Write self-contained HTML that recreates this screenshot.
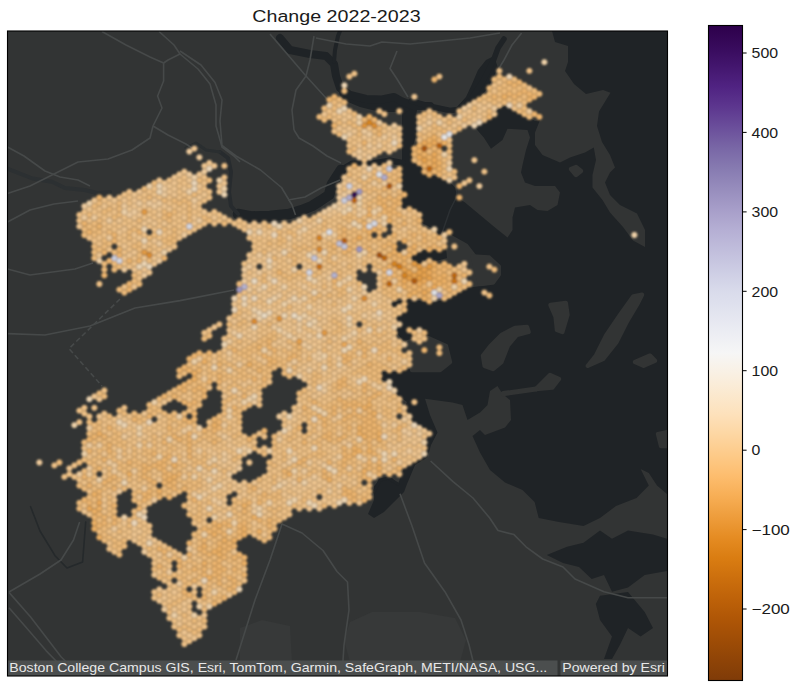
<!DOCTYPE html><html><head><meta charset="utf-8"><title>Change 2022-2023</title>
<style>html,body{margin:0;padding:0;background:#fff}body{width:800px;height:686px;overflow:hidden}svg{display:block}text{font-family:"Liberation Sans",sans-serif}</style></head><body>
<svg width="800" height="686" viewBox="0 0 800 686">
<defs><linearGradient id="cb" x1="0" y1="0" x2="0" y2="1"><stop offset="0.0000" stop-color="rgb(45,0,75)"/><stop offset="0.0312" stop-color="rgb(55,10,91)"/><stop offset="0.0625" stop-color="rgb(67,22,110)"/><stop offset="0.0938" stop-color="rgb(80,35,130)"/><stop offset="0.1250" stop-color="rgb(93,55,143)"/><stop offset="0.1562" stop-color="rgb(107,79,155)"/><stop offset="0.1875" stop-color="rgb(121,103,166)"/><stop offset="0.2188" stop-color="rgb(135,123,177)"/><stop offset="0.2500" stop-color="rgb(151,141,189)"/><stop offset="0.2812" stop-color="rgb(167,158,201)"/><stop offset="0.3125" stop-color="rgb(181,175,212)"/><stop offset="0.3438" stop-color="rgb(193,190,220)"/><stop offset="0.3750" stop-color="rgb(205,205,228)"/><stop offset="0.4062" stop-color="rgb(217,219,235)"/><stop offset="0.4375" stop-color="rgb(226,228,239)"/><stop offset="0.4688" stop-color="rgb(236,237,243)"/><stop offset="0.5000" stop-color="rgb(246,246,246)"/><stop offset="0.5312" stop-color="rgb(249,240,227)"/><stop offset="0.5625" stop-color="rgb(251,233,207)"/><stop offset="0.5938" stop-color="rgb(253,225,187)"/><stop offset="0.6250" stop-color="rgb(253,214,162)"/><stop offset="0.6562" stop-color="rgb(253,202,136)"/><stop offset="0.6875" stop-color="rgb(253,189,110)"/><stop offset="0.7188" stop-color="rgb(247,174,85)"/><stop offset="0.7500" stop-color="rgb(238,157,60)"/><stop offset="0.7812" stop-color="rgb(229,140,35)"/><stop offset="0.8125" stop-color="rgb(218,125,18)"/><stop offset="0.8438" stop-color="rgb(204,111,13)"/><stop offset="0.8750" stop-color="rgb(190,98,9)"/><stop offset="0.9062" stop-color="rgb(175,86,6)"/><stop offset="0.9375" stop-color="rgb(159,77,6)"/><stop offset="0.9688" stop-color="rgb(143,68,7)"/><stop offset="1.0000" stop-color="rgb(127,59,8)"/></linearGradient>
<filter id="soft" x="0" y="0" width="800" height="686" filterUnits="userSpaceOnUse"><feGaussianBlur stdDeviation="0.8"/></filter>
<clipPath id="fr"><rect x="7.5" y="31.0" width="660.0" height="645.0"/></clipPath></defs>
<rect width="800" height="686" fill="#fff"/>
<g clip-path="url(#fr)">
<rect x="0" y="0" width="800" height="686" fill="#323434"/>
<g fill="#1f2326">
<path d="M552.0 31.0 L667.0 31.0 L667.0 494.0 L657.0 485.6 L648.8 473.0 L640.6 469.0 L648.8 485.6 L636.5 498.0 L616.0 506.0 L600.0 518.0 L583.5 526.0 L559.0 522.0 L538.7 518.0 L534.6 502.0 L522.5 490.0 L505.0 482.5 L490.0 470.0 L480.0 452.5 L472.5 436.0 L480.0 430.0 L485.0 435.0 L505.0 427.5 L511.0 420.0 L510.0 400.0 L502.5 394.0 L497.5 386.0 L490.0 391.0 L487.5 405.0 L480.0 412.5 L467.5 420.0 L462.5 405.0 L452.5 402.5 L425.0 398.8 L430.0 415.0 L437.5 432.5 L431.0 445.0 L427.5 457.5 L415.0 465.0 L407.0 484.0 L398.0 484.0 L404.0 468.0 L414.0 452.0 L420.0 440.0 L426.0 432.0 L416.0 427.5 L410.0 420.0 L401.0 415.5 L407.0 402.0 L395.0 393.0 L392.0 382.5 L381.7 379.5 L383.0 372.0 L398.0 372.0 L410.0 369.0 L413.0 352.5 L407.0 345.0 L398.0 334.5 L396.0 318.0 L392.0 303.0 L408.0 299.0 L430.0 303.0 L445.0 300.0 L467.0 288.0 L491.0 284.6 L498.0 272.7 L494.7 264.0 L478.0 257.5 L467.6 244.0 L451.5 235.0 L450.0 231.0 L444.0 233.0 L440.0 238.0 L436.0 230.0 L422.0 223.0 L418.0 212.0 L402.5 207.5 L402.5 175.0 L400.0 167.5 L402.0 160.0 L402.0 108.0 L418.0 103.5 L416.0 116.0 L416.0 135.0 L411.0 154.0 L414.0 162.5 L420.0 166.0 L425.0 172.5 L432.5 176.0 L440.0 177.5 L449.0 181.0 L455.0 187.5 L457.5 197.5 L465.0 202.5 L480.0 215.0 L495.0 227.5 L507.5 237.5 L512.5 230.0 L512.5 217.5 L515.0 207.5 L530.0 205.0 L537.5 210.0 L547.5 211.0 L557.5 205.0 L560.0 192.5 L555.0 186.0 L535.0 186.0 L525.0 182.5 L521.0 172.5 L522.5 165.0 L526.0 150.0 L530.0 137.5 L527.5 130.0 L507.5 128.8 L502.5 140.0 L491.0 148.8 L483.8 137.5 L475.0 127.5 L480.0 122.0 L497.5 110.0 L505.0 106.0 L520.0 113.0 L535.0 121.0 L540.0 120.0 L535.0 132.5 L535.0 145.0 L542.5 155.0 L560.0 162.5 L570.0 157.5 L585.0 152.5 L593.8 147.5 L596.0 160.0 L592.5 175.0 L592.5 187.5 L602.5 200.0 L610.0 212.5 L623.0 227.0 L633.0 240.6 L645.0 247.0 L645.0 230.0 L637.0 213.5 L620.0 205.0 L610.0 195.0 L605.0 182.5 L610.0 172.5 L615.0 167.5 L610.0 155.0 L602.0 142.0 L597.0 126.0 L599.0 111.6 L606.0 100.0 L610.5 92.7 L603.0 90.0 L586.0 94.0 L574.0 84.0 L565.0 71.0 L568.0 62.0 L568.0 46.0 L555.0 42.0Z"/>
<path d="M455.0 109.0 L466.0 97.0 L472.0 84.0 L478.0 70.0 L486.0 60.0 L494.0 56.0 L498.0 68.0 L488.0 88.0 L478.0 99.0 L468.0 111.0Z"/>
<path d="M567.0 546.8 L583.5 542.7 L600.0 530.5 L612.0 538.7 L628.0 530.5 L653.0 534.6 L667.0 538.7 L667.0 571.0 L644.7 575.0 L628.0 587.6 L612.0 591.7 L604.0 575.0 L591.7 579.0 L579.0 567.0 L563.0 563.0 L546.8 555.0Z"/>
<path d="M600.0 595.8 L628.0 592.0 L644.7 612.0 L653.0 628.0 L640.6 636.5 L628.0 628.0 L620.0 644.7 L612.0 659.0 L604.0 659.0 L612.0 636.5 L600.0 620.0 L595.8 604.0Z"/>
<path d="M338.0 88.0 L350.0 96.0 L366.0 100.0 L382.0 100.0 L394.0 96.0 L402.0 102.0 L412.0 108.0 L404.0 114.0 L396.0 112.0 L384.0 112.0 L372.0 110.0 L360.0 107.0 L348.0 102.0 L340.0 96.0Z"/>
<path d="M398.0 484.0 L407.0 484.0 L404.0 492.0 L394.0 502.0 L384.0 512.0 L374.0 518.0 L368.0 514.0 L374.0 500.0 L374.0 486.0 L382.0 478.0 L392.0 478.0Z"/>
<path d="M412.0 256.0 L424.0 250.0 L446.0 248.0 L447.0 258.0 L436.0 261.0 L426.0 259.0 L422.0 265.0 L413.0 260.0Z"/>
</g>
<g fill="none" stroke="#1f2326" stroke-linecap="round" stroke-linejoin="round">
<path stroke-width="8.0" d="M280.0 38.0 L290.0 50.0 L310.0 54.0 L326.0 56.0 L334.0 64.0 L336.0 76.0 L340.0 88.0 L350.0 95.0 L366.0 99.0 L382.0 99.5 L394.0 97.0 L401.0 101.0 L414.0 106.0 L430.0 106.0"/>
<path stroke-width="4.0" d="M334.0 62.0 L335.0 50.0 L338.0 36.0 L340.0 31.0"/>
<path stroke-width="5.5" d="M411.0 101.0 L429.0 106.0 L450.0 110.5 L462.0 109.0 L471.0 99.0 L477.0 90.0 L483.0 81.0 L487.6 72.0 L493.6 60.0 L498.0 48.0 L504.0 39.0"/>
<path stroke-width="6.0" d="M403.0 163.0 L390.0 160.5 L372.0 163.5 L352.0 163.5 L341.0 170.0"/>
<path stroke-width="10.5" d="M341.0 170.0 L332.0 184.0 L329.0 195.0 L320.0 201.0 L312.0 206.0 L302.0 210.0 L289.0 214.0 L270.0 216.0 L251.0 216.5 L238.0 214.0"/>
<path stroke-width="4.0" stroke="#272b2e" d="M238.0 214.0 L231.0 206.0 L229.0 192.0 L231.0 172.0 L228.0 158.0 L220.0 152.0"/>
<path stroke-width="3.0" stroke="#2a2e30" d="M220.0 152.0 L206.0 150.0 L196.0 143.0 L186.0 148.0"/>
<path stroke-width="4.0" stroke="#2c3032" d="M8.0 168.8 L32.5 178.5 L52.0 181.8 L65.0 188.0 L84.5 190.0 L97.5 193.0 L110.0 192.0"/>
<path stroke-width="1.6" stroke="#25292b" d="M30.6 506.7 L40.0 531.0 L55.0 555.7 L67.0 568.0 L82.6 562.0 L85.7 522.0"/>
<path stroke-width="1.5" stroke="#2c3033" d="M441.0 236.0 L450.0 210.0 L456.0 198.0 L459.0 180.0"/>
<path stroke-width="3.0" d="M398.0 484.0 L388.0 478.0 L380.0 480.0 L374.0 492.0"/>
</g>
<g fill="#323434">
<path d="M548.5 305.9 L553.4 317.3 L554.8 330.2 L554.8 330.4 L554.9 330.7 L555.0 330.9 L555.1 331.1 L555.2 331.3 L555.3 331.4 L555.5 331.6 L555.7 331.7 L555.8 331.9 L556.0 332.0 L556.2 332.1 L561.6 334.1 L561.8 334.1 L562.0 334.2 L562.3 334.2 L562.5 334.2 L562.7 334.2 L562.9 334.1 L563.1 334.1 L563.3 334.0 L563.5 333.9 L563.7 333.8 L563.8 333.7 L564.0 333.5 L564.1 333.4 L564.2 333.2 L564.3 333.0 L564.4 332.8 L564.5 332.6 L569.6 315.6 L569.7 315.4 L569.7 315.2 L569.7 314.9 L569.7 314.7 L568.0 302.7 L567.9 302.5 L567.9 302.3 L567.8 302.1 L567.7 301.9 L567.6 301.7 L567.4 301.5 L567.3 301.4 L567.1 301.2 L567.0 301.1 L566.8 301.0 L566.6 300.9 L566.4 300.9 L566.2 300.8 L565.9 300.8 L565.7 300.8 L565.5 300.8 L550.2 302.8 L550.0 302.9 L549.8 302.9 L549.6 303.0 L549.4 303.1 L549.2 303.2 L549.1 303.3 L548.9 303.5 L548.8 303.6 L548.6 303.8 L548.5 304.0 L548.4 304.2 L548.4 304.4 L548.3 304.6 L548.3 304.8 L548.3 305.0 L548.3 305.3 L548.4 305.5 L548.4 305.7Z"/>
<path d="M644.0 295.7 L644.0 295.5 L644.1 295.3 L644.2 295.1 L644.2 294.9 L644.2 294.7 L644.2 294.5 L644.2 294.2 L644.1 294.0 L644.0 293.8 L643.9 293.6 L643.8 293.5 L643.7 293.3 L643.5 293.1 L643.4 293.0 L643.2 292.9 L643.0 292.8 L642.8 292.7 L642.6 292.6 L642.4 292.5 L642.2 292.5 L642.0 292.5 L641.8 292.5 L641.6 292.5 L633.0 294.2 L632.8 294.3 L632.6 294.4 L632.4 294.4 L632.2 294.5 L632.0 294.7 L631.9 294.8 L631.7 295.0 L631.6 295.1 L618.2 313.7 L618.2 313.8 L604.6 333.8 L604.4 334.0 L594.1 354.4 L586.1 364.4 L586.0 364.6 L585.8 364.8 L585.8 365.0 L585.7 365.2 L585.6 365.4 L585.6 365.6 L585.6 365.8 L585.6 366.0 L585.6 366.3 L585.7 366.5 L585.8 366.7 L585.9 366.9 L586.0 367.1 L586.1 367.2 L586.3 367.4 L586.4 367.5 L586.6 367.7 L586.8 367.8 L587.0 367.9 L587.2 367.9 L587.4 368.0 L587.6 368.0 L587.9 368.0 L588.1 368.0 L588.3 367.9 L588.5 367.9 L588.7 367.8 L603.9 361.0 L604.1 360.9 L604.3 360.8 L604.4 360.7 L604.6 360.5 L604.7 360.4 L618.2 343.4 L618.4 343.2 L618.5 343.0 L628.6 322.9 L638.7 306.0 L638.8 305.9Z"/>
<path d="M480.8 355.9 L482.4 366.1 L482.5 366.3 L482.5 366.5 L482.6 366.7 L482.7 366.9 L482.8 367.1 L483.0 367.3 L483.1 367.4 L483.3 367.6 L483.4 367.7 L483.6 367.8 L483.8 367.9 L492.2 371.1 L492.4 371.1 L492.6 371.2 L492.8 371.2 L493.0 371.2 L493.3 371.2 L493.5 371.2 L493.7 371.1 L493.9 371.0 L494.0 370.9 L494.2 370.8 L494.4 370.7 L502.9 363.7 L503.1 363.5 L503.2 363.4 L503.3 363.2 L503.5 363.0 L503.5 362.8 L509.9 346.6 L517.9 337.0 L529.1 334.1 L529.3 334.1 L529.5 334.0 L529.7 333.9 L529.9 333.8 L530.1 333.6 L530.2 333.5 L530.3 333.3 L530.5 333.2 L530.6 333.0 L530.7 332.8 L530.7 332.6 L530.8 332.4 L530.8 332.2 L530.8 332.0 L530.8 331.7 L530.7 331.5 L530.7 331.3 L529.1 326.3 L529.0 326.1 L528.9 325.9 L528.8 325.8 L528.7 325.6 L528.5 325.4 L528.4 325.3 L528.2 325.2 L528.0 325.1 L527.9 325.0 L527.7 324.9 L527.4 324.8 L527.2 324.8 L527.0 324.8 L526.8 324.8 L514.8 325.8 L514.6 325.8 L514.4 325.9 L514.2 326.0 L514.0 326.0 L500.5 333.0 L500.3 333.2 L500.1 333.3 L499.9 333.4 L489.4 343.9 L489.3 344.1 L481.3 354.2 L481.1 354.4 L481.0 354.6 L480.9 354.8 L480.9 355.0 L480.8 355.3 L480.8 355.5 L480.8 355.7Z"/>
<path d="M634.1 364.0 L642.7 367.8 L642.9 367.9 L643.1 367.9 L643.3 368.0 L643.5 368.0 L643.7 368.0 L643.9 368.0 L644.1 367.9 L644.3 367.9 L644.5 367.8 L655.9 362.7 L656.1 362.6 L656.3 362.5 L656.4 362.4 L656.6 362.2 L656.7 362.1 L656.8 361.9 L657.0 361.7 L657.0 361.5 L657.1 361.3 L657.2 361.1 L657.2 360.9 L657.2 360.7 L657.2 360.5 L657.2 360.3 L657.1 360.1 L657.0 359.9 L656.9 359.7 L656.8 359.5 L656.7 359.3 L656.6 359.2 L651.6 354.1 L651.4 353.9 L651.2 353.8 L651.0 353.7 L650.8 353.6 L650.6 353.5 L650.4 353.4 L650.2 353.4 L650.0 353.4 L649.8 353.4 L649.6 353.4 L649.3 353.5 L649.1 353.6 L634.1 360.0 L633.9 360.1 L633.8 360.2 L633.6 360.3 L633.4 360.5 L633.3 360.6 L633.2 360.8 L633.1 361.0 L633.0 361.2 L632.9 361.4 L632.8 361.6 L632.8 361.8 L632.8 362.0 L632.8 362.2 L632.8 362.4 L632.9 362.6 L633.0 362.8 L633.0 363.0 L633.2 363.2 L633.3 363.4 L633.4 363.5 L633.6 363.7 L633.7 363.8 L633.9 363.9Z"/>
<path d="M536.2 391.2 L552.7 389.7 L552.9 389.7 L553.1 389.6 L553.4 389.5 L553.6 389.4 L553.8 389.3 L553.9 389.2 L554.1 389.0 L554.2 388.8 L560.7 380.3 L560.9 380.2 L561.0 380.0 L561.1 379.8 L561.1 379.5 L561.2 379.3 L561.2 379.1 L561.2 378.9 L561.2 378.7 L561.1 378.5 L561.1 378.2 L561.0 378.0 L560.9 377.8 L560.7 377.7 L560.6 377.5 L560.4 377.3 L560.3 377.2 L560.1 377.1 L559.9 377.0 L550.9 373.0 L550.7 372.9 L550.5 372.9 L550.3 372.8 L550.0 372.8 L549.8 372.8 L549.6 372.8 L549.4 372.9 L549.2 373.0 L549.0 373.1 L548.8 373.2 L548.6 373.3 L548.4 373.4 L534.4 387.4 L534.3 387.6 L534.2 387.8 L534.1 388.0 L534.0 388.2 L533.9 388.4 L533.8 388.6 L533.8 388.8 L533.8 389.0 L533.8 389.2 L533.8 389.4 L533.9 389.6 L534.0 389.8 L534.1 390.0 L534.2 390.2 L534.3 390.4 L534.4 390.5 L534.6 390.7 L534.8 390.8 L535.0 390.9 L535.1 391.0 L535.3 391.1 L535.6 391.2 L535.8 391.2 L536.0 391.2Z"/>
<path d="M569.3 170.4 L574.3 176.4 L574.5 176.6 L574.6 176.7 L574.8 176.8 L575.0 176.9 L575.2 177.0 L575.4 177.1 L575.6 177.2 L575.8 177.2 L576.0 177.2 L576.2 177.2 L576.4 177.2 L576.6 177.1 L576.8 177.0 L577.0 177.0 L577.2 176.8 L577.4 176.7 L582.4 172.7 L582.5 172.6 L582.7 172.4 L582.8 172.2 L582.9 172.1 L583.0 171.9 L583.1 171.6 L583.2 171.4 L583.2 171.2 L583.2 171.0 L583.2 170.8 L583.2 170.6 L583.1 170.4 L583.0 170.1 L582.9 169.9 L582.8 169.8 L582.7 169.6 L582.5 169.4 L582.4 169.3 L577.4 165.3 L577.2 165.2 L577.0 165.1 L576.8 165.0 L576.6 164.9 L576.4 164.8 L576.2 164.8 L576.0 164.8 L575.8 164.8 L575.6 164.8 L575.4 164.9 L575.2 165.0 L570.2 167.0 L570.0 167.0 L569.8 167.2 L569.6 167.3 L569.5 167.4 L569.3 167.6 L569.2 167.8 L569.1 168.0 L569.0 168.2 L568.9 168.4 L568.8 168.6 L568.8 168.8 L568.8 169.0 L568.8 169.2 L568.8 169.4 L568.9 169.6 L569.0 169.9 L569.1 170.0 L569.2 170.2Z"/>
<path d="M470.6 257.0 L477.9 284.6 L477.9 284.8 L478.0 285.0 L478.1 285.2 L478.3 285.4 L478.4 285.5 L478.6 285.7 L478.8 285.8 L478.9 285.9 L479.1 286.0 L479.4 286.1 L479.6 286.2 L479.8 286.2 L480.0 286.2 L480.2 286.2 L493.0 284.8 L493.3 284.8 L493.5 284.7 L493.7 284.6 L493.9 284.5 L494.1 284.4 L494.3 284.2 L494.4 284.1 L494.6 283.9 L500.6 275.8 L500.7 275.6 L500.8 275.4 L500.9 275.2 L501.0 275.0 L501.0 274.7 L501.0 274.5 L501.0 266.5 L501.0 266.3 L501.0 266.0 L500.9 265.8 L500.8 265.6 L500.7 265.4 L500.6 265.2 L500.4 265.0 L500.3 264.9 L490.3 255.8 L490.1 255.6 L489.9 255.5 L489.8 255.4 L489.6 255.3 L489.4 255.3 L489.1 255.2 L488.9 255.2 L472.8 254.2 L472.6 254.2 L472.4 254.2 L472.2 254.3 L472.0 254.3 L471.8 254.4 L471.6 254.5 L471.4 254.6 L471.2 254.8 L471.1 254.9 L470.9 255.1 L470.8 255.3 L470.7 255.5 L470.6 255.7 L470.6 255.9 L470.5 256.1 L470.5 256.3 L470.5 256.5 L470.5 256.7Z"/>
<path d="M405.8 342.3 L409.8 370.3 L409.9 370.5 L409.9 370.7 L410.0 370.9 L410.1 371.1 L410.2 371.3 L410.3 371.4 L410.5 371.6 L410.6 371.7 L410.8 371.9 L411.0 372.0 L411.2 372.0 L411.4 372.1 L411.6 372.2 L411.8 372.2 L412.0 372.2 L440.0 372.2 L440.2 372.2 L440.4 372.2 L440.6 372.1 L440.8 372.0 L441.0 371.9 L441.2 371.8 L441.4 371.7 L451.4 363.7 L451.5 363.6 L451.7 363.4 L451.8 363.3 L451.9 363.1 L452.0 362.9 L452.1 362.7 L452.1 362.5 L452.2 362.3 L452.2 362.1 L452.2 361.9 L452.2 361.7 L452.1 361.5 L448.1 345.5 L448.1 345.3 L448.0 345.0 L447.9 344.9 L447.8 344.7 L447.6 344.5 L447.5 344.3 L447.3 344.2 L447.1 344.1 L446.9 344.0 L428.9 336.0 L428.7 335.9 L428.5 335.8 L428.2 335.8 L428.0 335.8 L427.8 335.8 L427.6 335.8 L407.6 339.8 L407.4 339.9 L407.1 340.0 L406.9 340.1 L406.8 340.2 L406.6 340.3 L406.4 340.5 L406.3 340.6 L406.1 340.8 L406.0 341.0 L405.9 341.2 L405.9 341.4 L405.8 341.6 L405.8 341.9 L405.8 342.1Z"/>
<path d="M655.9 434.5 L658.9 446.5 L658.9 446.7 L659.0 446.9 L659.1 447.1 L659.2 447.3 L659.3 447.4 L659.5 447.6 L659.6 447.7 L659.8 447.9 L660.0 448.0 L660.2 448.0 L660.4 448.1 L660.6 448.2 L660.8 448.2 L661.0 448.2 L667.0 448.2 L667.2 448.2 L667.4 448.2 L667.6 448.1 L667.8 448.0 L668.0 447.9 L668.2 447.8 L668.4 447.7 L668.6 447.6 L668.7 447.4 L668.8 447.2 L668.9 447.0 L669.0 446.8 L669.1 446.6 L669.2 446.4 L669.2 446.2 L669.2 446.0 L669.2 432.0 L669.2 431.8 L669.2 431.6 L669.1 431.4 L669.0 431.1 L668.9 431.0 L668.8 430.8 L668.7 430.6 L668.5 430.4 L668.4 430.3 L668.2 430.2 L668.0 430.0 L667.8 430.0 L667.6 429.9 L667.4 429.8 L667.2 429.8 L667.0 429.8 L666.7 429.8 L666.5 429.9 L657.5 431.9 L657.3 431.9 L657.1 432.0 L656.9 432.1 L656.7 432.2 L656.6 432.3 L656.4 432.5 L656.3 432.7 L656.1 432.8 L656.0 433.0 L655.9 433.2 L655.9 433.4 L655.8 433.7 L655.8 433.9 L655.8 434.1 L655.8 434.3Z"/>
<path d="M500.8 393.3 L500.8 394.0 L500.8 394.2 L500.8 394.4 L500.9 394.7 L501.0 394.9 L501.1 395.1 L501.2 395.2 L501.3 395.4 L501.5 395.6 L501.6 395.7 L501.8 395.9 L502.0 396.0 L502.2 396.1 L502.4 396.1 L502.6 396.2 L502.9 396.2 L503.1 396.2 L503.3 396.2 L536.3 391.6 L536.5 391.5 L536.7 391.5 L536.9 391.4 L537.1 391.3 L537.3 391.2 L537.4 391.1 L537.6 390.9 L537.7 390.8 L537.8 390.6 L538.0 390.4 L538.0 390.2 L538.1 390.0 L538.2 389.8 L538.2 389.6 L538.2 389.4 L538.2 388.8 L538.2 388.6 L538.2 388.4 L538.1 388.1 L538.0 387.9 L537.9 387.7 L537.8 387.6 L537.7 387.4 L537.5 387.2 L537.4 387.1 L537.2 386.9 L537.0 386.8 L536.8 386.7 L536.6 386.7 L536.4 386.6 L536.1 386.6 L535.9 386.6 L535.7 386.6 L502.7 391.1 L502.5 391.2 L502.3 391.2 L502.1 391.3 L501.9 391.4 L501.7 391.5 L501.6 391.6 L501.4 391.8 L501.3 391.9 L501.2 392.1 L501.0 392.3 L501.0 392.5 L500.9 392.7 L500.8 392.9 L500.8 393.1Z"/>
</g>
<g fill="#373939">
<path d="M350.0 622.0 L372.0 612.0 L420.0 612.0 L455.0 618.0 L466.0 640.0 L460.0 662.0 L350.0 662.0 L344.0 640.0Z"/>
<path d="M240.0 628.0 L262.0 620.0 L290.0 626.0 L292.0 662.0 L240.0 662.0Z"/>
</g>
<g fill="none" stroke="#464949" stroke-width="1.6" stroke-linejoin="round">
<path d="M102.0 31.5 L126.0 45.0 L150.0 57.0 L163.6 63.0 L163.6 81.0 L157.6 96.0 L162.0 108.0 L153.0 126.0 L150.0 138.0 L132.0 150.0 L108.0 159.0 L78.0 162.0 L54.0 174.0 L30.0 186.0 L7.5 193.6"/>
<path d="M159.0 31.5 L174.0 45.0 L180.0 54.0 L168.0 60.0 L163.6 63.0"/>
<path d="M180.0 54.0 L198.0 69.0 L210.0 84.0 L216.0 105.0 L216.0 126.0 L222.0 147.0 L234.0 156.0 L240.0 162.0"/>
<path d="M7.5 147.0 L24.0 156.0 L45.0 171.0 L60.0 177.0 L78.0 180.0 L90.0 186.0"/>
<path d="M153.0 126.0 L168.0 135.0 L186.0 144.0 L195.0 150.0"/>
<path d="M7.5 222.0 L30.0 210.0 L54.0 204.0 L78.0 201.0"/>
<path d="M180.0 51.0 L201.0 65.0 L215.0 82.5 L222.0 100.0 L220.0 121.0 L222.0 145.5 L236.0 156.0 L260.5 170.0 L281.5 187.5 L292.0 205.0 L295.5 215.0"/>
<path d="M294.0 130.0 L299.0 138.0 L313.0 146.0 L327.0 156.0 L341.0 163.0"/>
<path d="M270.0 34.0 L288.0 55.0 L306.0 76.0 L296.0 90.0 L292.0 110.0 L294.0 130.0"/>
<path d="M314.0 36.0 L310.0 60.0 L306.0 76.0 L326.0 98.0 L334.0 104.0"/>
<path d="M316.0 38.0 L346.0 44.0 L370.0 46.0 L382.0 42.0 L410.0 44.0 L430.0 42.0 L470.0 38.0 L500.0 33.0"/>
<path d="M397.0 51.0 L390.0 68.5 L397.0 79.0 L408.0 97.0"/>
<path d="M7.5 333.6 L45.0 335.0 L90.0 326.0 L135.0 308.0 L180.0 300.6 L234.0 290.0"/>
<path d="M7.5 269.0 L30.0 275.0 L75.0 269.0 L93.0 263.0"/>
<path d="M430.6 461.0 L453.0 481.6 L473.0 498.0 L489.7 518.0 L498.0 530.5 L514.0 534.6 L526.0 546.8 L542.7 559.0 L563.0 567.0 L575.0 579.0 L604.0 591.7 L628.0 597.8 L667.0 597.8"/>
<path d="M400.0 493.8 L412.0 526.0 L424.5 563.0 L444.9 591.7 L461.0 620.0 L469.0 644.7 L473.0 661.0"/>
<path d="M288.0 200.0 L305.0 197.0 L321.0 188.0 L340.0 180.0"/>
<path d="M521.6 33.0 L512.0 45.0 L504.0 60.0 L498.0 70.0"/>
<path d="M282.0 524.0 L270.0 560.0 L255.0 600.0 L236.0 660.0"/>
<path d="M282.0 524.0 L302.0 533.0 L323.0 550.5 L337.0 571.5 L347.5 582.0 L349.0 610.0 L344.0 645.0 L342.0 676.0"/>
<path d="M9.0 592.0 L40.0 574.0 L61.0 560.0 L73.5 540.0 L79.6 522.0"/>
<path d="M9.0 592.4 L30.6 617.0 L49.0 641.0 L61.0 656.7 L70.4 666.0"/>
<path d="M9.0 607.7 L27.5 629.0 L46.0 650.6 L58.0 663.0"/>
<path stroke-dasharray="5 3" d="M120.0 299.0 L69.0 348.6 L102.0 386.0"/>
</g>
<g filter="url(#soft)" stroke="#2a1a06" stroke-opacity="0.2" stroke-width="0.75" stroke-linejoin="round">
<path fill="rgb(164,82,9)" d="M376.0 255.2l1.68 -2.88h3.36l1.68 2.88l-1.68 2.88h-3.36z"/>
<path fill="rgb(169,85,9)" d="M421.0 148.6l1.68 -2.88h3.36l1.68 2.88l-1.68 2.88h-3.36z"/>
<path fill="rgb(176,91,11)" d="M386.0 186.1l1.68 -2.88h3.36l1.68 2.88l-1.68 2.88h-3.36zM411.0 281.1l1.68 -2.88h3.36l1.68 2.88l-1.68 2.88h-3.36z"/>
<path fill="rgb(182,97,13)" d="M341.0 240.8l1.68 -2.88h3.36l1.68 2.88l-1.68 2.88h-3.36zM436.0 145.7l1.68 -2.88h3.36l1.68 2.88l-1.68 2.88h-3.36z"/>
<path fill="rgb(189,104,15)" d="M426.0 168.8l1.68 -2.88h3.36l1.68 2.88l-1.68 2.88h-3.36zM351.0 200.5l1.68 -2.88h3.36l1.68 2.88l-1.68 2.88h-3.36zM381.0 258.1l1.68 -2.88h3.36l1.68 2.88l-1.68 2.88h-3.36zM386.0 284.0l1.68 -2.88h3.36l1.68 2.88l-1.68 2.88h-3.36zM451.0 275.3l1.68 -2.88h3.36l1.68 2.88l-1.68 2.88h-3.36z"/>
<path fill="rgb(200,114,19)" d="M451.0 281.1l1.68 -2.88h3.36l1.68 2.88l-1.68 2.88h-3.36zM316.0 266.7l1.68 -2.88h3.36l1.68 2.88l-1.68 2.88h-3.36z"/>
<path fill="rgb(211,125,25)" d="M396.0 266.7l1.68 -2.88h3.36l1.68 2.88l-1.68 2.88h-3.36z"/>
<path fill="rgb(215,133,36)" d="M366.0 122.7l1.68 -2.88h3.36l1.68 2.88l-1.68 2.88h-3.36zM316.0 237.9l1.68 -2.88h3.36l1.68 2.88l-1.68 2.88h-3.36zM391.0 263.8l1.68 -2.88h3.36l1.68 2.88l-1.68 2.88h-3.36zM401.0 275.3l1.68 -2.88h3.36l1.68 2.88l-1.68 2.88h-3.36z"/>
<path fill="rgb(220,141,48)" d="M361.0 298.4l1.68 -2.88h3.36l1.68 2.88l-1.68 2.88h-3.36zM371.0 125.6l1.68 -2.88h3.36l1.68 2.88l-1.68 2.88h-3.36zM316.0 249.4l1.68 -2.88h3.36l1.68 2.88l-1.68 2.88h-3.36zM251.0 321.4l1.68 -2.88h3.36l1.68 2.88l-1.68 2.88h-3.36zM146.0 255.2l1.68 -2.88h3.36l1.68 2.88l-1.68 2.88h-3.36z"/>
<path fill="rgb(224,149,59)" d="M361.0 125.6l1.68 -2.88h3.36l1.68 2.88l-1.68 2.88h-3.36zM276.0 318.5l1.68 -2.88h3.36l1.68 2.88l-1.68 2.88h-3.36z"/>
<path fill="rgb(227,155,68)" d="M141.0 212.0l1.68 -2.88h3.36l1.68 2.88l-1.68 2.88h-3.36zM406.0 278.2l1.68 -2.88h3.36l1.68 2.88l-1.68 2.88h-3.36zM416.0 278.2l1.68 -2.88h3.36l1.68 2.88l-1.68 2.88h-3.36zM411.0 263.8l1.68 -2.88h3.36l1.68 2.88l-1.68 2.88h-3.36zM426.0 266.7l1.68 -2.88h3.36l1.68 2.88l-1.68 2.88h-3.36zM416.0 266.7l1.68 -2.88h3.36l1.68 2.88l-1.68 2.88h-3.36zM141.0 252.3l1.68 -2.88h3.36l1.68 2.88l-1.68 2.88h-3.36zM321.0 332.9l1.68 -2.88h3.36l1.68 2.88l-1.68 2.88h-3.36z"/>
<path fill="rgb(231,163,79)" d="M426.0 278.2l1.68 -2.88h3.36l1.68 2.88l-1.68 2.88h-3.36zM401.0 269.6l1.68 -2.88h3.36l1.68 2.88l-1.68 2.88h-3.36zM406.0 272.5l1.68 -2.88h3.36l1.68 2.88l-1.68 2.88h-3.36zM421.0 275.3l1.68 -2.88h3.36l1.68 2.88l-1.68 2.88h-3.36zM421.0 160.1l1.68 -2.88h3.36l1.68 2.88l-1.68 2.88h-3.36zM296.0 341.6l1.68 -2.88h3.36l1.68 2.88l-1.68 2.88h-3.36zM416.0 272.5l1.68 -2.88h3.36l1.68 2.88l-1.68 2.88h-3.36zM421.0 269.6l1.68 -2.88h3.36l1.68 2.88l-1.68 2.88h-3.36zM411.0 275.3l1.68 -2.88h3.36l1.68 2.88l-1.68 2.88h-3.36z"/>
<path fill="rgb(235,170,91)" d="M431.0 165.9l1.68 -2.88h3.36l1.68 2.88l-1.68 2.88h-3.36zM341.0 344.5l1.68 -2.88h3.36l1.68 2.88l-1.68 2.88h-3.36zM421.0 281.1l1.68 -2.88h3.36l1.68 2.88l-1.68 2.88h-3.36zM356.0 237.9l1.68 -2.88h3.36l1.68 2.88l-1.68 2.88h-3.36zM431.0 160.1l1.68 -2.88h3.36l1.68 2.88l-1.68 2.88h-3.36zM401.0 281.1l1.68 -2.88h3.36l1.68 2.88l-1.68 2.88h-3.36zM421.0 292.6l1.68 -2.88h3.36l1.68 2.88l-1.68 2.88h-3.36zM431.0 286.9l1.68 -2.88h3.36l1.68 2.88l-1.68 2.88h-3.36zM96.0 502.9l1.68 -2.88h3.36l1.68 2.88l-1.68 2.88h-3.36zM86.0 508.6l1.68 -2.88h3.36l1.68 2.88l-1.68 2.88h-3.36zM426.0 145.7l1.68 -2.88h3.36l1.68 2.88l-1.68 2.88h-3.36zM426.0 272.5l1.68 -2.88h3.36l1.68 2.88l-1.68 2.88h-3.36zM431.0 142.9l1.68 -2.88h3.36l1.68 2.88l-1.68 2.88h-3.36zM421.0 142.9l1.68 -2.88h3.36l1.68 2.88l-1.68 2.88h-3.36zM416.0 157.3l1.68 -2.88h3.36l1.68 2.88l-1.68 2.88h-3.36zM431.0 154.4l1.68 -2.88h3.36l1.68 2.88l-1.68 2.88h-3.36zM416.0 284.0l1.68 -2.88h3.36l1.68 2.88l-1.68 2.88h-3.36z"/>
<path fill="rgb(237,177,102)" d="M431.0 281.1l1.68 -2.88h3.36l1.68 2.88l-1.68 2.88h-3.36zM411.0 292.6l1.68 -2.88h3.36l1.68 2.88l-1.68 2.88h-3.36zM96.0 537.4l1.68 -2.88h3.36l1.68 2.88l-1.68 2.88h-3.36zM426.0 163.0l1.68 -2.88h3.36l1.68 2.88l-1.68 2.88h-3.36zM361.0 407.8l1.68 -2.88h3.36l1.68 2.88l-1.68 2.88h-3.36zM171.0 465.4l1.68 -2.88h3.36l1.68 2.88l-1.68 2.88h-3.36zM356.0 428.0l1.68 -2.88h3.36l1.68 2.88l-1.68 2.88h-3.36zM166.0 479.8l1.68 -2.88h3.36l1.68 2.88l-1.68 2.88h-3.36zM246.0 364.6l1.68 -2.88h3.36l1.68 2.88l-1.68 2.88h-3.36zM426.0 289.7l1.68 -2.88h3.36l1.68 2.88l-1.68 2.88h-3.36zM426.0 174.5l1.68 -2.88h3.36l1.68 2.88l-1.68 2.88h-3.36zM171.0 476.9l1.68 -2.88h3.36l1.68 2.88l-1.68 2.88h-3.36zM386.0 255.2l1.68 -2.88h3.36l1.68 2.88l-1.68 2.88h-3.36zM201.0 563.3l1.68 -2.88h3.36l1.68 2.88l-1.68 2.88h-3.36zM96.0 433.7l1.68 -2.88h3.36l1.68 2.88l-1.68 2.88h-3.36zM191.0 379.0l1.68 -2.88h3.36l1.68 2.88l-1.68 2.88h-3.36zM416.0 289.7l1.68 -2.88h3.36l1.68 2.88l-1.68 2.88h-3.36zM241.0 528.8l1.68 -2.88h3.36l1.68 2.88l-1.68 2.88h-3.36zM221.0 540.3l1.68 -2.88h3.36l1.68 2.88l-1.68 2.88h-3.36zM256.0 531.7l1.68 -2.88h3.36l1.68 2.88l-1.68 2.88h-3.36zM351.0 448.1l1.68 -2.88h3.36l1.68 2.88l-1.68 2.88h-3.36zM366.0 451.0l1.68 -2.88h3.36l1.68 2.88l-1.68 2.88h-3.36zM216.0 525.9l1.68 -2.88h3.36l1.68 2.88l-1.68 2.88h-3.36zM191.0 373.3l1.68 -2.88h3.36l1.68 2.88l-1.68 2.88h-3.36zM91.0 494.2l1.68 -2.88h3.36l1.68 2.88l-1.68 2.88h-3.36zM501.0 96.8l1.68 -2.88h3.36l1.68 2.88l-1.68 2.88h-3.36zM376.0 468.3l1.68 -2.88h3.36l1.68 2.88l-1.68 2.88h-3.36zM386.0 266.7l1.68 -2.88h3.36l1.68 2.88l-1.68 2.88h-3.36zM91.0 511.5l1.68 -2.88h3.36l1.68 2.88l-1.68 2.88h-3.36zM356.0 451.0l1.68 -2.88h3.36l1.68 2.88l-1.68 2.88h-3.36zM211.0 534.5l1.68 -2.88h3.36l1.68 2.88l-1.68 2.88h-3.36zM366.0 404.9l1.68 -2.88h3.36l1.68 2.88l-1.68 2.88h-3.36zM401.0 286.9l1.68 -2.88h3.36l1.68 2.88l-1.68 2.88h-3.36zM231.0 540.3l1.68 -2.88h3.36l1.68 2.88l-1.68 2.88h-3.36zM406.0 295.5l1.68 -2.88h3.36l1.68 2.88l-1.68 2.88h-3.36zM206.0 577.7l1.68 -2.88h3.36l1.68 2.88l-1.68 2.88h-3.36zM241.0 534.5l1.68 -2.88h3.36l1.68 2.88l-1.68 2.88h-3.36zM366.0 214.9l1.68 -2.88h3.36l1.68 2.88l-1.68 2.88h-3.36zM421.0 298.4l1.68 -2.88h3.36l1.68 2.88l-1.68 2.88h-3.36zM126.0 474.1l1.68 -2.88h3.36l1.68 2.88l-1.68 2.88h-3.36zM421.0 165.9l1.68 -2.88h3.36l1.68 2.88l-1.68 2.88h-3.36zM351.0 453.9l1.68 -2.88h3.36l1.68 2.88l-1.68 2.88h-3.36zM441.0 142.9l1.68 -2.88h3.36l1.68 2.88l-1.68 2.88h-3.36zM411.0 246.5l1.68 -2.88h3.36l1.68 2.88l-1.68 2.88h-3.36zM426.0 249.4l1.68 -2.88h3.36l1.68 2.88l-1.68 2.88h-3.36zM156.0 491.3l1.68 -2.88h3.36l1.68 2.88l-1.68 2.88h-3.36zM326.0 479.8l1.68 -2.88h3.36l1.68 2.88l-1.68 2.88h-3.36zM96.0 508.6l1.68 -2.88h3.36l1.68 2.88l-1.68 2.88h-3.36zM361.0 436.6l1.68 -2.88h3.36l1.68 2.88l-1.68 2.88h-3.36zM286.0 474.1l1.68 -2.88h3.36l1.68 2.88l-1.68 2.88h-3.36zM381.0 206.2l1.68 -2.88h3.36l1.68 2.88l-1.68 2.88h-3.36zM401.0 240.8l1.68 -2.88h3.36l1.68 2.88l-1.68 2.88h-3.36zM376.0 433.7l1.68 -2.88h3.36l1.68 2.88l-1.68 2.88h-3.36zM436.0 284.0l1.68 -2.88h3.36l1.68 2.88l-1.68 2.88h-3.36zM241.0 563.3l1.68 -2.88h3.36l1.68 2.88l-1.68 2.88h-3.36zM371.0 413.6l1.68 -2.88h3.36l1.68 2.88l-1.68 2.88h-3.36zM431.0 263.8l1.68 -2.88h3.36l1.68 2.88l-1.68 2.88h-3.36zM211.0 425.1l1.68 -2.88h3.36l1.68 2.88l-1.68 2.88h-3.36zM91.0 528.8l1.68 -2.88h3.36l1.68 2.88l-1.68 2.88h-3.36zM436.0 278.2l1.68 -2.88h3.36l1.68 2.88l-1.68 2.88h-3.36zM441.0 281.1l1.68 -2.88h3.36l1.68 2.88l-1.68 2.88h-3.36zM436.0 163.0l1.68 -2.88h3.36l1.68 2.88l-1.68 2.88h-3.36zM211.0 551.8l1.68 -2.88h3.36l1.68 2.88l-1.68 2.88h-3.36zM216.0 554.7l1.68 -2.88h3.36l1.68 2.88l-1.68 2.88h-3.36zM416.0 145.7l1.68 -2.88h3.36l1.68 2.88l-1.68 2.88h-3.36zM201.0 361.7l1.68 -2.88h3.36l1.68 2.88l-1.68 2.88h-3.36zM251.0 517.3l1.68 -2.88h3.36l1.68 2.88l-1.68 2.88h-3.36zM431.0 275.3l1.68 -2.88h3.36l1.68 2.88l-1.68 2.88h-3.36zM391.0 252.3l1.68 -2.88h3.36l1.68 2.88l-1.68 2.88h-3.36zM426.0 140.0l1.68 -2.88h3.36l1.68 2.88l-1.68 2.88h-3.36zM91.0 523.0l1.68 -2.88h3.36l1.68 2.88l-1.68 2.88h-3.36zM441.0 275.3l1.68 -2.88h3.36l1.68 2.88l-1.68 2.88h-3.36zM386.0 220.6l1.68 -2.88h3.36l1.68 2.88l-1.68 2.88h-3.36zM406.0 255.2l1.68 -2.88h3.36l1.68 2.88l-1.68 2.88h-3.36zM366.0 232.1l1.68 -2.88h3.36l1.68 2.88l-1.68 2.88h-3.36zM426.0 157.3l1.68 -2.88h3.36l1.68 2.88l-1.68 2.88h-3.36zM376.0 439.5l1.68 -2.88h3.36l1.68 2.88l-1.68 2.88h-3.36zM401.0 263.8l1.68 -2.88h3.36l1.68 2.88l-1.68 2.88h-3.36zM201.0 546.1l1.68 -2.88h3.36l1.68 2.88l-1.68 2.88h-3.36zM366.0 116.9l1.68 -2.88h3.36l1.68 2.88l-1.68 2.88h-3.36zM216.0 548.9l1.68 -2.88h3.36l1.68 2.88l-1.68 2.88h-3.36zM431.0 269.6l1.68 -2.88h3.36l1.68 2.88l-1.68 2.88h-3.36zM391.0 246.5l1.68 -2.88h3.36l1.68 2.88l-1.68 2.88h-3.36zM396.0 255.2l1.68 -2.88h3.36l1.68 2.88l-1.68 2.88h-3.36zM431.0 137.1l1.68 -2.88h3.36l1.68 2.88l-1.68 2.88h-3.36zM371.0 229.3l1.68 -2.88h3.36l1.68 2.88l-1.68 2.88h-3.36zM401.0 258.1l1.68 -2.88h3.36l1.68 2.88l-1.68 2.88h-3.36zM361.0 471.2l1.68 -2.88h3.36l1.68 2.88l-1.68 2.88h-3.36zM241.0 505.7l1.68 -2.88h3.36l1.68 2.88l-1.68 2.88h-3.36zM436.0 168.8l1.68 -2.88h3.36l1.68 2.88l-1.68 2.88h-3.36zM356.0 433.7l1.68 -2.88h3.36l1.68 2.88l-1.68 2.88h-3.36zM416.0 151.5l1.68 -2.88h3.36l1.68 2.88l-1.68 2.88h-3.36zM421.0 154.4l1.68 -2.88h3.36l1.68 2.88l-1.68 2.88h-3.36z"/>
<path fill="rgb(237,181,111)" d="M376.0 203.3l1.68 -2.88h3.36l1.68 2.88l-1.68 2.88h-3.36zM366.0 428.0l1.68 -2.88h3.36l1.68 2.88l-1.68 2.88h-3.36zM371.0 430.9l1.68 -2.88h3.36l1.68 2.88l-1.68 2.88h-3.36zM331.0 407.8l1.68 -2.88h3.36l1.68 2.88l-1.68 2.88h-3.36zM391.0 258.1l1.68 -2.88h3.36l1.68 2.88l-1.68 2.88h-3.36zM211.0 574.9l1.68 -2.88h3.36l1.68 2.88l-1.68 2.88h-3.36zM431.0 148.6l1.68 -2.88h3.36l1.68 2.88l-1.68 2.88h-3.36zM81.0 476.9l1.68 -2.88h3.36l1.68 2.88l-1.68 2.88h-3.36zM526.0 99.7l1.68 -2.88h3.36l1.68 2.88l-1.68 2.88h-3.36zM211.0 442.4l1.68 -2.88h3.36l1.68 2.88l-1.68 2.88h-3.36zM391.0 200.5l1.68 -2.88h3.36l1.68 2.88l-1.68 2.88h-3.36zM291.0 356.0l1.68 -2.88h3.36l1.68 2.88l-1.68 2.88h-3.36zM366.0 237.9l1.68 -2.88h3.36l1.68 2.88l-1.68 2.88h-3.36zM151.0 453.9l1.68 -2.88h3.36l1.68 2.88l-1.68 2.88h-3.36zM366.0 445.3l1.68 -2.88h3.36l1.68 2.88l-1.68 2.88h-3.36zM426.0 295.5l1.68 -2.88h3.36l1.68 2.88l-1.68 2.88h-3.36zM156.0 462.5l1.68 -2.88h3.36l1.68 2.88l-1.68 2.88h-3.36zM161.0 258.1l1.68 -2.88h3.36l1.68 2.88l-1.68 2.88h-3.36zM226.0 577.7l1.68 -2.88h3.36l1.68 2.88l-1.68 2.88h-3.36zM186.0 554.7l1.68 -2.88h3.36l1.68 2.88l-1.68 2.88h-3.36zM231.0 580.6l1.68 -2.88h3.36l1.68 2.88l-1.68 2.88h-3.36zM101.0 275.3l1.68 -2.88h3.36l1.68 2.88l-1.68 2.88h-3.36zM196.0 353.1l1.68 -2.88h3.36l1.68 2.88l-1.68 2.88h-3.36zM386.0 243.7l1.68 -2.88h3.36l1.68 2.88l-1.68 2.88h-3.36zM341.0 419.3l1.68 -2.88h3.36l1.68 2.88l-1.68 2.88h-3.36zM191.0 500.0l1.68 -2.88h3.36l1.68 2.88l-1.68 2.88h-3.36zM241.0 574.9l1.68 -2.88h3.36l1.68 2.88l-1.68 2.88h-3.36zM116.0 249.4l1.68 -2.88h3.36l1.68 2.88l-1.68 2.88h-3.36zM111.0 476.9l1.68 -2.88h3.36l1.68 2.88l-1.68 2.88h-3.36zM436.0 237.9l1.68 -2.88h3.36l1.68 2.88l-1.68 2.88h-3.36zM361.0 350.2l1.68 -2.88h3.36l1.68 2.88l-1.68 2.88h-3.36zM186.0 439.5l1.68 -2.88h3.36l1.68 2.88l-1.68 2.88h-3.36zM341.0 361.7l1.68 -2.88h3.36l1.68 2.88l-1.68 2.88h-3.36zM376.0 462.5l1.68 -2.88h3.36l1.68 2.88l-1.68 2.88h-3.36zM361.0 425.1l1.68 -2.88h3.36l1.68 2.88l-1.68 2.88h-3.36zM341.0 229.3l1.68 -2.88h3.36l1.68 2.88l-1.68 2.88h-3.36zM351.0 494.2l1.68 -2.88h3.36l1.68 2.88l-1.68 2.88h-3.36zM201.0 569.1l1.68 -2.88h3.36l1.68 2.88l-1.68 2.88h-3.36zM301.0 442.4l1.68 -2.88h3.36l1.68 2.88l-1.68 2.88h-3.36zM186.0 381.9l1.68 -2.88h3.36l1.68 2.88l-1.68 2.88h-3.36zM416.0 220.6l1.68 -2.88h3.36l1.68 2.88l-1.68 2.88h-3.36zM376.0 197.6l1.68 -2.88h3.36l1.68 2.88l-1.68 2.88h-3.36zM516.0 93.9l1.68 -2.88h3.36l1.68 2.88l-1.68 2.88h-3.36zM371.0 425.1l1.68 -2.88h3.36l1.68 2.88l-1.68 2.88h-3.36zM256.0 520.1l1.68 -2.88h3.36l1.68 2.88l-1.68 2.88h-3.36zM391.0 459.7l1.68 -2.88h3.36l1.68 2.88l-1.68 2.88h-3.36zM396.0 260.9l1.68 -2.88h3.36l1.68 2.88l-1.68 2.88h-3.36zM411.0 286.9l1.68 -2.88h3.36l1.68 2.88l-1.68 2.88h-3.36zM236.0 531.7l1.68 -2.88h3.36l1.68 2.88l-1.68 2.88h-3.36zM416.0 295.5l1.68 -2.88h3.36l1.68 2.88l-1.68 2.88h-3.36zM216.0 572.0l1.68 -2.88h3.36l1.68 2.88l-1.68 2.88h-3.36zM411.0 154.4l1.68 -2.88h3.36l1.68 2.88l-1.68 2.88h-3.36zM296.0 462.5l1.68 -2.88h3.36l1.68 2.88l-1.68 2.88h-3.36zM456.0 186.1l1.68 -2.88h3.36l1.68 2.88l-1.68 2.88h-3.36zM416.0 163.0l1.68 -2.88h3.36l1.68 2.88l-1.68 2.88h-3.36zM396.0 203.3l1.68 -2.88h3.36l1.68 2.88l-1.68 2.88h-3.36zM181.0 419.3l1.68 -2.88h3.36l1.68 2.88l-1.68 2.88h-3.36zM366.0 439.5l1.68 -2.88h3.36l1.68 2.88l-1.68 2.88h-3.36zM161.0 459.7l1.68 -2.88h3.36l1.68 2.88l-1.68 2.88h-3.36zM391.0 269.6l1.68 -2.88h3.36l1.68 2.88l-1.68 2.88h-3.36zM141.0 471.2l1.68 -2.88h3.36l1.68 2.88l-1.68 2.88h-3.36zM216.0 381.9l1.68 -2.88h3.36l1.68 2.88l-1.68 2.88h-3.36zM391.0 212.0l1.68 -2.88h3.36l1.68 2.88l-1.68 2.88h-3.36zM446.0 266.7l1.68 -2.88h3.36l1.68 2.88l-1.68 2.88h-3.36zM366.0 249.4l1.68 -2.88h3.36l1.68 2.88l-1.68 2.88h-3.36zM151.0 465.4l1.68 -2.88h3.36l1.68 2.88l-1.68 2.88h-3.36zM211.0 528.8l1.68 -2.88h3.36l1.68 2.88l-1.68 2.88h-3.36zM311.0 402.1l1.68 -2.88h3.36l1.68 2.88l-1.68 2.88h-3.36zM361.0 476.9l1.68 -2.88h3.36l1.68 2.88l-1.68 2.88h-3.36zM256.0 347.3l1.68 -2.88h3.36l1.68 2.88l-1.68 2.88h-3.36zM81.0 223.5l1.68 -2.88h3.36l1.68 2.88l-1.68 2.88h-3.36zM226.0 589.3l1.68 -2.88h3.36l1.68 2.88l-1.68 2.88h-3.36zM326.0 462.5l1.68 -2.88h3.36l1.68 2.88l-1.68 2.88h-3.36zM86.0 232.1l1.68 -2.88h3.36l1.68 2.88l-1.68 2.88h-3.36zM341.0 488.5l1.68 -2.88h3.36l1.68 2.88l-1.68 2.88h-3.36zM191.0 569.1l1.68 -2.88h3.36l1.68 2.88l-1.68 2.88h-3.36zM346.0 497.1l1.68 -2.88h3.36l1.68 2.88l-1.68 2.88h-3.36zM371.0 119.8l1.68 -2.88h3.36l1.68 2.88l-1.68 2.88h-3.36zM96.0 491.3l1.68 -2.88h3.36l1.68 2.88l-1.68 2.88h-3.36zM331.0 96.8l1.68 -2.88h3.36l1.68 2.88l-1.68 2.88h-3.36zM341.0 356.0l1.68 -2.88h3.36l1.68 2.88l-1.68 2.88h-3.36zM266.0 347.3l1.68 -2.88h3.36l1.68 2.88l-1.68 2.88h-3.36zM221.0 523.0l1.68 -2.88h3.36l1.68 2.88l-1.68 2.88h-3.36zM361.0 419.3l1.68 -2.88h3.36l1.68 2.88l-1.68 2.88h-3.36zM381.0 246.5l1.68 -2.88h3.36l1.68 2.88l-1.68 2.88h-3.36zM96.0 226.4l1.68 -2.88h3.36l1.68 2.88l-1.68 2.88h-3.36zM421.0 350.2l1.68 -2.88h3.36l1.68 2.88l-1.68 2.88h-3.36zM221.0 597.9l1.68 -2.88h3.36l1.68 2.88l-1.68 2.88h-3.36zM321.0 471.2l1.68 -2.88h3.36l1.68 2.88l-1.68 2.88h-3.36zM111.0 488.5l1.68 -2.88h3.36l1.68 2.88l-1.68 2.88h-3.36zM436.0 249.4l1.68 -2.88h3.36l1.68 2.88l-1.68 2.88h-3.36zM381.0 188.9l1.68 -2.88h3.36l1.68 2.88l-1.68 2.88h-3.36zM186.0 451.0l1.68 -2.88h3.36l1.68 2.88l-1.68 2.88h-3.36zM386.0 197.6l1.68 -2.88h3.36l1.68 2.88l-1.68 2.88h-3.36zM401.0 223.5l1.68 -2.88h3.36l1.68 2.88l-1.68 2.88h-3.36zM316.0 416.5l1.68 -2.88h3.36l1.68 2.88l-1.68 2.88h-3.36zM261.0 356.0l1.68 -2.88h3.36l1.68 2.88l-1.68 2.88h-3.36zM361.0 229.3l1.68 -2.88h3.36l1.68 2.88l-1.68 2.88h-3.36zM376.0 474.1l1.68 -2.88h3.36l1.68 2.88l-1.68 2.88h-3.36zM266.0 364.6l1.68 -2.88h3.36l1.68 2.88l-1.68 2.88h-3.36zM241.0 396.3l1.68 -2.88h3.36l1.68 2.88l-1.68 2.88h-3.36zM206.0 381.9l1.68 -2.88h3.36l1.68 2.88l-1.68 2.88h-3.36zM261.0 430.9l1.68 -2.88h3.36l1.68 2.88l-1.68 2.88h-3.36zM511.0 96.8l1.68 -2.88h3.36l1.68 2.88l-1.68 2.88h-3.36zM436.0 266.7l1.68 -2.88h3.36l1.68 2.88l-1.68 2.88h-3.36zM371.0 436.6l1.68 -2.88h3.36l1.68 2.88l-1.68 2.88h-3.36zM331.0 413.6l1.68 -2.88h3.36l1.68 2.88l-1.68 2.88h-3.36zM181.0 488.5l1.68 -2.88h3.36l1.68 2.88l-1.68 2.88h-3.36zM141.0 465.4l1.68 -2.88h3.36l1.68 2.88l-1.68 2.88h-3.36zM106.0 451.0l1.68 -2.88h3.36l1.68 2.88l-1.68 2.88h-3.36zM196.0 548.9l1.68 -2.88h3.36l1.68 2.88l-1.68 2.88h-3.36zM111.0 240.8l1.68 -2.88h3.36l1.68 2.88l-1.68 2.88h-3.36zM216.0 583.5l1.68 -2.88h3.36l1.68 2.88l-1.68 2.88h-3.36zM176.0 560.5l1.68 -2.88h3.36l1.68 2.88l-1.68 2.88h-3.36zM456.0 197.6l1.68 -2.88h3.36l1.68 2.88l-1.68 2.88h-3.36zM201.0 390.5l1.68 -2.88h3.36l1.68 2.88l-1.68 2.88h-3.36zM161.0 396.3l1.68 -2.88h3.36l1.68 2.88l-1.68 2.88h-3.36zM391.0 206.2l1.68 -2.88h3.36l1.68 2.88l-1.68 2.88h-3.36zM396.0 214.9l1.68 -2.88h3.36l1.68 2.88l-1.68 2.88h-3.36zM211.0 523.0l1.68 -2.88h3.36l1.68 2.88l-1.68 2.88h-3.36zM426.0 301.3l1.68 -2.88h3.36l1.68 2.88l-1.68 2.88h-3.36zM156.0 468.3l1.68 -2.88h3.36l1.68 2.88l-1.68 2.88h-3.36zM371.0 453.9l1.68 -2.88h3.36l1.68 2.88l-1.68 2.88h-3.36zM161.0 471.2l1.68 -2.88h3.36l1.68 2.88l-1.68 2.88h-3.36zM231.0 586.4l1.68 -2.88h3.36l1.68 2.88l-1.68 2.88h-3.36zM346.0 491.3l1.68 -2.88h3.36l1.68 2.88l-1.68 2.88h-3.36zM106.0 260.9l1.68 -2.88h3.36l1.68 2.88l-1.68 2.88h-3.36zM136.0 508.6l1.68 -2.88h3.36l1.68 2.88l-1.68 2.88h-3.36zM431.0 171.7l1.68 -2.88h3.36l1.68 2.88l-1.68 2.88h-3.36zM176.0 370.4l1.68 -2.88h3.36l1.68 2.88l-1.68 2.88h-3.36zM81.0 500.0l1.68 -2.88h3.36l1.68 2.88l-1.68 2.88h-3.36zM346.0 358.9l1.68 -2.88h3.36l1.68 2.88l-1.68 2.88h-3.36zM251.0 488.5l1.68 -2.88h3.36l1.68 2.88l-1.68 2.88h-3.36zM226.0 525.9l1.68 -2.88h3.36l1.68 2.88l-1.68 2.88h-3.36zM491.0 96.8l1.68 -2.88h3.36l1.68 2.88l-1.68 2.88h-3.36zM406.0 284.0l1.68 -2.88h3.36l1.68 2.88l-1.68 2.88h-3.36zM191.0 580.6l1.68 -2.88h3.36l1.68 2.88l-1.68 2.88h-3.36zM186.0 445.3l1.68 -2.88h3.36l1.68 2.88l-1.68 2.88h-3.36zM246.0 502.9l1.68 -2.88h3.36l1.68 2.88l-1.68 2.88h-3.36zM421.0 286.9l1.68 -2.88h3.36l1.68 2.88l-1.68 2.88h-3.36zM166.0 485.6l1.68 -2.88h3.36l1.68 2.88l-1.68 2.88h-3.36zM266.0 358.9l1.68 -2.88h3.36l1.68 2.88l-1.68 2.88h-3.36zM221.0 534.5l1.68 -2.88h3.36l1.68 2.88l-1.68 2.88h-3.36zM361.0 430.9l1.68 -2.88h3.36l1.68 2.88l-1.68 2.88h-3.36zM341.0 235.0l1.68 -2.88h3.36l1.68 2.88l-1.68 2.88h-3.36zM171.0 488.5l1.68 -2.88h3.36l1.68 2.88l-1.68 2.88h-3.36zM226.0 543.2l1.68 -2.88h3.36l1.68 2.88l-1.68 2.88h-3.36zM136.0 260.9l1.68 -2.88h3.36l1.68 2.88l-1.68 2.88h-3.36zM91.0 436.6l1.68 -2.88h3.36l1.68 2.88l-1.68 2.88h-3.36zM201.0 574.9l1.68 -2.88h3.36l1.68 2.88l-1.68 2.88h-3.36zM191.0 390.5l1.68 -2.88h3.36l1.68 2.88l-1.68 2.88h-3.36zM166.0 428.0l1.68 -2.88h3.36l1.68 2.88l-1.68 2.88h-3.36zM381.0 200.5l1.68 -2.88h3.36l1.68 2.88l-1.68 2.88h-3.36zM441.0 263.8l1.68 -2.88h3.36l1.68 2.88l-1.68 2.88h-3.36zM386.0 209.1l1.68 -2.88h3.36l1.68 2.88l-1.68 2.88h-3.36zM236.0 537.4l1.68 -2.88h3.36l1.68 2.88l-1.68 2.88h-3.36zM146.0 468.3l1.68 -2.88h3.36l1.68 2.88l-1.68 2.88h-3.36zM106.0 445.3l1.68 -2.88h3.36l1.68 2.88l-1.68 2.88h-3.36zM111.0 235.0l1.68 -2.88h3.36l1.68 2.88l-1.68 2.88h-3.36zM221.0 551.8l1.68 -2.88h3.36l1.68 2.88l-1.68 2.88h-3.36zM216.0 577.7l1.68 -2.88h3.36l1.68 2.88l-1.68 2.88h-3.36zM341.0 252.3l1.68 -2.88h3.36l1.68 2.88l-1.68 2.88h-3.36zM86.0 485.6l1.68 -2.88h3.36l1.68 2.88l-1.68 2.88h-3.36zM421.0 171.7l1.68 -2.88h3.36l1.68 2.88l-1.68 2.88h-3.36zM411.0 235.0l1.68 -2.88h3.36l1.68 2.88l-1.68 2.88h-3.36zM161.0 465.4l1.68 -2.88h3.36l1.68 2.88l-1.68 2.88h-3.36zM391.0 275.3l1.68 -2.88h3.36l1.68 2.88l-1.68 2.88h-3.36zM396.0 284.0l1.68 -2.88h3.36l1.68 2.88l-1.68 2.88h-3.36zM141.0 476.9l1.68 -2.88h3.36l1.68 2.88l-1.68 2.88h-3.36zM236.0 554.7l1.68 -2.88h3.36l1.68 2.88l-1.68 2.88h-3.36zM101.0 482.7l1.68 -2.88h3.36l1.68 2.88l-1.68 2.88h-3.36zM126.0 289.7l1.68 -2.88h3.36l1.68 2.88l-1.68 2.88h-3.36zM181.0 367.5l1.68 -2.88h3.36l1.68 2.88l-1.68 2.88h-3.36zM86.0 502.9l1.68 -2.88h3.36l1.68 2.88l-1.68 2.88h-3.36zM176.0 439.5l1.68 -2.88h3.36l1.68 2.88l-1.68 2.88h-3.36zM351.0 402.1l1.68 -2.88h3.36l1.68 2.88l-1.68 2.88h-3.36zM411.0 252.3l1.68 -2.88h3.36l1.68 2.88l-1.68 2.88h-3.36zM346.0 428.0l1.68 -2.88h3.36l1.68 2.88l-1.68 2.88h-3.36zM366.0 462.5l1.68 -2.88h3.36l1.68 2.88l-1.68 2.88h-3.36zM161.0 482.7l1.68 -2.88h3.36l1.68 2.88l-1.68 2.88h-3.36zM341.0 494.2l1.68 -2.88h3.36l1.68 2.88l-1.68 2.88h-3.36zM96.0 497.1l1.68 -2.88h3.36l1.68 2.88l-1.68 2.88h-3.36zM196.0 370.4l1.68 -2.88h3.36l1.68 2.88l-1.68 2.88h-3.36zM461.0 275.3l1.68 -2.88h3.36l1.68 2.88l-1.68 2.88h-3.36zM171.0 482.7l1.68 -2.88h3.36l1.68 2.88l-1.68 2.88h-3.36zM341.0 436.6l1.68 -2.88h3.36l1.68 2.88l-1.68 2.88h-3.36zM361.0 500.0l1.68 -2.88h3.36l1.68 2.88l-1.68 2.88h-3.36zM321.0 476.9l1.68 -2.88h3.36l1.68 2.88l-1.68 2.88h-3.36zM231.0 407.8l1.68 -2.88h3.36l1.68 2.88l-1.68 2.88h-3.36zM246.0 439.5l1.68 -2.88h3.36l1.68 2.88l-1.68 2.88h-3.36zM211.0 419.3l1.68 -2.88h3.36l1.68 2.88l-1.68 2.88h-3.36zM96.0 514.4l1.68 -2.88h3.36l1.68 2.88l-1.68 2.88h-3.36zM196.0 387.7l1.68 -2.88h3.36l1.68 2.88l-1.68 2.88h-3.36zM261.0 494.2l1.68 -2.88h3.36l1.68 2.88l-1.68 2.88h-3.36zM186.0 456.8l1.68 -2.88h3.36l1.68 2.88l-1.68 2.88h-3.36zM341.0 379.0l1.68 -2.88h3.36l1.68 2.88l-1.68 2.88h-3.36zM396.0 468.3l1.68 -2.88h3.36l1.68 2.88l-1.68 2.88h-3.36zM166.0 497.1l1.68 -2.88h3.36l1.68 2.88l-1.68 2.88h-3.36zM221.0 546.1l1.68 -2.88h3.36l1.68 2.88l-1.68 2.88h-3.36zM321.0 419.3l1.68 -2.88h3.36l1.68 2.88l-1.68 2.88h-3.36zM381.0 269.6l1.68 -2.88h3.36l1.68 2.88l-1.68 2.88h-3.36zM231.0 350.2l1.68 -2.88h3.36l1.68 2.88l-1.68 2.88h-3.36zM386.0 278.2l1.68 -2.88h3.36l1.68 2.88l-1.68 2.88h-3.36zM341.0 453.9l1.68 -2.88h3.36l1.68 2.88l-1.68 2.88h-3.36zM101.0 252.3l1.68 -2.88h3.36l1.68 2.88l-1.68 2.88h-3.36zM301.0 459.7l1.68 -2.88h3.36l1.68 2.88l-1.68 2.88h-3.36zM281.0 471.2l1.68 -2.88h3.36l1.68 2.88l-1.68 2.88h-3.36zM396.0 410.7l1.68 -2.88h3.36l1.68 2.88l-1.68 2.88h-3.36zM421.0 240.8l1.68 -2.88h3.36l1.68 2.88l-1.68 2.88h-3.36zM436.0 272.5l1.68 -2.88h3.36l1.68 2.88l-1.68 2.88h-3.36zM361.0 384.8l1.68 -2.88h3.36l1.68 2.88l-1.68 2.88h-3.36zM381.0 212.0l1.68 -2.88h3.36l1.68 2.88l-1.68 2.88h-3.36zM396.0 278.2l1.68 -2.88h3.36l1.68 2.88l-1.68 2.88h-3.36zM146.0 479.8l1.68 -2.88h3.36l1.68 2.88l-1.68 2.88h-3.36zM201.0 528.8l1.68 -2.88h3.36l1.68 2.88l-1.68 2.88h-3.36zM436.0 140.0l1.68 -2.88h3.36l1.68 2.88l-1.68 2.88h-3.36zM261.0 379.0l1.68 -2.88h3.36l1.68 2.88l-1.68 2.88h-3.36zM126.0 284.0l1.68 -2.88h3.36l1.68 2.88l-1.68 2.88h-3.36zM176.0 566.2l1.68 -2.88h3.36l1.68 2.88l-1.68 2.88h-3.36zM296.0 479.8l1.68 -2.88h3.36l1.68 2.88l-1.68 2.88h-3.36zM201.0 396.3l1.68 -2.88h3.36l1.68 2.88l-1.68 2.88h-3.36zM361.0 119.8l1.68 -2.88h3.36l1.68 2.88l-1.68 2.88h-3.36zM296.0 347.3l1.68 -2.88h3.36l1.68 2.88l-1.68 2.88h-3.36zM356.0 404.9l1.68 -2.88h3.36l1.68 2.88l-1.68 2.88h-3.36zM376.0 232.1l1.68 -2.88h3.36l1.68 2.88l-1.68 2.88h-3.36zM336.0 237.9l1.68 -2.88h3.36l1.68 2.88l-1.68 2.88h-3.36zM161.0 476.9l1.68 -2.88h3.36l1.68 2.88l-1.68 2.88h-3.36zM216.0 531.7l1.68 -2.88h3.36l1.68 2.88l-1.68 2.88h-3.36zM86.0 439.5l1.68 -2.88h3.36l1.68 2.88l-1.68 2.88h-3.36zM211.0 603.7l1.68 -2.88h3.36l1.68 2.88l-1.68 2.88h-3.36zM156.0 548.9l1.68 -2.88h3.36l1.68 2.88l-1.68 2.88h-3.36zM161.0 551.8l1.68 -2.88h3.36l1.68 2.88l-1.68 2.88h-3.36zM366.0 399.2l1.68 -2.88h3.36l1.68 2.88l-1.68 2.88h-3.36zM446.0 284.0l1.68 -2.88h3.36l1.68 2.88l-1.68 2.88h-3.36zM406.0 289.7l1.68 -2.88h3.36l1.68 2.88l-1.68 2.88h-3.36zM151.0 482.7l1.68 -2.88h3.36l1.68 2.88l-1.68 2.88h-3.36zM101.0 436.6l1.68 -2.88h3.36l1.68 2.88l-1.68 2.88h-3.36zM331.0 246.5l1.68 -2.88h3.36l1.68 2.88l-1.68 2.88h-3.36zM366.0 209.1l1.68 -2.88h3.36l1.68 2.88l-1.68 2.88h-3.36zM366.0 416.5l1.68 -2.88h3.36l1.68 2.88l-1.68 2.88h-3.36zM486.0 116.9l1.68 -2.88h3.36l1.68 2.88l-1.68 2.88h-3.36zM226.0 548.9l1.68 -2.88h3.36l1.68 2.88l-1.68 2.88h-3.36zM341.0 448.1l1.68 -2.88h3.36l1.68 2.88l-1.68 2.88h-3.36zM346.0 249.4l1.68 -2.88h3.36l1.68 2.88l-1.68 2.88h-3.36zM251.0 379.0l1.68 -2.88h3.36l1.68 2.88l-1.68 2.88h-3.36zM346.0 456.8l1.68 -2.88h3.36l1.68 2.88l-1.68 2.88h-3.36zM111.0 505.7l1.68 -2.88h3.36l1.68 2.88l-1.68 2.88h-3.36zM91.0 517.3l1.68 -2.88h3.36l1.68 2.88l-1.68 2.88h-3.36zM211.0 430.9l1.68 -2.88h3.36l1.68 2.88l-1.68 2.88h-3.36zM421.0 235.0l1.68 -2.88h3.36l1.68 2.88l-1.68 2.88h-3.36zM441.0 269.6l1.68 -2.88h3.36l1.68 2.88l-1.68 2.88h-3.36zM171.0 436.6l1.68 -2.88h3.36l1.68 2.88l-1.68 2.88h-3.36zM386.0 214.9l1.68 -2.88h3.36l1.68 2.88l-1.68 2.88h-3.36zM206.0 531.7l1.68 -2.88h3.36l1.68 2.88l-1.68 2.88h-3.36zM221.0 557.6l1.68 -2.88h3.36l1.68 2.88l-1.68 2.88h-3.36zM381.0 281.1l1.68 -2.88h3.36l1.68 2.88l-1.68 2.88h-3.36zM186.0 543.2l1.68 -2.88h3.36l1.68 2.88l-1.68 2.88h-3.36zM201.0 597.9l1.68 -2.88h3.36l1.68 2.88l-1.68 2.88h-3.36zM326.0 99.7l1.68 -2.88h3.36l1.68 2.88l-1.68 2.88h-3.36zM111.0 523.0l1.68 -2.88h3.36l1.68 2.88l-1.68 2.88h-3.36zM146.0 416.5l1.68 -2.88h3.36l1.68 2.88l-1.68 2.88h-3.36zM336.0 439.5l1.68 -2.88h3.36l1.68 2.88l-1.68 2.88h-3.36zM146.0 491.3l1.68 -2.88h3.36l1.68 2.88l-1.68 2.88h-3.36zM201.0 540.3l1.68 -2.88h3.36l1.68 2.88l-1.68 2.88h-3.36zM436.0 151.5l1.68 -2.88h3.36l1.68 2.88l-1.68 2.88h-3.36zM356.0 341.6l1.68 -2.88h3.36l1.68 2.88l-1.68 2.88h-3.36zM371.0 396.3l1.68 -2.88h3.36l1.68 2.88l-1.68 2.88h-3.36zM431.0 246.5l1.68 -2.88h3.36l1.68 2.88l-1.68 2.88h-3.36zM446.0 278.2l1.68 -2.88h3.36l1.68 2.88l-1.68 2.88h-3.36zM336.0 381.9l1.68 -2.88h3.36l1.68 2.88l-1.68 2.88h-3.36zM351.0 407.8l1.68 -2.88h3.36l1.68 2.88l-1.68 2.88h-3.36zM366.0 468.3l1.68 -2.88h3.36l1.68 2.88l-1.68 2.88h-3.36zM216.0 543.2l1.68 -2.88h3.36l1.68 2.88l-1.68 2.88h-3.36zM86.0 451.0l1.68 -2.88h3.36l1.68 2.88l-1.68 2.88h-3.36zM141.0 500.0l1.68 -2.88h3.36l1.68 2.88l-1.68 2.88h-3.36zM176.0 387.7l1.68 -2.88h3.36l1.68 2.88l-1.68 2.88h-3.36zM181.0 390.5l1.68 -2.88h3.36l1.68 2.88l-1.68 2.88h-3.36zM366.0 410.7l1.68 -2.88h3.36l1.68 2.88l-1.68 2.88h-3.36zM231.0 546.1l1.68 -2.88h3.36l1.68 2.88l-1.68 2.88h-3.36zM186.0 595.0l1.68 -2.88h3.36l1.68 2.88l-1.68 2.88h-3.36zM331.0 125.6l1.68 -2.88h3.36l1.68 2.88l-1.68 2.88h-3.36zM341.0 384.8l1.68 -2.88h3.36l1.68 2.88l-1.68 2.88h-3.36zM271.0 350.2l1.68 -2.88h3.36l1.68 2.88l-1.68 2.88h-3.36zM321.0 425.1l1.68 -2.88h3.36l1.68 2.88l-1.68 2.88h-3.36zM326.0 433.7l1.68 -2.88h3.36l1.68 2.88l-1.68 2.88h-3.36zM341.0 459.7l1.68 -2.88h3.36l1.68 2.88l-1.68 2.88h-3.36zM186.0 404.9l1.68 -2.88h3.36l1.68 2.88l-1.68 2.88h-3.36zM111.0 517.3l1.68 -2.88h3.36l1.68 2.88l-1.68 2.88h-3.36zM521.0 91.0l1.68 -2.88h3.36l1.68 2.88l-1.68 2.88h-3.36zM386.0 358.9l1.68 -2.88h3.36l1.68 2.88l-1.68 2.88h-3.36zM376.0 428.0l1.68 -2.88h3.36l1.68 2.88l-1.68 2.88h-3.36zM361.0 390.5l1.68 -2.88h3.36l1.68 2.88l-1.68 2.88h-3.36zM266.0 525.9l1.68 -2.88h3.36l1.68 2.88l-1.68 2.88h-3.36zM341.0 402.1l1.68 -2.88h3.36l1.68 2.88l-1.68 2.88h-3.36zM131.0 419.3l1.68 -2.88h3.36l1.68 2.88l-1.68 2.88h-3.36zM96.0 197.6l1.68 -2.88h3.36l1.68 2.88l-1.68 2.88h-3.36zM241.0 557.6l1.68 -2.88h3.36l1.68 2.88l-1.68 2.88h-3.36zM301.0 407.8l1.68 -2.88h3.36l1.68 2.88l-1.68 2.88h-3.36zM221.0 569.1l1.68 -2.88h3.36l1.68 2.88l-1.68 2.88h-3.36zM186.0 422.2l1.68 -2.88h3.36l1.68 2.88l-1.68 2.88h-3.36zM401.0 194.7l1.68 -2.88h3.36l1.68 2.88l-1.68 2.88h-3.36zM456.0 284.0l1.68 -2.88h3.36l1.68 2.88l-1.68 2.88h-3.36zM376.0 237.9l1.68 -2.88h3.36l1.68 2.88l-1.68 2.88h-3.36zM296.0 428.0l1.68 -2.88h3.36l1.68 2.88l-1.68 2.88h-3.36zM141.0 494.2l1.68 -2.88h3.36l1.68 2.88l-1.68 2.88h-3.36zM106.0 479.8l1.68 -2.88h3.36l1.68 2.88l-1.68 2.88h-3.36zM201.0 551.8l1.68 -2.88h3.36l1.68 2.88l-1.68 2.88h-3.36zM206.0 353.1l1.68 -2.88h3.36l1.68 2.88l-1.68 2.88h-3.36zM181.0 384.8l1.68 -2.88h3.36l1.68 2.88l-1.68 2.88h-3.36zM181.0 592.1l1.68 -2.88h3.36l1.68 2.88l-1.68 2.88h-3.36zM361.0 142.9l1.68 -2.88h3.36l1.68 2.88l-1.68 2.88h-3.36zM256.0 502.9l1.68 -2.88h3.36l1.68 2.88l-1.68 2.88h-3.36zM391.0 235.0l1.68 -2.88h3.36l1.68 2.88l-1.68 2.88h-3.36zM446.0 289.7l1.68 -2.88h3.36l1.68 2.88l-1.68 2.88h-3.36zM366.0 479.8l1.68 -2.88h3.36l1.68 2.88l-1.68 2.88h-3.36zM156.0 497.1l1.68 -2.88h3.36l1.68 2.88l-1.68 2.88h-3.36zM256.0 370.4l1.68 -2.88h3.36l1.68 2.88l-1.68 2.88h-3.36zM101.0 517.3l1.68 -2.88h3.36l1.68 2.88l-1.68 2.88h-3.36zM216.0 422.2l1.68 -2.88h3.36l1.68 2.88l-1.68 2.88h-3.36zM276.0 272.5l1.68 -2.88h3.36l1.68 2.88l-1.68 2.88h-3.36zM506.0 82.4l1.68 -2.88h3.36l1.68 2.88l-1.68 2.88h-3.36zM181.0 402.1l1.68 -2.88h3.36l1.68 2.88l-1.68 2.88h-3.36zM511.0 85.3l1.68 -2.88h3.36l1.68 2.88l-1.68 2.88h-3.36zM166.0 214.9l1.68 -2.88h3.36l1.68 2.88l-1.68 2.88h-3.36zM366.0 422.2l1.68 -2.88h3.36l1.68 2.88l-1.68 2.88h-3.36zM161.0 442.4l1.68 -2.88h3.36l1.68 2.88l-1.68 2.88h-3.36zM176.0 474.1l1.68 -2.88h3.36l1.68 2.88l-1.68 2.88h-3.36zM231.0 557.6l1.68 -2.88h3.36l1.68 2.88l-1.68 2.88h-3.36zM211.0 569.1l1.68 -2.88h3.36l1.68 2.88l-1.68 2.88h-3.36zM101.0 459.7l1.68 -2.88h3.36l1.68 2.88l-1.68 2.88h-3.36zM216.0 364.6l1.68 -2.88h3.36l1.68 2.88l-1.68 2.88h-3.36zM191.0 402.1l1.68 -2.88h3.36l1.68 2.88l-1.68 2.88h-3.36zM526.0 93.9l1.68 -2.88h3.36l1.68 2.88l-1.68 2.88h-3.36zM366.0 364.6l1.68 -2.88h3.36l1.68 2.88l-1.68 2.88h-3.36zM266.0 520.1l1.68 -2.88h3.36l1.68 2.88l-1.68 2.88h-3.36zM346.0 404.9l1.68 -2.88h3.36l1.68 2.88l-1.68 2.88h-3.36zM271.0 361.7l1.68 -2.88h3.36l1.68 2.88l-1.68 2.88h-3.36zM321.0 436.6l1.68 -2.88h3.36l1.68 2.88l-1.68 2.88h-3.36zM381.0 286.9l1.68 -2.88h3.36l1.68 2.88l-1.68 2.88h-3.36zM191.0 419.3l1.68 -2.88h3.36l1.68 2.88l-1.68 2.88h-3.36zM396.0 428.0l1.68 -2.88h3.36l1.68 2.88l-1.68 2.88h-3.36zM166.0 456.8l1.68 -2.88h3.36l1.68 2.88l-1.68 2.88h-3.36zM136.0 232.1l1.68 -2.88h3.36l1.68 2.88l-1.68 2.88h-3.36zM146.0 497.1l1.68 -2.88h3.36l1.68 2.88l-1.68 2.88h-3.36zM436.0 157.3l1.68 -2.88h3.36l1.68 2.88l-1.68 2.88h-3.36zM206.0 554.7l1.68 -2.88h3.36l1.68 2.88l-1.68 2.88h-3.36zM186.0 358.9l1.68 -2.88h3.36l1.68 2.88l-1.68 2.88h-3.36zM531.0 96.8l1.68 -2.88h3.36l1.68 2.88l-1.68 2.88h-3.36zM336.0 387.7l1.68 -2.88h3.36l1.68 2.88l-1.68 2.88h-3.36zM186.0 433.7l1.68 -2.88h3.36l1.68 2.88l-1.68 2.88h-3.36zM351.0 413.6l1.68 -2.88h3.36l1.68 2.88l-1.68 2.88h-3.36zM241.0 511.5l1.68 -2.88h3.36l1.68 2.88l-1.68 2.88h-3.36zM166.0 474.1l1.68 -2.88h3.36l1.68 2.88l-1.68 2.88h-3.36zM436.0 174.5l1.68 -2.88h3.36l1.68 2.88l-1.68 2.88h-3.36zM156.0 566.2l1.68 -2.88h3.36l1.68 2.88l-1.68 2.88h-3.36zM396.0 180.3l1.68 -2.88h3.36l1.68 2.88l-1.68 2.88h-3.36zM201.0 430.9l1.68 -2.88h3.36l1.68 2.88l-1.68 2.88h-3.36zM531.0 114.1l1.68 -2.88h3.36l1.68 2.88l-1.68 2.88h-3.36zM371.0 419.3l1.68 -2.88h3.36l1.68 2.88l-1.68 2.88h-3.36zM236.0 525.9l1.68 -2.88h3.36l1.68 2.88l-1.68 2.88h-3.36zM211.0 563.3l1.68 -2.88h3.36l1.68 2.88l-1.68 2.88h-3.36zM126.0 260.9l1.68 -2.88h3.36l1.68 2.88l-1.68 2.88h-3.36zM216.0 566.2l1.68 -2.88h3.36l1.68 2.88l-1.68 2.88h-3.36zM411.0 148.6l1.68 -2.88h3.36l1.68 2.88l-1.68 2.88h-3.36zM376.0 134.2l1.68 -2.88h3.36l1.68 2.88l-1.68 2.88h-3.36zM96.0 525.9l1.68 -2.88h3.36l1.68 2.88l-1.68 2.88h-3.36zM351.0 165.9l1.68 -2.88h3.36l1.68 2.88l-1.68 2.88h-3.36zM506.0 93.9l1.68 -2.88h3.36l1.68 2.88l-1.68 2.88h-3.36zM396.0 197.6l1.68 -2.88h3.36l1.68 2.88l-1.68 2.88h-3.36zM406.0 249.4l1.68 -2.88h3.36l1.68 2.88l-1.68 2.88h-3.36zM366.0 433.7l1.68 -2.88h3.36l1.68 2.88l-1.68 2.88h-3.36zM431.0 79.5l1.68 -2.88h3.36l1.68 2.88l-1.68 2.88h-3.36zM326.0 439.5l1.68 -2.88h3.36l1.68 2.88l-1.68 2.88h-3.36zM351.0 240.8l1.68 -2.88h3.36l1.68 2.88l-1.68 2.88h-3.36zM341.0 465.4l1.68 -2.88h3.36l1.68 2.88l-1.68 2.88h-3.36zM231.0 569.1l1.68 -2.88h3.36l1.68 2.88l-1.68 2.88h-3.36zM96.0 468.3l1.68 -2.88h3.36l1.68 2.88l-1.68 2.88h-3.36zM331.0 281.1l1.68 -2.88h3.36l1.68 2.88l-1.68 2.88h-3.36zM216.0 376.1l1.68 -2.88h3.36l1.68 2.88l-1.68 2.88h-3.36zM191.0 413.6l1.68 -2.88h3.36l1.68 2.88l-1.68 2.88h-3.36zM441.0 286.9l1.68 -2.88h3.36l1.68 2.88l-1.68 2.88h-3.36zM286.0 358.9l1.68 -2.88h3.36l1.68 2.88l-1.68 2.88h-3.36zM341.0 407.8l1.68 -2.88h3.36l1.68 2.88l-1.68 2.88h-3.36zM346.0 416.5l1.68 -2.88h3.36l1.68 2.88l-1.68 2.88h-3.36zM406.0 266.7l1.68 -2.88h3.36l1.68 2.88l-1.68 2.88h-3.36zM191.0 356.0l1.68 -2.88h3.36l1.68 2.88l-1.68 2.88h-3.36zM171.0 396.3l1.68 -2.88h3.36l1.68 2.88l-1.68 2.88h-3.36zM356.0 416.5l1.68 -2.88h3.36l1.68 2.88l-1.68 2.88h-3.36zM266.0 341.6l1.68 -2.88h3.36l1.68 2.88l-1.68 2.88h-3.36zM116.0 255.2l1.68 -2.88h3.36l1.68 2.88l-1.68 2.88h-3.36zM186.0 370.4l1.68 -2.88h3.36l1.68 2.88l-1.68 2.88h-3.36zM516.0 82.4l1.68 -2.88h3.36l1.68 2.88l-1.68 2.88h-3.36zM376.0 393.4l1.68 -2.88h3.36l1.68 2.88l-1.68 2.88h-3.36zM361.0 356.0l1.68 -2.88h3.36l1.68 2.88l-1.68 2.88h-3.36zM536.0 116.9l1.68 -2.88h3.36l1.68 2.88l-1.68 2.88h-3.36zM336.0 399.2l1.68 -2.88h3.36l1.68 2.88l-1.68 2.88h-3.36zM241.0 523.0l1.68 -2.88h3.36l1.68 2.88l-1.68 2.88h-3.36zM106.0 428.0l1.68 -2.88h3.36l1.68 2.88l-1.68 2.88h-3.36zM361.0 223.5l1.68 -2.88h3.36l1.68 2.88l-1.68 2.88h-3.36zM126.0 462.5l1.68 -2.88h3.36l1.68 2.88l-1.68 2.88h-3.36zM216.0 560.5l1.68 -2.88h3.36l1.68 2.88l-1.68 2.88h-3.36zM351.0 500.0l1.68 -2.88h3.36l1.68 2.88l-1.68 2.88h-3.36zM376.0 128.5l1.68 -2.88h3.36l1.68 2.88l-1.68 2.88h-3.36zM101.0 523.0l1.68 -2.88h3.36l1.68 2.88l-1.68 2.88h-3.36zM216.0 428.0l1.68 -2.88h3.36l1.68 2.88l-1.68 2.88h-3.36z"/>
<path fill="rgb(237,187,123)" d="M396.0 191.8l1.68 -2.88h3.36l1.68 2.88l-1.68 2.88h-3.36zM411.0 217.7l1.68 -2.88h3.36l1.68 2.88l-1.68 2.88h-3.36zM511.0 91.0l1.68 -2.88h3.36l1.68 2.88l-1.68 2.88h-3.36zM416.0 226.4l1.68 -2.88h3.36l1.68 2.88l-1.68 2.88h-3.36zM516.0 99.7l1.68 -2.88h3.36l1.68 2.88l-1.68 2.88h-3.36zM166.0 220.6l1.68 -2.88h3.36l1.68 2.88l-1.68 2.88h-3.36zM351.0 235.0l1.68 -2.88h3.36l1.68 2.88l-1.68 2.88h-3.36zM176.0 479.8l1.68 -2.88h3.36l1.68 2.88l-1.68 2.88h-3.36zM296.0 393.4l1.68 -2.88h3.36l1.68 2.88l-1.68 2.88h-3.36zM231.0 563.3l1.68 -2.88h3.36l1.68 2.88l-1.68 2.88h-3.36zM351.0 442.4l1.68 -2.88h3.36l1.68 2.88l-1.68 2.88h-3.36zM181.0 482.7l1.68 -2.88h3.36l1.68 2.88l-1.68 2.88h-3.36zM146.0 260.9l1.68 -2.88h3.36l1.68 2.88l-1.68 2.88h-3.36zM196.0 543.2l1.68 -2.88h3.36l1.68 2.88l-1.68 2.88h-3.36zM216.0 370.4l1.68 -2.88h3.36l1.68 2.88l-1.68 2.88h-3.36zM411.0 160.1l1.68 -2.88h3.36l1.68 2.88l-1.68 2.88h-3.36zM366.0 370.4l1.68 -2.88h3.36l1.68 2.88l-1.68 2.88h-3.36zM271.0 500.0l1.68 -2.88h3.36l1.68 2.88l-1.68 2.88h-3.36zM371.0 373.3l1.68 -2.88h3.36l1.68 2.88l-1.68 2.88h-3.36zM101.0 540.3l1.68 -2.88h3.36l1.68 2.88l-1.68 2.88h-3.36zM156.0 595.0l1.68 -2.88h3.36l1.68 2.88l-1.68 2.88h-3.36zM176.0 422.2l1.68 -2.88h3.36l1.68 2.88l-1.68 2.88h-3.36zM231.0 505.7l1.68 -2.88h3.36l1.68 2.88l-1.68 2.88h-3.36zM191.0 482.7l1.68 -2.88h3.36l1.68 2.88l-1.68 2.88h-3.36zM406.0 260.9l1.68 -2.88h3.36l1.68 2.88l-1.68 2.88h-3.36zM271.0 367.5l1.68 -2.88h3.36l1.68 2.88l-1.68 2.88h-3.36zM371.0 240.8l1.68 -2.88h3.36l1.68 2.88l-1.68 2.88h-3.36zM196.0 485.6l1.68 -2.88h3.36l1.68 2.88l-1.68 2.88h-3.36zM116.0 439.5l1.68 -2.88h3.36l1.68 2.88l-1.68 2.88h-3.36zM446.0 122.7l1.68 -2.88h3.36l1.68 2.88l-1.68 2.88h-3.36zM336.0 226.4l1.68 -2.88h3.36l1.68 2.88l-1.68 2.88h-3.36zM131.0 494.2l1.68 -2.88h3.36l1.68 2.88l-1.68 2.88h-3.36zM291.0 430.9l1.68 -2.88h3.36l1.68 2.88l-1.68 2.88h-3.36zM136.0 502.9l1.68 -2.88h3.36l1.68 2.88l-1.68 2.88h-3.36zM381.0 367.5l1.68 -2.88h3.36l1.68 2.88l-1.68 2.88h-3.36zM276.0 237.9l1.68 -2.88h3.36l1.68 2.88l-1.68 2.88h-3.36zM186.0 629.6l1.68 -2.88h3.36l1.68 2.88l-1.68 2.88h-3.36zM191.0 425.1l1.68 -2.88h3.36l1.68 2.88l-1.68 2.88h-3.36zM521.0 108.3l1.68 -2.88h3.36l1.68 2.88l-1.68 2.88h-3.36zM346.0 353.1l1.68 -2.88h3.36l1.68 2.88l-1.68 2.88h-3.36zM366.0 180.3l1.68 -2.88h3.36l1.68 2.88l-1.68 2.88h-3.36zM526.0 116.9l1.68 -2.88h3.36l1.68 2.88l-1.68 2.88h-3.36zM426.0 237.9l1.68 -2.88h3.36l1.68 2.88l-1.68 2.88h-3.36zM161.0 200.5l1.68 -2.88h3.36l1.68 2.88l-1.68 2.88h-3.36zM486.0 88.1l1.68 -2.88h3.36l1.68 2.88l-1.68 2.88h-3.36zM441.0 298.4l1.68 -2.88h3.36l1.68 2.88l-1.68 2.88h-3.36zM226.0 520.1l1.68 -2.88h3.36l1.68 2.88l-1.68 2.88h-3.36zM231.0 315.7l1.68 -2.88h3.36l1.68 2.88l-1.68 2.88h-3.36zM186.0 497.1l1.68 -2.88h3.36l1.68 2.88l-1.68 2.88h-3.36zM381.0 442.4l1.68 -2.88h3.36l1.68 2.88l-1.68 2.88h-3.36zM246.0 347.3l1.68 -2.88h3.36l1.68 2.88l-1.68 2.88h-3.36zM346.0 220.6l1.68 -2.88h3.36l1.68 2.88l-1.68 2.88h-3.36zM251.0 350.2l1.68 -2.88h3.36l1.68 2.88l-1.68 2.88h-3.36zM366.0 255.2l1.68 -2.88h3.36l1.68 2.88l-1.68 2.88h-3.36zM96.0 422.2l1.68 -2.88h3.36l1.68 2.88l-1.68 2.88h-3.36zM206.0 560.5l1.68 -2.88h3.36l1.68 2.88l-1.68 2.88h-3.36zM441.0 165.9l1.68 -2.88h3.36l1.68 2.88l-1.68 2.88h-3.36zM221.0 586.4l1.68 -2.88h3.36l1.68 2.88l-1.68 2.88h-3.36zM226.0 387.7l1.68 -2.88h3.36l1.68 2.88l-1.68 2.88h-3.36zM186.0 364.6l1.68 -2.88h3.36l1.68 2.88l-1.68 2.88h-3.36zM81.0 229.3l1.68 -2.88h3.36l1.68 2.88l-1.68 2.88h-3.36zM326.0 260.9l1.68 -2.88h3.36l1.68 2.88l-1.68 2.88h-3.36zM341.0 286.9l1.68 -2.88h3.36l1.68 2.88l-1.68 2.88h-3.36zM186.0 572.0l1.68 -2.88h3.36l1.68 2.88l-1.68 2.88h-3.36zM191.0 367.5l1.68 -2.88h3.36l1.68 2.88l-1.68 2.88h-3.36zM76.0 462.5l1.68 -2.88h3.36l1.68 2.88l-1.68 2.88h-3.36zM131.0 511.5l1.68 -2.88h3.36l1.68 2.88l-1.68 2.88h-3.36zM91.0 488.5l1.68 -2.88h3.36l1.68 2.88l-1.68 2.88h-3.36zM206.0 428.0l1.68 -2.88h3.36l1.68 2.88l-1.68 2.88h-3.36zM301.0 500.0l1.68 -2.88h3.36l1.68 2.88l-1.68 2.88h-3.36zM331.0 102.5l1.68 -2.88h3.36l1.68 2.88l-1.68 2.88h-3.36zM166.0 612.3l1.68 -2.88h3.36l1.68 2.88l-1.68 2.88h-3.36zM501.0 91.0l1.68 -2.88h3.36l1.68 2.88l-1.68 2.88h-3.36zM316.0 404.9l1.68 -2.88h3.36l1.68 2.88l-1.68 2.88h-3.36zM241.0 517.3l1.68 -2.88h3.36l1.68 2.88l-1.68 2.88h-3.36zM261.0 344.5l1.68 -2.88h3.36l1.68 2.88l-1.68 2.88h-3.36zM361.0 217.7l1.68 -2.88h3.36l1.68 2.88l-1.68 2.88h-3.36zM206.0 502.9l1.68 -2.88h3.36l1.68 2.88l-1.68 2.88h-3.36zM221.0 528.8l1.68 -2.88h3.36l1.68 2.88l-1.68 2.88h-3.36zM381.0 252.3l1.68 -2.88h3.36l1.68 2.88l-1.68 2.88h-3.36zM131.0 246.5l1.68 -2.88h3.36l1.68 2.88l-1.68 2.88h-3.36zM336.0 468.3l1.68 -2.88h3.36l1.68 2.88l-1.68 2.88h-3.36zM91.0 223.5l1.68 -2.88h3.36l1.68 2.88l-1.68 2.88h-3.36zM346.0 237.9l1.68 -2.88h3.36l1.68 2.88l-1.68 2.88h-3.36zM136.0 255.2l1.68 -2.88h3.36l1.68 2.88l-1.68 2.88h-3.36zM91.0 430.9l1.68 -2.88h3.36l1.68 2.88l-1.68 2.88h-3.36zM96.0 232.1l1.68 -2.88h3.36l1.68 2.88l-1.68 2.88h-3.36zM106.0 497.1l1.68 -2.88h3.36l1.68 2.88l-1.68 2.88h-3.36zM206.0 370.4l1.68 -2.88h3.36l1.68 2.88l-1.68 2.88h-3.36zM161.0 574.9l1.68 -2.88h3.36l1.68 2.88l-1.68 2.88h-3.36zM286.0 255.2l1.68 -2.88h3.36l1.68 2.88l-1.68 2.88h-3.36zM236.0 456.8l1.68 -2.88h3.36l1.68 2.88l-1.68 2.88h-3.36zM356.0 370.4l1.68 -2.88h3.36l1.68 2.88l-1.68 2.88h-3.36zM201.0 436.6l1.68 -2.88h3.36l1.68 2.88l-1.68 2.88h-3.36zM166.0 422.2l1.68 -2.88h3.36l1.68 2.88l-1.68 2.88h-3.36zM221.0 471.2l1.68 -2.88h3.36l1.68 2.88l-1.68 2.88h-3.36zM141.0 453.9l1.68 -2.88h3.36l1.68 2.88l-1.68 2.88h-3.36zM356.0 445.3l1.68 -2.88h3.36l1.68 2.88l-1.68 2.88h-3.36zM146.0 462.5l1.68 -2.88h3.36l1.68 2.88l-1.68 2.88h-3.36zM106.0 439.5l1.68 -2.88h3.36l1.68 2.88l-1.68 2.88h-3.36zM366.0 497.1l1.68 -2.88h3.36l1.68 2.88l-1.68 2.88h-3.36zM196.0 537.4l1.68 -2.88h3.36l1.68 2.88l-1.68 2.88h-3.36zM361.0 235.0l1.68 -2.88h3.36l1.68 2.88l-1.68 2.88h-3.36zM336.0 278.2l1.68 -2.88h3.36l1.68 2.88l-1.68 2.88h-3.36zM81.0 471.2l1.68 -2.88h3.36l1.68 2.88l-1.68 2.88h-3.36zM86.0 479.8l1.68 -2.88h3.36l1.68 2.88l-1.68 2.88h-3.36zM206.0 180.3l1.68 -2.88h3.36l1.68 2.88l-1.68 2.88h-3.36zM271.0 494.2l1.68 -2.88h3.36l1.68 2.88l-1.68 2.88h-3.36zM371.0 367.5l1.68 -2.88h3.36l1.68 2.88l-1.68 2.88h-3.36zM101.0 534.5l1.68 -2.88h3.36l1.68 2.88l-1.68 2.88h-3.36zM216.0 439.5l1.68 -2.88h3.36l1.68 2.88l-1.68 2.88h-3.36zM506.0 99.7l1.68 -2.88h3.36l1.68 2.88l-1.68 2.88h-3.36zM356.0 180.3l1.68 -2.88h3.36l1.68 2.88l-1.68 2.88h-3.36zM276.0 497.1l1.68 -2.88h3.36l1.68 2.88l-1.68 2.88h-3.36zM146.0 197.6l1.68 -2.88h3.36l1.68 2.88l-1.68 2.88h-3.36zM511.0 102.5l1.68 -2.88h3.36l1.68 2.88l-1.68 2.88h-3.36zM146.0 404.9l1.68 -2.88h3.36l1.68 2.88l-1.68 2.88h-3.36zM376.0 214.9l1.68 -2.88h3.36l1.68 2.88l-1.68 2.88h-3.36zM311.0 384.8l1.68 -2.88h3.36l1.68 2.88l-1.68 2.88h-3.36zM196.0 479.8l1.68 -2.88h3.36l1.68 2.88l-1.68 2.88h-3.36zM256.0 537.4l1.68 -2.88h3.36l1.68 2.88l-1.68 2.88h-3.36zM351.0 246.5l1.68 -2.88h3.36l1.68 2.88l-1.68 2.88h-3.36zM176.0 491.3l1.68 -2.88h3.36l1.68 2.88l-1.68 2.88h-3.36zM276.0 364.6l1.68 -2.88h3.36l1.68 2.88l-1.68 2.88h-3.36zM236.0 341.6l1.68 -2.88h3.36l1.68 2.88l-1.68 2.88h-3.36zM231.0 574.9l1.68 -2.88h3.36l1.68 2.88l-1.68 2.88h-3.36zM86.0 422.2l1.68 -2.88h3.36l1.68 2.88l-1.68 2.88h-3.36zM456.0 128.5l1.68 -2.88h3.36l1.68 2.88l-1.68 2.88h-3.36zM306.0 456.8l1.68 -2.88h3.36l1.68 2.88l-1.68 2.88h-3.36zM406.0 330.1l1.68 -2.88h3.36l1.68 2.88l-1.68 2.88h-3.36zM271.0 436.6l1.68 -2.88h3.36l1.68 2.88l-1.68 2.88h-3.36zM331.0 286.9l1.68 -2.88h3.36l1.68 2.88l-1.68 2.88h-3.36zM196.0 554.7l1.68 -2.88h3.36l1.68 2.88l-1.68 2.88h-3.36zM351.0 114.1l1.68 -2.88h3.36l1.68 2.88l-1.68 2.88h-3.36zM276.0 232.1l1.68 -2.88h3.36l1.68 2.88l-1.68 2.88h-3.36zM336.0 295.5l1.68 -2.88h3.36l1.68 2.88l-1.68 2.88h-3.36zM296.0 272.5l1.68 -2.88h3.36l1.68 2.88l-1.68 2.88h-3.36zM396.0 145.7l1.68 -2.88h3.36l1.68 2.88l-1.68 2.88h-3.36zM81.0 488.5l1.68 -2.88h3.36l1.68 2.88l-1.68 2.88h-3.36zM386.0 370.4l1.68 -2.88h3.36l1.68 2.88l-1.68 2.88h-3.36zM236.0 416.5l1.68 -2.88h3.36l1.68 2.88l-1.68 2.88h-3.36zM371.0 177.4l1.68 -2.88h3.36l1.68 2.88l-1.68 2.88h-3.36zM156.0 399.2l1.68 -2.88h3.36l1.68 2.88l-1.68 2.88h-3.36zM271.0 511.5l1.68 -2.88h3.36l1.68 2.88l-1.68 2.88h-3.36zM266.0 537.4l1.68 -2.88h3.36l1.68 2.88l-1.68 2.88h-3.36zM431.0 235.0l1.68 -2.88h3.36l1.68 2.88l-1.68 2.88h-3.36zM236.0 284.0l1.68 -2.88h3.36l1.68 2.88l-1.68 2.88h-3.36zM291.0 367.5l1.68 -2.88h3.36l1.68 2.88l-1.68 2.88h-3.36zM251.0 344.5l1.68 -2.88h3.36l1.68 2.88l-1.68 2.88h-3.36zM346.0 422.2l1.68 -2.88h3.36l1.68 2.88l-1.68 2.88h-3.36zM306.0 399.2l1.68 -2.88h3.36l1.68 2.88l-1.68 2.88h-3.36zM371.0 252.3l1.68 -2.88h3.36l1.68 2.88l-1.68 2.88h-3.36zM231.0 384.8l1.68 -2.88h3.36l1.68 2.88l-1.68 2.88h-3.36zM286.0 439.5l1.68 -2.88h3.36l1.68 2.88l-1.68 2.88h-3.36zM291.0 235.0l1.68 -2.88h3.36l1.68 2.88l-1.68 2.88h-3.36zM231.0 592.1l1.68 -2.88h3.36l1.68 2.88l-1.68 2.88h-3.36zM306.0 474.1l1.68 -2.88h3.36l1.68 2.88l-1.68 2.88h-3.36zM196.0 364.6l1.68 -2.88h3.36l1.68 2.88l-1.68 2.88h-3.36zM166.0 606.5l1.68 -2.88h3.36l1.68 2.88l-1.68 2.88h-3.36zM286.0 307.0l1.68 -2.88h3.36l1.68 2.88l-1.68 2.88h-3.36zM386.0 180.3l1.68 -2.88h3.36l1.68 2.88l-1.68 2.88h-3.36zM111.0 546.1l1.68 -2.88h3.36l1.68 2.88l-1.68 2.88h-3.36zM231.0 459.7l1.68 -2.88h3.36l1.68 2.88l-1.68 2.88h-3.36zM246.0 491.3l1.68 -2.88h3.36l1.68 2.88l-1.68 2.88h-3.36zM346.0 364.6l1.68 -2.88h3.36l1.68 2.88l-1.68 2.88h-3.36zM366.0 191.8l1.68 -2.88h3.36l1.68 2.88l-1.68 2.88h-3.36zM151.0 407.8l1.68 -2.88h3.36l1.68 2.88l-1.68 2.88h-3.36zM376.0 456.8l1.68 -2.88h3.36l1.68 2.88l-1.68 2.88h-3.36zM161.0 212.0l1.68 -2.88h3.36l1.68 2.88l-1.68 2.88h-3.36zM486.0 99.7l1.68 -2.88h3.36l1.68 2.88l-1.68 2.88h-3.36zM326.0 404.9l1.68 -2.88h3.36l1.68 2.88l-1.68 2.88h-3.36zM246.0 358.9l1.68 -2.88h3.36l1.68 2.88l-1.68 2.88h-3.36zM341.0 430.9l1.68 -2.88h3.36l1.68 2.88l-1.68 2.88h-3.36zM346.0 232.1l1.68 -2.88h3.36l1.68 2.88l-1.68 2.88h-3.36zM131.0 448.1l1.68 -2.88h3.36l1.68 2.88l-1.68 2.88h-3.36zM136.0 249.4l1.68 -2.88h3.36l1.68 2.88l-1.68 2.88h-3.36zM91.0 425.1l1.68 -2.88h3.36l1.68 2.88l-1.68 2.88h-3.36zM356.0 497.1l1.68 -2.88h3.36l1.68 2.88l-1.68 2.88h-3.36zM251.0 361.7l1.68 -2.88h3.36l1.68 2.88l-1.68 2.88h-3.36zM301.0 436.6l1.68 -2.88h3.36l1.68 2.88l-1.68 2.88h-3.36zM166.0 548.9l1.68 -2.88h3.36l1.68 2.88l-1.68 2.88h-3.36zM126.0 525.9l1.68 -2.88h3.36l1.68 2.88l-1.68 2.88h-3.36zM226.0 399.2l1.68 -2.88h3.36l1.68 2.88l-1.68 2.88h-3.36zM361.0 494.2l1.68 -2.88h3.36l1.68 2.88l-1.68 2.88h-3.36zM186.0 583.5l1.68 -2.88h3.36l1.68 2.88l-1.68 2.88h-3.36zM91.0 500.0l1.68 -2.88h3.36l1.68 2.88l-1.68 2.88h-3.36zM206.0 439.5l1.68 -2.88h3.36l1.68 2.88l-1.68 2.88h-3.36zM166.0 416.5l1.68 -2.88h3.36l1.68 2.88l-1.68 2.88h-3.36zM496.0 99.7l1.68 -2.88h3.36l1.68 2.88l-1.68 2.88h-3.36zM171.0 419.3l1.68 -2.88h3.36l1.68 2.88l-1.68 2.88h-3.36zM501.0 102.5l1.68 -2.88h3.36l1.68 2.88l-1.68 2.88h-3.36zM346.0 174.5l1.68 -2.88h3.36l1.68 2.88l-1.68 2.88h-3.36zM146.0 456.8l1.68 -2.88h3.36l1.68 2.88l-1.68 2.88h-3.36zM376.0 266.7l1.68 -2.88h3.36l1.68 2.88l-1.68 2.88h-3.36zM116.0 203.3l1.68 -2.88h3.36l1.68 2.88l-1.68 2.88h-3.36zM206.0 514.4l1.68 -2.88h3.36l1.68 2.88l-1.68 2.88h-3.36zM166.0 491.3l1.68 -2.88h3.36l1.68 2.88l-1.68 2.88h-3.36zM126.0 468.3l1.68 -2.88h3.36l1.68 2.88l-1.68 2.88h-3.36zM111.0 430.9l1.68 -2.88h3.36l1.68 2.88l-1.68 2.88h-3.36zM91.0 235.0l1.68 -2.88h3.36l1.68 2.88l-1.68 2.88h-3.36zM301.0 246.5l1.68 -2.88h3.36l1.68 2.88l-1.68 2.88h-3.36zM316.0 491.3l1.68 -2.88h3.36l1.68 2.88l-1.68 2.88h-3.36zM106.0 508.6l1.68 -2.88h3.36l1.68 2.88l-1.68 2.88h-3.36zM221.0 407.8l1.68 -2.88h3.36l1.68 2.88l-1.68 2.88h-3.36zM351.0 373.3l1.68 -2.88h3.36l1.68 2.88l-1.68 2.88h-3.36zM391.0 396.3l1.68 -2.88h3.36l1.68 2.88l-1.68 2.88h-3.36zM491.0 269.6l1.68 -2.88h3.36l1.68 2.88l-1.68 2.88h-3.36zM181.0 413.6l1.68 -2.88h3.36l1.68 2.88l-1.68 2.88h-3.36zM276.0 491.3l1.68 -2.88h3.36l1.68 2.88l-1.68 2.88h-3.36zM396.0 404.9l1.68 -2.88h3.36l1.68 2.88l-1.68 2.88h-3.36zM416.0 232.1l1.68 -2.88h3.36l1.68 2.88l-1.68 2.88h-3.36zM166.0 433.7l1.68 -2.88h3.36l1.68 2.88l-1.68 2.88h-3.36zM171.0 229.3l1.68 -2.88h3.36l1.68 2.88l-1.68 2.88h-3.36zM161.0 453.9l1.68 -2.88h3.36l1.68 2.88l-1.68 2.88h-3.36zM276.0 358.9l1.68 -2.88h3.36l1.68 2.88l-1.68 2.88h-3.36zM336.0 422.2l1.68 -2.88h3.36l1.68 2.88l-1.68 2.88h-3.36zM391.0 471.2l1.68 -2.88h3.36l1.68 2.88l-1.68 2.88h-3.36zM396.0 272.5l1.68 -2.88h3.36l1.68 2.88l-1.68 2.88h-3.36zM146.0 474.1l1.68 -2.88h3.36l1.68 2.88l-1.68 2.88h-3.36zM311.0 453.9l1.68 -2.88h3.36l1.68 2.88l-1.68 2.88h-3.36zM261.0 373.3l1.68 -2.88h3.36l1.68 2.88l-1.68 2.88h-3.36zM321.0 223.5l1.68 -2.88h3.36l1.68 2.88l-1.68 2.88h-3.36zM336.0 289.7l1.68 -2.88h3.36l1.68 2.88l-1.68 2.88h-3.36zM236.0 410.7l1.68 -2.88h3.36l1.68 2.88l-1.68 2.88h-3.36zM91.0 252.3l1.68 -2.88h3.36l1.68 2.88l-1.68 2.88h-3.36zM396.0 347.3l1.68 -2.88h3.36l1.68 2.88l-1.68 2.88h-3.36zM371.0 379.0l1.68 -2.88h3.36l1.68 2.88l-1.68 2.88h-3.36zM186.0 203.3l1.68 -2.88h3.36l1.68 2.88l-1.68 2.88h-3.36zM491.0 79.5l1.68 -2.88h3.36l1.68 2.88l-1.68 2.88h-3.36zM176.0 428.0l1.68 -2.88h3.36l1.68 2.88l-1.68 2.88h-3.36zM351.0 390.5l1.68 -2.88h3.36l1.68 2.88l-1.68 2.88h-3.36zM411.0 240.8l1.68 -2.88h3.36l1.68 2.88l-1.68 2.88h-3.36zM166.0 243.7l1.68 -2.88h3.36l1.68 2.88l-1.68 2.88h-3.36zM116.0 445.3l1.68 -2.88h3.36l1.68 2.88l-1.68 2.88h-3.36zM256.0 341.6l1.68 -2.88h3.36l1.68 2.88l-1.68 2.88h-3.36zM331.0 430.9l1.68 -2.88h3.36l1.68 2.88l-1.68 2.88h-3.36zM336.0 232.1l1.68 -2.88h3.36l1.68 2.88l-1.68 2.88h-3.36zM121.0 448.1l1.68 -2.88h3.36l1.68 2.88l-1.68 2.88h-3.36zM86.0 226.4l1.68 -2.88h3.36l1.68 2.88l-1.68 2.88h-3.36zM236.0 353.1l1.68 -2.88h3.36l1.68 2.88l-1.68 2.88h-3.36zM191.0 563.3l1.68 -2.88h3.36l1.68 2.88l-1.68 2.88h-3.36zM86.0 433.7l1.68 -2.88h3.36l1.68 2.88l-1.68 2.88h-3.36zM291.0 436.6l1.68 -2.88h3.36l1.68 2.88l-1.68 2.88h-3.36zM316.0 243.7l1.68 -2.88h3.36l1.68 2.88l-1.68 2.88h-3.36zM211.0 597.9l1.68 -2.88h3.36l1.68 2.88l-1.68 2.88h-3.36zM311.0 471.2l1.68 -2.88h3.36l1.68 2.88l-1.68 2.88h-3.36zM271.0 448.1l1.68 -2.88h3.36l1.68 2.88l-1.68 2.88h-3.36zM101.0 488.5l1.68 -2.88h3.36l1.68 2.88l-1.68 2.88h-3.36zM196.0 566.2l1.68 -2.88h3.36l1.68 2.88l-1.68 2.88h-3.36zM336.0 99.7l1.68 -2.88h3.36l1.68 2.88l-1.68 2.88h-3.36zM116.0 520.1l1.68 -2.88h3.36l1.68 2.88l-1.68 2.88h-3.36zM351.0 125.6l1.68 -2.88h3.36l1.68 2.88l-1.68 2.88h-3.36zM276.0 243.7l1.68 -2.88h3.36l1.68 2.88l-1.68 2.88h-3.36zM171.0 603.7l1.68 -2.88h3.36l1.68 2.88l-1.68 2.88h-3.36zM356.0 134.2l1.68 -2.88h3.36l1.68 2.88l-1.68 2.88h-3.36zM181.0 373.3l1.68 -2.88h3.36l1.68 2.88l-1.68 2.88h-3.36zM246.0 485.6l1.68 -2.88h3.36l1.68 2.88l-1.68 2.88h-3.36zM406.0 209.1l1.68 -2.88h3.36l1.68 2.88l-1.68 2.88h-3.36zM211.0 465.4l1.68 -2.88h3.36l1.68 2.88l-1.68 2.88h-3.36zM371.0 188.9l1.68 -2.88h3.36l1.68 2.88l-1.68 2.88h-3.36zM426.0 243.7l1.68 -2.88h3.36l1.68 2.88l-1.68 2.88h-3.36zM156.0 410.7l1.68 -2.88h3.36l1.68 2.88l-1.68 2.88h-3.36zM486.0 93.9l1.68 -2.88h3.36l1.68 2.88l-1.68 2.88h-3.36zM161.0 413.6l1.68 -2.88h3.36l1.68 2.88l-1.68 2.88h-3.36zM391.0 223.5l1.68 -2.88h3.36l1.68 2.88l-1.68 2.88h-3.36zM381.0 448.1l1.68 -2.88h3.36l1.68 2.88l-1.68 2.88h-3.36zM386.0 249.4l1.68 -2.88h3.36l1.68 2.88l-1.68 2.88h-3.36zM341.0 425.1l1.68 -2.88h3.36l1.68 2.88l-1.68 2.88h-3.36zM346.0 433.7l1.68 -2.88h3.36l1.68 2.88l-1.68 2.88h-3.36zM306.0 410.7l1.68 -2.88h3.36l1.68 2.88l-1.68 2.88h-3.36zM96.0 428.0l1.68 -2.88h3.36l1.68 2.88l-1.68 2.88h-3.36zM211.0 540.3l1.68 -2.88h3.36l1.68 2.88l-1.68 2.88h-3.36zM206.0 566.2l1.68 -2.88h3.36l1.68 2.88l-1.68 2.88h-3.36zM371.0 263.8l1.68 -2.88h3.36l1.68 2.88l-1.68 2.88h-3.36zM431.0 114.1l1.68 -2.88h3.36l1.68 2.88l-1.68 2.88h-3.36zM116.0 462.5l1.68 -2.88h3.36l1.68 2.88l-1.68 2.88h-3.36zM81.0 235.0l1.68 -2.88h3.36l1.68 2.88l-1.68 2.88h-3.36zM446.0 145.7l1.68 -2.88h3.36l1.68 2.88l-1.68 2.88h-3.36zM231.0 396.3l1.68 -2.88h3.36l1.68 2.88l-1.68 2.88h-3.36zM326.0 474.1l1.68 -2.88h3.36l1.68 2.88l-1.68 2.88h-3.36zM291.0 246.5l1.68 -2.88h3.36l1.68 2.88l-1.68 2.88h-3.36zM131.0 517.3l1.68 -2.88h3.36l1.68 2.88l-1.68 2.88h-3.36zM271.0 258.1l1.68 -2.88h3.36l1.68 2.88l-1.68 2.88h-3.36zM371.0 131.3l1.68 -2.88h3.36l1.68 2.88l-1.68 2.88h-3.36zM331.0 108.3l1.68 -2.88h3.36l1.68 2.88l-1.68 2.88h-3.36zM196.0 376.1l1.68 -2.88h3.36l1.68 2.88l-1.68 2.88h-3.36zM441.0 246.5l1.68 -2.88h3.36l1.68 2.88l-1.68 2.88h-3.36zM171.0 413.6l1.68 -2.88h3.36l1.68 2.88l-1.68 2.88h-3.36zM326.0 341.6l1.68 -2.88h3.36l1.68 2.88l-1.68 2.88h-3.36zM386.0 191.8l1.68 -2.88h3.36l1.68 2.88l-1.68 2.88h-3.36zM401.0 217.7l1.68 -2.88h3.36l1.68 2.88l-1.68 2.88h-3.36zM366.0 203.3l1.68 -2.88h3.36l1.68 2.88l-1.68 2.88h-3.36zM321.0 407.8l1.68 -2.88h3.36l1.68 2.88l-1.68 2.88h-3.36zM326.0 416.5l1.68 -2.88h3.36l1.68 2.88l-1.68 2.88h-3.36zM346.0 243.7l1.68 -2.88h3.36l1.68 2.88l-1.68 2.88h-3.36zM131.0 459.7l1.68 -2.88h3.36l1.68 2.88l-1.68 2.88h-3.36zM376.0 335.8l1.68 -2.88h3.36l1.68 2.88l-1.68 2.88h-3.36zM101.0 240.8l1.68 -2.88h3.36l1.68 2.88l-1.68 2.88h-3.36zM206.0 583.5l1.68 -2.88h3.36l1.68 2.88l-1.68 2.88h-3.36zM166.0 560.5l1.68 -2.88h3.36l1.68 2.88l-1.68 2.88h-3.36zM186.0 387.7l1.68 -2.88h3.36l1.68 2.88l-1.68 2.88h-3.36zM281.0 459.7l1.68 -2.88h3.36l1.68 2.88l-1.68 2.88h-3.36zM381.0 332.9l1.68 -2.88h3.36l1.68 2.88l-1.68 2.88h-3.36zM291.0 263.8l1.68 -2.88h3.36l1.68 2.88l-1.68 2.88h-3.36zM181.0 615.2l1.68 -2.88h3.36l1.68 2.88l-1.68 2.88h-3.36zM261.0 500.0l1.68 -2.88h3.36l1.68 2.88l-1.68 2.88h-3.36zM361.0 373.3l1.68 -2.88h3.36l1.68 2.88l-1.68 2.88h-3.36zM321.0 350.2l1.68 -2.88h3.36l1.68 2.88l-1.68 2.88h-3.36zM171.0 430.9l1.68 -2.88h3.36l1.68 2.88l-1.68 2.88h-3.36zM436.0 128.5l1.68 -2.88h3.36l1.68 2.88l-1.68 2.88h-3.36zM301.0 390.5l1.68 -2.88h3.36l1.68 2.88l-1.68 2.88h-3.36zM261.0 367.5l1.68 -2.88h3.36l1.68 2.88l-1.68 2.88h-3.36zM361.0 240.8l1.68 -2.88h3.36l1.68 2.88l-1.68 2.88h-3.36zM116.0 214.9l1.68 -2.88h3.36l1.68 2.88l-1.68 2.88h-3.36zM441.0 131.3l1.68 -2.88h3.36l1.68 2.88l-1.68 2.88h-3.36zM126.0 479.8l1.68 -2.88h3.36l1.68 2.88l-1.68 2.88h-3.36zM266.0 376.1l1.68 -2.88h3.36l1.68 2.88l-1.68 2.88h-3.36zM381.0 275.3l1.68 -2.88h3.36l1.68 2.88l-1.68 2.88h-3.36zM111.0 442.4l1.68 -2.88h3.36l1.68 2.88l-1.68 2.88h-3.36zM91.0 246.5l1.68 -2.88h3.36l1.68 2.88l-1.68 2.88h-3.36zM316.0 295.5l1.68 -2.88h3.36l1.68 2.88l-1.68 2.88h-3.36zM241.0 407.8l1.68 -2.88h3.36l1.68 2.88l-1.68 2.88h-3.36zM201.0 384.8l1.68 -2.88h3.36l1.68 2.88l-1.68 2.88h-3.36zM376.0 353.1l1.68 -2.88h3.36l1.68 2.88l-1.68 2.88h-3.36zM201.0 592.1l1.68 -2.88h3.36l1.68 2.88l-1.68 2.88h-3.36zM266.0 243.7l1.68 -2.88h3.36l1.68 2.88l-1.68 2.88h-3.36zM176.0 629.6l1.68 -2.88h3.36l1.68 2.88l-1.68 2.88h-3.36zM181.0 425.1l1.68 -2.88h3.36l1.68 2.88l-1.68 2.88h-3.36zM416.0 243.7l1.68 -2.88h3.36l1.68 2.88l-1.68 2.88h-3.36zM146.0 410.7l1.68 -2.88h3.36l1.68 2.88l-1.68 2.88h-3.36zM201.0 459.7l1.68 -2.88h3.36l1.68 2.88l-1.68 2.88h-3.36zM166.0 237.9l1.68 -2.88h3.36l1.68 2.88l-1.68 2.88h-3.36zM361.0 183.2l1.68 -2.88h3.36l1.68 2.88l-1.68 2.88h-3.36zM171.0 240.8l1.68 -2.88h3.36l1.68 2.88l-1.68 2.88h-3.36zM371.0 448.1l1.68 -2.88h3.36l1.68 2.88l-1.68 2.88h-3.36zM331.0 425.1l1.68 -2.88h3.36l1.68 2.88l-1.68 2.88h-3.36zM121.0 442.4l1.68 -2.88h3.36l1.68 2.88l-1.68 2.88h-3.36zM351.0 459.7l1.68 -2.88h3.36l1.68 2.88l-1.68 2.88h-3.36zM241.0 350.2l1.68 -2.88h3.36l1.68 2.88l-1.68 2.88h-3.36zM421.0 114.1l1.68 -2.88h3.36l1.68 2.88l-1.68 2.88h-3.36zM206.0 335.8l1.68 -2.88h3.36l1.68 2.88l-1.68 2.88h-3.36zM271.0 442.4l1.68 -2.88h3.36l1.68 2.88l-1.68 2.88h-3.36zM221.0 361.7l1.68 -2.88h3.36l1.68 2.88l-1.68 2.88h-3.36zM216.0 387.7l1.68 -2.88h3.36l1.68 2.88l-1.68 2.88h-3.36zM111.0 252.3l1.68 -2.88h3.36l1.68 2.88l-1.68 2.88h-3.36zM391.0 350.2l1.68 -2.88h3.36l1.68 2.88l-1.68 2.88h-3.36zM216.0 595.0l1.68 -2.88h3.36l1.68 2.88l-1.68 2.88h-3.36zM356.0 128.5l1.68 -2.88h3.36l1.68 2.88l-1.68 2.88h-3.36zM236.0 422.2l1.68 -2.88h3.36l1.68 2.88l-1.68 2.88h-3.36zM191.0 632.5l1.68 -2.88h3.36l1.68 2.88l-1.68 2.88h-3.36zM291.0 505.7l1.68 -2.88h3.36l1.68 2.88l-1.68 2.88h-3.36zM301.0 275.3l1.68 -2.88h3.36l1.68 2.88l-1.68 2.88h-3.36zM366.0 387.7l1.68 -2.88h3.36l1.68 2.88l-1.68 2.88h-3.36zM261.0 252.3l1.68 -2.88h3.36l1.68 2.88l-1.68 2.88h-3.36zM271.0 517.3l1.68 -2.88h3.36l1.68 2.88l-1.68 2.88h-3.36zM371.0 390.5l1.68 -2.88h3.36l1.68 2.88l-1.68 2.88h-3.36zM431.0 240.8l1.68 -2.88h3.36l1.68 2.88l-1.68 2.88h-3.36zM391.0 217.7l1.68 -2.88h3.36l1.68 2.88l-1.68 2.88h-3.36zM486.0 295.5l1.68 -2.88h3.36l1.68 2.88l-1.68 2.88h-3.36zM446.0 272.5l1.68 -2.88h3.36l1.68 2.88l-1.68 2.88h-3.36zM296.0 353.1l1.68 -2.88h3.36l1.68 2.88l-1.68 2.88h-3.36zM396.0 226.4l1.68 -2.88h3.36l1.68 2.88l-1.68 2.88h-3.36zM181.0 442.4l1.68 -2.88h3.36l1.68 2.88l-1.68 2.88h-3.36zM141.0 419.3l1.68 -2.88h3.36l1.68 2.88l-1.68 2.88h-3.36zM126.0 232.1l1.68 -2.88h3.36l1.68 2.88l-1.68 2.88h-3.36zM196.0 502.9l1.68 -2.88h3.36l1.68 2.88l-1.68 2.88h-3.36zM256.0 353.1l1.68 -2.88h3.36l1.68 2.88l-1.68 2.88h-3.36zM331.0 442.4l1.68 -2.88h3.36l1.68 2.88l-1.68 2.88h-3.36zM391.0 292.6l1.68 -2.88h3.36l1.68 2.88l-1.68 2.88h-3.36zM291.0 448.1l1.68 -2.88h3.36l1.68 2.88l-1.68 2.88h-3.36zM311.0 275.3l1.68 -2.88h3.36l1.68 2.88l-1.68 2.88h-3.36zM371.0 332.9l1.68 -2.88h3.36l1.68 2.88l-1.68 2.88h-3.36zM116.0 531.7l1.68 -2.88h3.36l1.68 2.88l-1.68 2.88h-3.36zM191.0 442.4l1.68 -2.88h3.36l1.68 2.88l-1.68 2.88h-3.36zM151.0 413.6l1.68 -2.88h3.36l1.68 2.88l-1.68 2.88h-3.36zM371.0 200.5l1.68 -2.88h3.36l1.68 2.88l-1.68 2.88h-3.36zM161.0 217.7l1.68 -2.88h3.36l1.68 2.88l-1.68 2.88h-3.36zM226.0 537.4l1.68 -2.88h3.36l1.68 2.88l-1.68 2.88h-3.36zM186.0 514.4l1.68 -2.88h3.36l1.68 2.88l-1.68 2.88h-3.36zM326.0 410.7l1.68 -2.88h3.36l1.68 2.88l-1.68 2.88h-3.36zM386.0 260.9l1.68 -2.88h3.36l1.68 2.88l-1.68 2.88h-3.36zM131.0 453.9l1.68 -2.88h3.36l1.68 2.88l-1.68 2.88h-3.36zM191.0 517.3l1.68 -2.88h3.36l1.68 2.88l-1.68 2.88h-3.36zM251.0 367.5l1.68 -2.88h3.36l1.68 2.88l-1.68 2.88h-3.36zM306.0 422.2l1.68 -2.88h3.36l1.68 2.88l-1.68 2.88h-3.36zM136.0 462.5l1.68 -2.88h3.36l1.68 2.88l-1.68 2.88h-3.36zM96.0 439.5l1.68 -2.88h3.36l1.68 2.88l-1.68 2.88h-3.36zM151.0 488.5l1.68 -2.88h3.36l1.68 2.88l-1.68 2.88h-3.36zM116.0 266.7l1.68 -2.88h3.36l1.68 2.88l-1.68 2.88h-3.36zM101.0 442.4l1.68 -2.88h3.36l1.68 2.88l-1.68 2.88h-3.36zM331.0 252.3l1.68 -2.88h3.36l1.68 2.88l-1.68 2.88h-3.36zM431.0 125.6l1.68 -2.88h3.36l1.68 2.88l-1.68 2.88h-3.36zM281.0 453.9l1.68 -2.88h3.36l1.68 2.88l-1.68 2.88h-3.36zM171.0 557.6l1.68 -2.88h3.36l1.68 2.88l-1.68 2.88h-3.36zM191.0 384.8l1.68 -2.88h3.36l1.68 2.88l-1.68 2.88h-3.36zM291.0 258.1l1.68 -2.88h3.36l1.68 2.88l-1.68 2.88h-3.36zM91.0 505.7l1.68 -2.88h3.36l1.68 2.88l-1.68 2.88h-3.36zM196.0 180.3l1.68 -2.88h3.36l1.68 2.88l-1.68 2.88h-3.36zM361.0 367.5l1.68 -2.88h3.36l1.68 2.88l-1.68 2.88h-3.36zM386.0 203.3l1.68 -2.88h3.36l1.68 2.88l-1.68 2.88h-3.36zM191.0 459.7l1.68 -2.88h3.36l1.68 2.88l-1.68 2.88h-3.36zM246.0 514.4l1.68 -2.88h3.36l1.68 2.88l-1.68 2.88h-3.36zM406.0 237.9l1.68 -2.88h3.36l1.68 2.88l-1.68 2.88h-3.36zM116.0 209.1l1.68 -2.88h3.36l1.68 2.88l-1.68 2.88h-3.36zM266.0 370.4l1.68 -2.88h3.36l1.68 2.88l-1.68 2.88h-3.36zM226.0 347.3l1.68 -2.88h3.36l1.68 2.88l-1.68 2.88h-3.36zM361.0 442.4l1.68 -2.88h3.36l1.68 2.88l-1.68 2.88h-3.36zM111.0 436.6l1.68 -2.88h3.36l1.68 2.88l-1.68 2.88h-3.36zM226.0 554.7l1.68 -2.88h3.36l1.68 2.88l-1.68 2.88h-3.36zM346.0 255.2l1.68 -2.88h3.36l1.68 2.88l-1.68 2.88h-3.36zM401.0 304.1l1.68 -2.88h3.36l1.68 2.88l-1.68 2.88h-3.36zM96.0 249.4l1.68 -2.88h3.36l1.68 2.88l-1.68 2.88h-3.36zM376.0 347.3l1.68 -2.88h3.36l1.68 2.88l-1.68 2.88h-3.36zM106.0 514.4l1.68 -2.88h3.36l1.68 2.88l-1.68 2.88h-3.36zM221.0 413.6l1.68 -2.88h3.36l1.68 2.88l-1.68 2.88h-3.36zM321.0 286.9l1.68 -2.88h3.36l1.68 2.88l-1.68 2.88h-3.36zM191.0 194.7l1.68 -2.88h3.36l1.68 2.88l-1.68 2.88h-3.36zM326.0 295.5l1.68 -2.88h3.36l1.68 2.88l-1.68 2.88h-3.36zM381.0 344.5l1.68 -2.88h3.36l1.68 2.88l-1.68 2.88h-3.36zM111.0 511.5l1.68 -2.88h3.36l1.68 2.88l-1.68 2.88h-3.36zM346.0 122.7l1.68 -2.88h3.36l1.68 2.88l-1.68 2.88h-3.36zM521.0 85.3l1.68 -2.88h3.36l1.68 2.88l-1.68 2.88h-3.36zM181.0 626.7l1.68 -2.88h3.36l1.68 2.88l-1.68 2.88h-3.36zM516.0 111.2l1.68 -2.88h3.36l1.68 2.88l-1.68 2.88h-3.36zM201.0 453.9l1.68 -2.88h3.36l1.68 2.88l-1.68 2.88h-3.36zM376.0 422.2l1.68 -2.88h3.36l1.68 2.88l-1.68 2.88h-3.36zM171.0 235.0l1.68 -2.88h3.36l1.68 2.88l-1.68 2.88h-3.36zM316.0 439.5l1.68 -2.88h3.36l1.68 2.88l-1.68 2.88h-3.36zM106.0 456.8l1.68 -2.88h3.36l1.68 2.88l-1.68 2.88h-3.36zM321.0 229.3l1.68 -2.88h3.36l1.68 2.88l-1.68 2.88h-3.36zM226.0 364.6l1.68 -2.88h3.36l1.68 2.88l-1.68 2.88h-3.36zM131.0 281.1l1.68 -2.88h3.36l1.68 2.88l-1.68 2.88h-3.36zM91.0 258.1l1.68 -2.88h3.36l1.68 2.88l-1.68 2.88h-3.36zM396.0 353.1l1.68 -2.88h3.36l1.68 2.88l-1.68 2.88h-3.36zM356.0 330.1l1.68 -2.88h3.36l1.68 2.88l-1.68 2.88h-3.36zM86.0 497.1l1.68 -2.88h3.36l1.68 2.88l-1.68 2.88h-3.36zM181.0 569.1l1.68 -2.88h3.36l1.68 2.88l-1.68 2.88h-3.36zM221.0 223.5l1.68 -2.88h3.36l1.68 2.88l-1.68 2.88h-3.36zM376.0 364.6l1.68 -2.88h3.36l1.68 2.88l-1.68 2.88h-3.36zM196.0 629.6l1.68 -2.88h3.36l1.68 2.88l-1.68 2.88h-3.36zM186.0 209.1l1.68 -2.88h3.36l1.68 2.88l-1.68 2.88h-3.36zM256.0 479.8l1.68 -2.88h3.36l1.68 2.88l-1.68 2.88h-3.36zM451.0 269.6l1.68 -2.88h3.36l1.68 2.88l-1.68 2.88h-3.36zM181.0 436.6l1.68 -2.88h3.36l1.68 2.88l-1.68 2.88h-3.36zM151.0 183.2l1.68 -2.88h3.36l1.68 2.88l-1.68 2.88h-3.36zM456.0 278.2l1.68 -2.88h3.36l1.68 2.88l-1.68 2.88h-3.36zM366.0 456.8l1.68 -2.88h3.36l1.68 2.88l-1.68 2.88h-3.36zM331.0 436.6l1.68 -2.88h3.36l1.68 2.88l-1.68 2.88h-3.36zM391.0 286.9l1.68 -2.88h3.36l1.68 2.88l-1.68 2.88h-3.36zM121.0 453.9l1.68 -2.88h3.36l1.68 2.88l-1.68 2.88h-3.36zM396.0 295.5l1.68 -2.88h3.36l1.68 2.88l-1.68 2.88h-3.36zM351.0 471.2l1.68 -2.88h3.36l1.68 2.88l-1.68 2.88h-3.36zM201.0 338.7l1.68 -2.88h3.36l1.68 2.88l-1.68 2.88h-3.36zM371.0 327.2l1.68 -2.88h3.36l1.68 2.88l-1.68 2.88h-3.36zM331.0 304.1l1.68 -2.88h3.36l1.68 2.88l-1.68 2.88h-3.36zM196.0 572.0l1.68 -2.88h3.36l1.68 2.88l-1.68 2.88h-3.36zM111.0 263.8l1.68 -2.88h3.36l1.68 2.88l-1.68 2.88h-3.36zM176.0 376.1l1.68 -2.88h3.36l1.68 2.88l-1.68 2.88h-3.36zM316.0 116.9l1.68 -2.88h3.36l1.68 2.88l-1.68 2.88h-3.36zM236.0 433.7l1.68 -2.88h3.36l1.68 2.88l-1.68 2.88h-3.36zM196.0 439.5l1.68 -2.88h3.36l1.68 2.88l-1.68 2.88h-3.36zM271.0 528.8l1.68 -2.88h3.36l1.68 2.88l-1.68 2.88h-3.36zM256.0 497.1l1.68 -2.88h3.36l1.68 2.88l-1.68 2.88h-3.36zM491.0 102.5l1.68 -2.88h3.36l1.68 2.88l-1.68 2.88h-3.36zM231.0 534.5l1.68 -2.88h3.36l1.68 2.88l-1.68 2.88h-3.36zM106.0 209.1l1.68 -2.88h3.36l1.68 2.88l-1.68 2.88h-3.36zM306.0 416.5l1.68 -2.88h3.36l1.68 2.88l-1.68 2.88h-3.36zM211.0 546.1l1.68 -2.88h3.36l1.68 2.88l-1.68 2.88h-3.36zM196.0 514.4l1.68 -2.88h3.36l1.68 2.88l-1.68 2.88h-3.36zM116.0 468.3l1.68 -2.88h3.36l1.68 2.88l-1.68 2.88h-3.36zM256.0 364.6l1.68 -2.88h3.36l1.68 2.88l-1.68 2.88h-3.36zM446.0 151.5l1.68 -2.88h3.36l1.68 2.88l-1.68 2.88h-3.36zM121.0 471.2l1.68 -2.88h3.36l1.68 2.88l-1.68 2.88h-3.36zM236.0 376.1l1.68 -2.88h3.36l1.68 2.88l-1.68 2.88h-3.36zM401.0 356.0l1.68 -2.88h3.36l1.68 2.88l-1.68 2.88h-3.36zM251.0 436.6l1.68 -2.88h3.36l1.68 2.88l-1.68 2.88h-3.36zM196.0 381.9l1.68 -2.88h3.36l1.68 2.88l-1.68 2.88h-3.36zM371.0 344.5l1.68 -2.88h3.36l1.68 2.88l-1.68 2.88h-3.36zM331.0 321.4l1.68 -2.88h3.36l1.68 2.88l-1.68 2.88h-3.36zM336.0 122.7l1.68 -2.88h3.36l1.68 2.88l-1.68 2.88h-3.36zM266.0 497.1l1.68 -2.88h3.36l1.68 2.88l-1.68 2.88h-3.36zM391.0 171.7l1.68 -2.88h3.36l1.68 2.88l-1.68 2.88h-3.36zM116.0 543.2l1.68 -2.88h3.36l1.68 2.88l-1.68 2.88h-3.36zM351.0 148.6l1.68 -2.88h3.36l1.68 2.88l-1.68 2.88h-3.36zM216.0 416.5l1.68 -2.88h3.36l1.68 2.88l-1.68 2.88h-3.36zM176.0 393.4l1.68 -2.88h3.36l1.68 2.88l-1.68 2.88h-3.36zM461.0 286.9l1.68 -2.88h3.36l1.68 2.88l-1.68 2.88h-3.36zM246.0 508.6l1.68 -2.88h3.36l1.68 2.88l-1.68 2.88h-3.36zM306.0 358.9l1.68 -2.88h3.36l1.68 2.88l-1.68 2.88h-3.36zM406.0 232.1l1.68 -2.88h3.36l1.68 2.88l-1.68 2.88h-3.36zM271.0 338.7l1.68 -2.88h3.36l1.68 2.88l-1.68 2.88h-3.36zM161.0 229.3l1.68 -2.88h3.36l1.68 2.88l-1.68 2.88h-3.36zM116.0 410.7l1.68 -2.88h3.36l1.68 2.88l-1.68 2.88h-3.36zM326.0 422.2l1.68 -2.88h3.36l1.68 2.88l-1.68 2.88h-3.36zM246.0 376.1l1.68 -2.88h3.36l1.68 2.88l-1.68 2.88h-3.36zM131.0 465.4l1.68 -2.88h3.36l1.68 2.88l-1.68 2.88h-3.36zM91.0 442.4l1.68 -2.88h3.36l1.68 2.88l-1.68 2.88h-3.36zM306.0 433.7l1.68 -2.88h3.36l1.68 2.88l-1.68 2.88h-3.36zM136.0 474.1l1.68 -2.88h3.36l1.68 2.88l-1.68 2.88h-3.36zM96.0 451.0l1.68 -2.88h3.36l1.68 2.88l-1.68 2.88h-3.36zM101.0 246.5l1.68 -2.88h3.36l1.68 2.88l-1.68 2.88h-3.36zM426.0 134.2l1.68 -2.88h3.36l1.68 2.88l-1.68 2.88h-3.36zM206.0 589.3l1.68 -2.88h3.36l1.68 2.88l-1.68 2.88h-3.36zM191.0 396.3l1.68 -2.88h3.36l1.68 2.88l-1.68 2.88h-3.36zM386.0 347.3l1.68 -2.88h3.36l1.68 2.88l-1.68 2.88h-3.36zM176.0 203.3l1.68 -2.88h3.36l1.68 2.88l-1.68 2.88h-3.36zM326.0 364.6l1.68 -2.88h3.36l1.68 2.88l-1.68 2.88h-3.36zM286.0 341.6l1.68 -2.88h3.36l1.68 2.88l-1.68 2.88h-3.36zM381.0 413.6l1.68 -2.88h3.36l1.68 2.88l-1.68 2.88h-3.36zM151.0 235.0l1.68 -2.88h3.36l1.68 2.88l-1.68 2.88h-3.36zM136.0 416.5l1.68 -2.88h3.36l1.68 2.88l-1.68 2.88h-3.36zM96.0 393.4l1.68 -2.88h3.36l1.68 2.88l-1.68 2.88h-3.36zM151.0 442.4l1.68 -2.88h3.36l1.68 2.88l-1.68 2.88h-3.36zM361.0 246.5l1.68 -2.88h3.36l1.68 2.88l-1.68 2.88h-3.36zM361.0 453.9l1.68 -2.88h3.36l1.68 2.88l-1.68 2.88h-3.36zM321.0 430.9l1.68 -2.88h3.36l1.68 2.88l-1.68 2.88h-3.36zM131.0 275.3l1.68 -2.88h3.36l1.68 2.88l-1.68 2.88h-3.36zM181.0 563.3l1.68 -2.88h3.36l1.68 2.88l-1.68 2.88h-3.36zM346.0 266.7l1.68 -2.88h3.36l1.68 2.88l-1.68 2.88h-3.36zM136.0 284.0l1.68 -2.88h3.36l1.68 2.88l-1.68 2.88h-3.36zM91.0 459.7l1.68 -2.88h3.36l1.68 2.88l-1.68 2.88h-3.36zM146.0 548.9l1.68 -2.88h3.36l1.68 2.88l-1.68 2.88h-3.36zM106.0 525.9l1.68 -2.88h3.36l1.68 2.88l-1.68 2.88h-3.36zM361.0 321.4l1.68 -2.88h3.36l1.68 2.88l-1.68 2.88h-3.36zM281.0 275.3l1.68 -2.88h3.36l1.68 2.88l-1.68 2.88h-3.36zM186.0 410.7l1.68 -2.88h3.36l1.68 2.88l-1.68 2.88h-3.36zM276.0 508.6l1.68 -2.88h3.36l1.68 2.88l-1.68 2.88h-3.36zM356.0 399.2l1.68 -2.88h3.36l1.68 2.88l-1.68 2.88h-3.36zM316.0 376.1l1.68 -2.88h3.36l1.68 2.88l-1.68 2.88h-3.36zM456.0 272.5l1.68 -2.88h3.36l1.68 2.88l-1.68 2.88h-3.36zM376.0 226.4l1.68 -2.88h3.36l1.68 2.88l-1.68 2.88h-3.36zM476.0 99.7l1.68 -2.88h3.36l1.68 2.88l-1.68 2.88h-3.36zM201.0 465.4l1.68 -2.88h3.36l1.68 2.88l-1.68 2.88h-3.36zM361.0 188.9l1.68 -2.88h3.36l1.68 2.88l-1.68 2.88h-3.36zM166.0 451.0l1.68 -2.88h3.36l1.68 2.88l-1.68 2.88h-3.36zM261.0 523.0l1.68 -2.88h3.36l1.68 2.88l-1.68 2.88h-3.36zM266.0 324.3l1.68 -2.88h3.36l1.68 2.88l-1.68 2.88h-3.36zM281.0 350.2l1.68 -2.88h3.36l1.68 2.88l-1.68 2.88h-3.36zM351.0 465.4l1.68 -2.88h3.36l1.68 2.88l-1.68 2.88h-3.36zM181.0 505.7l1.68 -2.88h3.36l1.68 2.88l-1.68 2.88h-3.36zM236.0 560.5l1.68 -2.88h3.36l1.68 2.88l-1.68 2.88h-3.36zM241.0 356.0l1.68 -2.88h3.36l1.68 2.88l-1.68 2.88h-3.36zM96.0 203.3l1.68 -2.88h3.36l1.68 2.88l-1.68 2.88h-3.36zM356.0 474.1l1.68 -2.88h3.36l1.68 2.88l-1.68 2.88h-3.36zM316.0 451.0l1.68 -2.88h3.36l1.68 2.88l-1.68 2.88h-3.36zM106.0 468.3l1.68 -2.88h3.36l1.68 2.88l-1.68 2.88h-3.36zM301.0 413.6l1.68 -2.88h3.36l1.68 2.88l-1.68 2.88h-3.36zM361.0 263.8l1.68 -2.88h3.36l1.68 2.88l-1.68 2.88h-3.36zM216.0 600.8l1.68 -2.88h3.36l1.68 2.88l-1.68 2.88h-3.36zM176.0 577.7l1.68 -2.88h3.36l1.68 2.88l-1.68 2.88h-3.36zM181.0 580.6l1.68 -2.88h3.36l1.68 2.88l-1.68 2.88h-3.36zM531.0 91.0l1.68 -2.88h3.36l1.68 2.88l-1.68 2.88h-3.36zM321.0 108.3l1.68 -2.88h3.36l1.68 2.88l-1.68 2.88h-3.36zM271.0 523.0l1.68 -2.88h3.36l1.68 2.88l-1.68 2.88h-3.36zM166.0 393.4l1.68 -2.88h3.36l1.68 2.88l-1.68 2.88h-3.36zM496.0 76.6l1.68 -2.88h3.36l1.68 2.88l-1.68 2.88h-3.36zM186.0 220.6l1.68 -2.88h3.36l1.68 2.88l-1.68 2.88h-3.36zM326.0 116.9l1.68 -2.88h3.36l1.68 2.88l-1.68 2.88h-3.36zM381.0 165.9l1.68 -2.88h3.36l1.68 2.88l-1.68 2.88h-3.36zM296.0 358.9l1.68 -2.88h3.36l1.68 2.88l-1.68 2.88h-3.36zM391.0 430.9l1.68 -2.88h3.36l1.68 2.88l-1.68 2.88h-3.36zM236.0 502.9l1.68 -2.88h3.36l1.68 2.88l-1.68 2.88h-3.36zM471.0 108.3l1.68 -2.88h3.36l1.68 2.88l-1.68 2.88h-3.36zM376.0 243.7l1.68 -2.88h3.36l1.68 2.88l-1.68 2.88h-3.36zM311.0 413.6l1.68 -2.88h3.36l1.68 2.88l-1.68 2.88h-3.36zM126.0 237.9l1.68 -2.88h3.36l1.68 2.88l-1.68 2.88h-3.36zM196.0 508.6l1.68 -2.88h3.36l1.68 2.88l-1.68 2.88h-3.36zM371.0 471.2l1.68 -2.88h3.36l1.68 2.88l-1.68 2.88h-3.36zM161.0 488.5l1.68 -2.88h3.36l1.68 2.88l-1.68 2.88h-3.36zM391.0 298.4l1.68 -2.88h3.36l1.68 2.88l-1.68 2.88h-3.36zM121.0 465.4l1.68 -2.88h3.36l1.68 2.88l-1.68 2.88h-3.36zM81.0 442.4l1.68 -2.88h3.36l1.68 2.88l-1.68 2.88h-3.36zM236.0 370.4l1.68 -2.88h3.36l1.68 2.88l-1.68 2.88h-3.36zM356.0 284.0l1.68 -2.88h3.36l1.68 2.88l-1.68 2.88h-3.36zM411.0 332.9l1.68 -2.88h3.36l1.68 2.88l-1.68 2.88h-3.36zM416.0 134.2l1.68 -2.88h3.36l1.68 2.88l-1.68 2.88h-3.36zM241.0 373.3l1.68 -2.88h3.36l1.68 2.88l-1.68 2.88h-3.36zM271.0 465.4l1.68 -2.88h3.36l1.68 2.88l-1.68 2.88h-3.36zM336.0 324.3l1.68 -2.88h3.36l1.68 2.88l-1.68 2.88h-3.36zM396.0 174.5l1.68 -2.88h3.36l1.68 2.88l-1.68 2.88h-3.36zM121.0 540.3l1.68 -2.88h3.36l1.68 2.88l-1.68 2.88h-3.36zM351.0 350.2l1.68 -2.88h3.36l1.68 2.88l-1.68 2.88h-3.36zM386.0 399.2l1.68 -2.88h3.36l1.68 2.88l-1.68 2.88h-3.36zM201.0 217.7l1.68 -2.88h3.36l1.68 2.88l-1.68 2.88h-3.36zM401.0 425.1l1.68 -2.88h3.36l1.68 2.88l-1.68 2.88h-3.36zM271.0 332.9l1.68 -2.88h3.36l1.68 2.88l-1.68 2.88h-3.36zM466.0 284.0l1.68 -2.88h3.36l1.68 2.88l-1.68 2.88h-3.36zM426.0 260.9l1.68 -2.88h3.36l1.68 2.88l-1.68 2.88h-3.36zM486.0 111.2l1.68 -2.88h3.36l1.68 2.88l-1.68 2.88h-3.36zM331.0 390.5l1.68 -2.88h3.36l1.68 2.88l-1.68 2.88h-3.36zM391.0 240.8l1.68 -2.88h3.36l1.68 2.88l-1.68 2.88h-3.36zM351.0 217.7l1.68 -2.88h3.36l1.68 2.88l-1.68 2.88h-3.36zM446.0 295.5l1.68 -2.88h3.36l1.68 2.88l-1.68 2.88h-3.36zM176.0 462.5l1.68 -2.88h3.36l1.68 2.88l-1.68 2.88h-3.36zM236.0 312.8l1.68 -2.88h3.36l1.68 2.88l-1.68 2.88h-3.36zM386.0 474.1l1.68 -2.88h3.36l1.68 2.88l-1.68 2.88h-3.36zM346.0 451.0l1.68 -2.88h3.36l1.68 2.88l-1.68 2.88h-3.36zM136.0 468.3l1.68 -2.88h3.36l1.68 2.88l-1.68 2.88h-3.36zM151.0 494.2l1.68 -2.88h3.36l1.68 2.88l-1.68 2.88h-3.36zM211.0 557.6l1.68 -2.88h3.36l1.68 2.88l-1.68 2.88h-3.36zM311.0 430.9l1.68 -2.88h3.36l1.68 2.88l-1.68 2.88h-3.36zM366.0 485.6l1.68 -2.88h3.36l1.68 2.88l-1.68 2.88h-3.36zM101.0 448.1l1.68 -2.88h3.36l1.68 2.88l-1.68 2.88h-3.36zM431.0 131.3l1.68 -2.88h3.36l1.68 2.88l-1.68 2.88h-3.36zM116.0 479.8l1.68 -2.88h3.36l1.68 2.88l-1.68 2.88h-3.36zM216.0 353.1l1.68 -2.88h3.36l1.68 2.88l-1.68 2.88h-3.36zM231.0 413.6l1.68 -2.88h3.36l1.68 2.88l-1.68 2.88h-3.36zM81.0 459.7l1.68 -2.88h3.36l1.68 2.88l-1.68 2.88h-3.36zM286.0 468.3l1.68 -2.88h3.36l1.68 2.88l-1.68 2.88h-3.36zM386.0 341.6l1.68 -2.88h3.36l1.68 2.88l-1.68 2.88h-3.36zM76.0 485.6l1.68 -2.88h3.36l1.68 2.88l-1.68 2.88h-3.36zM401.0 367.5l1.68 -2.88h3.36l1.68 2.88l-1.68 2.88h-3.36zM191.0 597.9l1.68 -2.88h3.36l1.68 2.88l-1.68 2.88h-3.36zM251.0 448.1l1.68 -2.88h3.36l1.68 2.88l-1.68 2.88h-3.36zM311.0 298.4l1.68 -2.88h3.36l1.68 2.88l-1.68 2.88h-3.36zM96.0 520.1l1.68 -2.88h3.36l1.68 2.88l-1.68 2.88h-3.36zM196.0 393.4l1.68 -2.88h3.36l1.68 2.88l-1.68 2.88h-3.36zM151.0 569.1l1.68 -2.88h3.36l1.68 2.88l-1.68 2.88h-3.36zM331.0 332.9l1.68 -2.88h3.36l1.68 2.88l-1.68 2.88h-3.36zM336.0 134.2l1.68 -2.88h3.36l1.68 2.88l-1.68 2.88h-3.36zM266.0 508.6l1.68 -2.88h3.36l1.68 2.88l-1.68 2.88h-3.36zM391.0 183.2l1.68 -2.88h3.36l1.68 2.88l-1.68 2.88h-3.36zM326.0 358.9l1.68 -2.88h3.36l1.68 2.88l-1.68 2.88h-3.36zM181.0 200.5l1.68 -2.88h3.36l1.68 2.88l-1.68 2.88h-3.36zM381.0 407.8l1.68 -2.88h3.36l1.68 2.88l-1.68 2.88h-3.36zM506.0 88.1l1.68 -2.88h3.36l1.68 2.88l-1.68 2.88h-3.36zM191.0 465.4l1.68 -2.88h3.36l1.68 2.88l-1.68 2.88h-3.36zM246.0 520.1l1.68 -2.88h3.36l1.68 2.88l-1.68 2.88h-3.36zM386.0 416.5l1.68 -2.88h3.36l1.68 2.88l-1.68 2.88h-3.36zM151.0 436.6l1.68 -2.88h3.36l1.68 2.88l-1.68 2.88h-3.36zM311.0 373.3l1.68 -2.88h3.36l1.68 2.88l-1.68 2.88h-3.36zM206.0 525.9l1.68 -2.88h3.36l1.68 2.88l-1.68 2.88h-3.36zM161.0 240.8l1.68 -2.88h3.36l1.68 2.88l-1.68 2.88h-3.36zM226.0 560.5l1.68 -2.88h3.36l1.68 2.88l-1.68 2.88h-3.36zM246.0 387.7l1.68 -2.88h3.36l1.68 2.88l-1.68 2.88h-3.36zM401.0 309.9l1.68 -2.88h3.36l1.68 2.88l-1.68 2.88h-3.36zM311.0 240.8l1.68 -2.88h3.36l1.68 2.88l-1.68 2.88h-3.36zM301.0 465.4l1.68 -2.88h3.36l1.68 2.88l-1.68 2.88h-3.36zM116.0 289.7l1.68 -2.88h3.36l1.68 2.88l-1.68 2.88h-3.36zM166.0 577.7l1.68 -2.88h3.36l1.68 2.88l-1.68 2.88h-3.36zM226.0 428.0l1.68 -2.88h3.36l1.68 2.88l-1.68 2.88h-3.36zM121.0 292.6l1.68 -2.88h3.36l1.68 2.88l-1.68 2.88h-3.36zM281.0 476.9l1.68 -2.88h3.36l1.68 2.88l-1.68 2.88h-3.36zM286.0 278.2l1.68 -2.88h3.36l1.68 2.88l-1.68 2.88h-3.36zM381.0 350.2l1.68 -2.88h3.36l1.68 2.88l-1.68 2.88h-3.36zM191.0 407.8l1.68 -2.88h3.36l1.68 2.88l-1.68 2.88h-3.36zM76.0 502.9l1.68 -2.88h3.36l1.68 2.88l-1.68 2.88h-3.36zM421.0 246.5l1.68 -2.88h3.36l1.68 2.88l-1.68 2.88h-3.36zM481.0 96.8l1.68 -2.88h3.36l1.68 2.88l-1.68 2.88h-3.36zM206.0 468.3l1.68 -2.88h3.36l1.68 2.88l-1.68 2.88h-3.36zM166.0 445.3l1.68 -2.88h3.36l1.68 2.88l-1.68 2.88h-3.36zM171.0 448.1l1.68 -2.88h3.36l1.68 2.88l-1.68 2.88h-3.36zM186.0 479.8l1.68 -2.88h3.36l1.68 2.88l-1.68 2.88h-3.36zM286.0 353.1l1.68 -2.88h3.36l1.68 2.88l-1.68 2.88h-3.36zM136.0 220.6l1.68 -2.88h3.36l1.68 2.88l-1.68 2.88h-3.36zM316.0 445.3l1.68 -2.88h3.36l1.68 2.88l-1.68 2.88h-3.36zM146.0 485.6l1.68 -2.88h3.36l1.68 2.88l-1.68 2.88h-3.36zM261.0 384.8l1.68 -2.88h3.36l1.68 2.88l-1.68 2.88h-3.36zM436.0 353.1l1.68 -2.88h3.36l1.68 2.88l-1.68 2.88h-3.36zM361.0 465.4l1.68 -2.88h3.36l1.68 2.88l-1.68 2.88h-3.36zM326.0 243.7l1.68 -2.88h3.36l1.68 2.88l-1.68 2.88h-3.36zM381.0 292.6l1.68 -2.88h3.36l1.68 2.88l-1.68 2.88h-3.36zM111.0 459.7l1.68 -2.88h3.36l1.68 2.88l-1.68 2.88h-3.36zM246.0 404.9l1.68 -2.88h3.36l1.68 2.88l-1.68 2.88h-3.36zM181.0 574.9l1.68 -2.88h3.36l1.68 2.88l-1.68 2.88h-3.36zM91.0 471.2l1.68 -2.88h3.36l1.68 2.88l-1.68 2.88h-3.36zM376.0 370.4l1.68 -2.88h3.36l1.68 2.88l-1.68 2.88h-3.36zM106.0 537.4l1.68 -2.88h3.36l1.68 2.88l-1.68 2.88h-3.36zM201.0 609.4l1.68 -2.88h3.36l1.68 2.88l-1.68 2.88h-3.36zM536.0 93.9l1.68 -2.88h3.36l1.68 2.88l-1.68 2.88h-3.36zM186.0 214.9l1.68 -2.88h3.36l1.68 2.88l-1.68 2.88h-3.36zM171.0 390.5l1.68 -2.88h3.36l1.68 2.88l-1.68 2.88h-3.36zM276.0 520.1l1.68 -2.88h3.36l1.68 2.88l-1.68 2.88h-3.36zM396.0 433.7l1.68 -2.88h3.36l1.68 2.88l-1.68 2.88h-3.36zM241.0 500.0l1.68 -2.88h3.36l1.68 2.88l-1.68 2.88h-3.36zM376.0 445.3l1.68 -2.88h3.36l1.68 2.88l-1.68 2.88h-3.36zM166.0 462.5l1.68 -2.88h3.36l1.68 2.88l-1.68 2.88h-3.36zM371.0 465.4l1.68 -2.88h3.36l1.68 2.88l-1.68 2.88h-3.36zM266.0 335.8l1.68 -2.88h3.36l1.68 2.88l-1.68 2.88h-3.36zM281.0 361.7l1.68 -2.88h3.36l1.68 2.88l-1.68 2.88h-3.36zM216.0 537.4l1.68 -2.88h3.36l1.68 2.88l-1.68 2.88h-3.36zM131.0 229.3l1.68 -2.88h3.36l1.68 2.88l-1.68 2.88h-3.36zM91.0 206.2l1.68 -2.88h3.36l1.68 2.88l-1.68 2.88h-3.36zM236.0 572.0l1.68 -2.88h3.36l1.68 2.88l-1.68 2.88h-3.36zM241.0 367.5l1.68 -2.88h3.36l1.68 2.88l-1.68 2.88h-3.36zM356.0 485.6l1.68 -2.88h3.36l1.68 2.88l-1.68 2.88h-3.36zM196.0 577.7l1.68 -2.88h3.36l1.68 2.88l-1.68 2.88h-3.36zM221.0 379.0l1.68 -2.88h3.36l1.68 2.88l-1.68 2.88h-3.36zM111.0 269.6l1.68 -2.88h3.36l1.68 2.88l-1.68 2.88h-3.36zM161.0 557.6l1.68 -2.88h3.36l1.68 2.88l-1.68 2.88h-3.36zM396.0 168.8l1.68 -2.88h3.36l1.68 2.88l-1.68 2.88h-3.36zM376.0 180.3l1.68 -2.88h3.36l1.68 2.88l-1.68 2.88h-3.36zM206.0 220.6l1.68 -2.88h3.36l1.68 2.88l-1.68 2.88h-3.36zM321.0 119.8l1.68 -2.88h3.36l1.68 2.88l-1.68 2.88h-3.36zM171.0 200.5l1.68 -2.88h3.36l1.68 2.88l-1.68 2.88h-3.36zM371.0 407.8l1.68 -2.88h3.36l1.68 2.88l-1.68 2.88h-3.36zM331.0 384.8l1.68 -2.88h3.36l1.68 2.88l-1.68 2.88h-3.36zM496.0 88.1l1.68 -2.88h3.36l1.68 2.88l-1.68 2.88h-3.36zM176.0 456.8l1.68 -2.88h3.36l1.68 2.88l-1.68 2.88h-3.36zM351.0 419.3l1.68 -2.88h3.36l1.68 2.88l-1.68 2.88h-3.36zM356.0 220.6l1.68 -2.88h3.36l1.68 2.88l-1.68 2.88h-3.36zM451.0 292.6l1.68 -2.88h3.36l1.68 2.88l-1.68 2.88h-3.36zM411.0 269.6l1.68 -2.88h3.36l1.68 2.88l-1.68 2.88h-3.36zM146.0 237.9l1.68 -2.88h3.36l1.68 2.88l-1.68 2.88h-3.36zM236.0 514.4l1.68 -2.88h3.36l1.68 2.88l-1.68 2.88h-3.36zM311.0 425.1l1.68 -2.88h3.36l1.68 2.88l-1.68 2.88h-3.36zM196.0 520.1l1.68 -2.88h3.36l1.68 2.88l-1.68 2.88h-3.36zM86.0 462.5l1.68 -2.88h3.36l1.68 2.88l-1.68 2.88h-3.36zM291.0 465.4l1.68 -2.88h3.36l1.68 2.88l-1.68 2.88h-3.36zM316.0 272.5l1.68 -2.88h3.36l1.68 2.88l-1.68 2.88h-3.36zM366.0 347.3l1.68 -2.88h3.36l1.68 2.88l-1.68 2.88h-3.36zM271.0 476.9l1.68 -2.88h3.36l1.68 2.88l-1.68 2.88h-3.36zM391.0 177.4l1.68 -2.88h3.36l1.68 2.88l-1.68 2.88h-3.36zM116.0 548.9l1.68 -2.88h3.36l1.68 2.88l-1.68 2.88h-3.36zM446.0 232.1l1.68 -2.88h3.36l1.68 2.88l-1.68 2.88h-3.36zM176.0 399.2l1.68 -2.88h3.36l1.68 2.88l-1.68 2.88h-3.36zM386.0 410.7l1.68 -2.88h3.36l1.68 2.88l-1.68 2.88h-3.36zM346.0 387.7l1.68 -2.88h3.36l1.68 2.88l-1.68 2.88h-3.36zM196.0 462.5l1.68 -2.88h3.36l1.68 2.88l-1.68 2.88h-3.36zM331.0 402.1l1.68 -2.88h3.36l1.68 2.88l-1.68 2.88h-3.36zM326.0 428.0l1.68 -2.88h3.36l1.68 2.88l-1.68 2.88h-3.36zM351.0 229.3l1.68 -2.88h3.36l1.68 2.88l-1.68 2.88h-3.36zM236.0 324.3l1.68 -2.88h3.36l1.68 2.88l-1.68 2.88h-3.36zM191.0 534.5l1.68 -2.88h3.36l1.68 2.88l-1.68 2.88h-3.36zM346.0 462.5l1.68 -2.88h3.36l1.68 2.88l-1.68 2.88h-3.36zM106.0 232.1l1.68 -2.88h3.36l1.68 2.88l-1.68 2.88h-3.36zM136.0 479.8l1.68 -2.88h3.36l1.68 2.88l-1.68 2.88h-3.36zM96.0 456.8l1.68 -2.88h3.36l1.68 2.88l-1.68 2.88h-3.36zM311.0 442.4l1.68 -2.88h3.36l1.68 2.88l-1.68 2.88h-3.36zM256.0 387.7l1.68 -2.88h3.36l1.68 2.88l-1.68 2.88h-3.36zM171.0 574.9l1.68 -2.88h3.36l1.68 2.88l-1.68 2.88h-3.36zM291.0 275.3l1.68 -2.88h3.36l1.68 2.88l-1.68 2.88h-3.36zM211.0 436.6l1.68 -2.88h3.36l1.68 2.88l-1.68 2.88h-3.36zM96.0 531.7l1.68 -2.88h3.36l1.68 2.88l-1.68 2.88h-3.36zM196.0 404.9l1.68 -2.88h3.36l1.68 2.88l-1.68 2.88h-3.36zM186.0 474.1l1.68 -2.88h3.36l1.68 2.88l-1.68 2.88h-3.36zM141.0 188.9l1.68 -2.88h3.36l1.68 2.88l-1.68 2.88h-3.36zM131.0 413.6l1.68 -2.88h3.36l1.68 2.88l-1.68 2.88h-3.36zM231.0 500.0l1.68 -2.88h3.36l1.68 2.88l-1.68 2.88h-3.36zM291.0 350.2l1.68 -2.88h3.36l1.68 2.88l-1.68 2.88h-3.36zM246.0 531.7l1.68 -2.88h3.36l1.68 2.88l-1.68 2.88h-3.36zM136.0 422.2l1.68 -2.88h3.36l1.68 2.88l-1.68 2.88h-3.36zM151.0 448.1l1.68 -2.88h3.36l1.68 2.88l-1.68 2.88h-3.36zM206.0 537.4l1.68 -2.88h3.36l1.68 2.88l-1.68 2.88h-3.36zM436.0 347.3l1.68 -2.88h3.36l1.68 2.88l-1.68 2.88h-3.36zM116.0 433.7l1.68 -2.88h3.36l1.68 2.88l-1.68 2.88h-3.36zM111.0 453.9l1.68 -2.88h3.36l1.68 2.88l-1.68 2.88h-3.36zM231.0 367.5l1.68 -2.88h3.36l1.68 2.88l-1.68 2.88h-3.36zM86.0 214.9l1.68 -2.88h3.36l1.68 2.88l-1.68 2.88h-3.36zM386.0 295.5l1.68 -2.88h3.36l1.68 2.88l-1.68 2.88h-3.36zM341.0 471.2l1.68 -2.88h3.36l1.68 2.88l-1.68 2.88h-3.36zM306.0 249.4l1.68 -2.88h3.36l1.68 2.88l-1.68 2.88h-3.36zM91.0 465.4l1.68 -2.88h3.36l1.68 2.88l-1.68 2.88h-3.36zM101.0 269.6l1.68 -2.88h3.36l1.68 2.88l-1.68 2.88h-3.36zM261.0 453.9l1.68 -2.88h3.36l1.68 2.88l-1.68 2.88h-3.36zM266.0 462.5l1.68 -2.88h3.36l1.68 2.88l-1.68 2.88h-3.36zM521.0 102.5l1.68 -2.88h3.36l1.68 2.88l-1.68 2.88h-3.36zM361.0 402.1l1.68 -2.88h3.36l1.68 2.88l-1.68 2.88h-3.36zM381.0 229.3l1.68 -2.88h3.36l1.68 2.88l-1.68 2.88h-3.36zM461.0 119.8l1.68 -2.88h3.36l1.68 2.88l-1.68 2.88h-3.36zM186.0 491.3l1.68 -2.88h3.36l1.68 2.88l-1.68 2.88h-3.36zM386.0 237.9l1.68 -2.88h3.36l1.68 2.88l-1.68 2.88h-3.36zM341.0 413.6l1.68 -2.88h3.36l1.68 2.88l-1.68 2.88h-3.36zM346.0 214.9l1.68 -2.88h3.36l1.68 2.88l-1.68 2.88h-3.36zM236.0 566.2l1.68 -2.88h3.36l1.68 2.88l-1.68 2.88h-3.36zM356.0 479.8l1.68 -2.88h3.36l1.68 2.88l-1.68 2.88h-3.36zM316.0 456.8l1.68 -2.88h3.36l1.68 2.88l-1.68 2.88h-3.36zM106.0 474.1l1.68 -2.88h3.36l1.68 2.88l-1.68 2.88h-3.36zM101.0 212.0l1.68 -2.88h3.36l1.68 2.88l-1.68 2.88h-3.36zM221.0 373.3l1.68 -2.88h3.36l1.68 2.88l-1.68 2.88h-3.36zM421.0 332.9l1.68 -2.88h3.36l1.68 2.88l-1.68 2.88h-3.36zM441.0 160.1l1.68 -2.88h3.36l1.68 2.88l-1.68 2.88h-3.36zM321.0 453.9l1.68 -2.88h3.36l1.68 2.88l-1.68 2.88h-3.36zM326.0 255.2l1.68 -2.88h3.36l1.68 2.88l-1.68 2.88h-3.36zM286.0 232.1l1.68 -2.88h3.36l1.68 2.88l-1.68 2.88h-3.36zM396.0 370.4l1.68 -2.88h3.36l1.68 2.88l-1.68 2.88h-3.36zM356.0 347.3l1.68 -2.88h3.36l1.68 2.88l-1.68 2.88h-3.36zM181.0 586.4l1.68 -2.88h3.36l1.68 2.88l-1.68 2.88h-3.36zM376.0 381.9l1.68 -2.88h3.36l1.68 2.88l-1.68 2.88h-3.36zM201.0 620.9l1.68 -2.88h3.36l1.68 2.88l-1.68 2.88h-3.36zM361.0 344.5l1.68 -2.88h3.36l1.68 2.88l-1.68 2.88h-3.36zM381.0 171.7l1.68 -2.88h3.36l1.68 2.88l-1.68 2.88h-3.36zM501.0 85.3l1.68 -2.88h3.36l1.68 2.88l-1.68 2.88h-3.36zM356.0 422.2l1.68 -2.88h3.36l1.68 2.88l-1.68 2.88h-3.36zM376.0 249.4l1.68 -2.88h3.36l1.68 2.88l-1.68 2.88h-3.36zM106.0 416.5l1.68 -2.88h3.36l1.68 2.88l-1.68 2.88h-3.36zM261.0 338.7l1.68 -2.88h3.36l1.68 2.88l-1.68 2.88h-3.36zM226.0 324.3l1.68 -2.88h3.36l1.68 2.88l-1.68 2.88h-3.36zM161.0 494.2l1.68 -2.88h3.36l1.68 2.88l-1.68 2.88h-3.36zM281.0 373.3l1.68 -2.88h3.36l1.68 2.88l-1.68 2.88h-3.36zM336.0 462.5l1.68 -2.88h3.36l1.68 2.88l-1.68 2.88h-3.36zM351.0 488.5l1.68 -2.88h3.36l1.68 2.88l-1.68 2.88h-3.36zM236.0 583.5l1.68 -2.88h3.36l1.68 2.88l-1.68 2.88h-3.36zM241.0 379.0l1.68 -2.88h3.36l1.68 2.88l-1.68 2.88h-3.36zM201.0 356.0l1.68 -2.88h3.36l1.68 2.88l-1.68 2.88h-3.36zM206.0 364.6l1.68 -2.88h3.36l1.68 2.88l-1.68 2.88h-3.36zM281.0 240.8l1.68 -2.88h3.36l1.68 2.88l-1.68 2.88h-3.36zM341.0 91.0l1.68 -2.88h3.36l1.68 2.88l-1.68 2.88h-3.36zM336.0 330.1l1.68 -2.88h3.36l1.68 2.88l-1.68 2.88h-3.36zM161.0 569.1l1.68 -2.88h3.36l1.68 2.88l-1.68 2.88h-3.36zM121.0 546.1l1.68 -2.88h3.36l1.68 2.88l-1.68 2.88h-3.36zM351.0 356.0l1.68 -2.88h3.36l1.68 2.88l-1.68 2.88h-3.36zM176.0 600.8l1.68 -2.88h3.36l1.68 2.88l-1.68 2.88h-3.36zM511.0 79.5l1.68 -2.88h3.36l1.68 2.88l-1.68 2.88h-3.36zM376.0 191.8l1.68 -2.88h3.36l1.68 2.88l-1.68 2.88h-3.36zM516.0 88.1l1.68 -2.88h3.36l1.68 2.88l-1.68 2.88h-3.36zM261.0 281.1l1.68 -2.88h3.36l1.68 2.88l-1.68 2.88h-3.36zM171.0 212.0l1.68 -2.88h3.36l1.68 2.88l-1.68 2.88h-3.36zM161.0 436.6l1.68 -2.88h3.36l1.68 2.88l-1.68 2.88h-3.36zM121.0 413.6l1.68 -2.88h3.36l1.68 2.88l-1.68 2.88h-3.36zM176.0 468.3l1.68 -2.88h3.36l1.68 2.88l-1.68 2.88h-3.36zM336.0 404.9l1.68 -2.88h3.36l1.68 2.88l-1.68 2.88h-3.36zM356.0 232.1l1.68 -2.88h3.36l1.68 2.88l-1.68 2.88h-3.36zM141.0 448.1l1.68 -2.88h3.36l1.68 2.88l-1.68 2.88h-3.36zM146.0 249.4l1.68 -2.88h3.36l1.68 2.88l-1.68 2.88h-3.36zM241.0 321.4l1.68 -2.88h3.36l1.68 2.88l-1.68 2.88h-3.36zM366.0 491.3l1.68 -2.88h3.36l1.68 2.88l-1.68 2.88h-3.36zM196.0 531.7l1.68 -2.88h3.36l1.68 2.88l-1.68 2.88h-3.36zM331.0 263.8l1.68 -2.88h3.36l1.68 2.88l-1.68 2.88h-3.36zM216.0 358.9l1.68 -2.88h3.36l1.68 2.88l-1.68 2.88h-3.36zM336.0 272.5l1.68 -2.88h3.36l1.68 2.88l-1.68 2.88h-3.36zM296.0 249.4l1.68 -2.88h3.36l1.68 2.88l-1.68 2.88h-3.36zM121.0 488.5l1.68 -2.88h3.36l1.68 2.88l-1.68 2.88h-3.36zM451.0 171.7l1.68 -2.88h3.36l1.68 2.88l-1.68 2.88h-3.36zM196.0 399.2l1.68 -2.88h3.36l1.68 2.88l-1.68 2.88h-3.36zM371.0 361.7l1.68 -2.88h3.36l1.68 2.88l-1.68 2.88h-3.36zM101.0 528.8l1.68 -2.88h3.36l1.68 2.88l-1.68 2.88h-3.36zM291.0 344.5l1.68 -2.88h3.36l1.68 2.88l-1.68 2.88h-3.36zM246.0 525.9l1.68 -2.88h3.36l1.68 2.88l-1.68 2.88h-3.36zM411.0 223.5l1.68 -2.88h3.36l1.68 2.88l-1.68 2.88h-3.36zM346.0 399.2l1.68 -2.88h3.36l1.68 2.88l-1.68 2.88h-3.36zM311.0 379.0l1.68 -2.88h3.36l1.68 2.88l-1.68 2.88h-3.36zM271.0 356.0l1.68 -2.88h3.36l1.68 2.88l-1.68 2.88h-3.36zM101.0 396.3l1.68 -2.88h3.36l1.68 2.88l-1.68 2.88h-3.36zM386.0 289.7l1.68 -2.88h3.36l1.68 2.88l-1.68 2.88h-3.36zM346.0 474.1l1.68 -2.88h3.36l1.68 2.88l-1.68 2.88h-3.36zM211.0 373.3l1.68 -2.88h3.36l1.68 2.88l-1.68 2.88h-3.36zM106.0 243.7l1.68 -2.88h3.36l1.68 2.88l-1.68 2.88h-3.36zM311.0 246.5l1.68 -2.88h3.36l1.68 2.88l-1.68 2.88h-3.36zM136.0 491.3l1.68 -2.88h3.36l1.68 2.88l-1.68 2.88h-3.36zM101.0 263.8l1.68 -2.88h3.36l1.68 2.88l-1.68 2.88h-3.36zM426.0 151.5l1.68 -2.88h3.36l1.68 2.88l-1.68 2.88h-3.36zM211.0 580.6l1.68 -2.88h3.36l1.68 2.88l-1.68 2.88h-3.36zM321.0 505.7l1.68 -2.88h3.36l1.68 2.88l-1.68 2.88h-3.36zM231.0 436.6l1.68 -2.88h3.36l1.68 2.88l-1.68 2.88h-3.36zM521.0 96.8l1.68 -2.88h3.36l1.68 2.88l-1.68 2.88h-3.36zM76.0 508.6l1.68 -2.88h3.36l1.68 2.88l-1.68 2.88h-3.36zM191.0 620.9l1.68 -2.88h3.36l1.68 2.88l-1.68 2.88h-3.36zM366.0 376.1l1.68 -2.88h3.36l1.68 2.88l-1.68 2.88h-3.36zM371.0 171.7l1.68 -2.88h3.36l1.68 2.88l-1.68 2.88h-3.36zM361.0 396.3l1.68 -2.88h3.36l1.68 2.88l-1.68 2.88h-3.36zM266.0 531.7l1.68 -2.88h3.36l1.68 2.88l-1.68 2.88h-3.36zM186.0 485.6l1.68 -2.88h3.36l1.68 2.88l-1.68 2.88h-3.36zM231.0 511.5l1.68 -2.88h3.36l1.68 2.88l-1.68 2.88h-3.36zM191.0 488.5l1.68 -2.88h3.36l1.68 2.88l-1.68 2.88h-3.36zM366.0 243.7l1.68 -2.88h3.36l1.68 2.88l-1.68 2.88h-3.36zM206.0 548.9l1.68 -2.88h3.36l1.68 2.88l-1.68 2.88h-3.36zM221.0 574.9l1.68 -2.88h3.36l1.68 2.88l-1.68 2.88h-3.36zM226.0 376.1l1.68 -2.88h3.36l1.68 2.88l-1.68 2.88h-3.36zM326.0 249.4l1.68 -2.88h3.36l1.68 2.88l-1.68 2.88h-3.36zM226.0 583.5l1.68 -2.88h3.36l1.68 2.88l-1.68 2.88h-3.36zM231.0 379.0l1.68 -2.88h3.36l1.68 2.88l-1.68 2.88h-3.36zM186.0 560.5l1.68 -2.88h3.36l1.68 2.88l-1.68 2.88h-3.36zM131.0 500.0l1.68 -2.88h3.36l1.68 2.88l-1.68 2.88h-3.36zM91.0 476.9l1.68 -2.88h3.36l1.68 2.88l-1.68 2.88h-3.36zM376.0 376.1l1.68 -2.88h3.36l1.68 2.88l-1.68 2.88h-3.36zM56.0 462.5l1.68 -2.88h3.36l1.68 2.88l-1.68 2.88h-3.36zM501.0 79.5l1.68 -2.88h3.36l1.68 2.88l-1.68 2.88h-3.36zM111.0 540.3l1.68 -2.88h3.36l1.68 2.88l-1.68 2.88h-3.36zM346.0 151.5l1.68 -2.88h3.36l1.68 2.88l-1.68 2.88h-3.36zM386.0 174.5l1.68 -2.88h3.36l1.68 2.88l-1.68 2.88h-3.36zM396.0 439.5l1.68 -2.88h3.36l1.68 2.88l-1.68 2.88h-3.36zM456.0 289.7l1.68 -2.88h3.36l1.68 2.88l-1.68 2.88h-3.36zM521.0 114.1l1.68 -2.88h3.36l1.68 2.88l-1.68 2.88h-3.36zM261.0 540.3l1.68 -2.88h3.36l1.68 2.88l-1.68 2.88h-3.36zM361.0 413.6l1.68 -2.88h3.36l1.68 2.88l-1.68 2.88h-3.36zM281.0 367.5l1.68 -2.88h3.36l1.68 2.88l-1.68 2.88h-3.36zM381.0 240.8l1.68 -2.88h3.36l1.68 2.88l-1.68 2.88h-3.36zM341.0 217.7l1.68 -2.88h3.36l1.68 2.88l-1.68 2.88h-3.36zM171.0 471.2l1.68 -2.88h3.36l1.68 2.88l-1.68 2.88h-3.36zM286.0 376.1l1.68 -2.88h3.36l1.68 2.88l-1.68 2.88h-3.36zM246.0 353.1l1.68 -2.88h3.36l1.68 2.88l-1.68 2.88h-3.36zM136.0 243.7l1.68 -2.88h3.36l1.68 2.88l-1.68 2.88h-3.36zM96.0 220.6l1.68 -2.88h3.36l1.68 2.88l-1.68 2.88h-3.36zM421.0 137.1l1.68 -2.88h3.36l1.68 2.88l-1.68 2.88h-3.36zM106.0 485.6l1.68 -2.88h3.36l1.68 2.88l-1.68 2.88h-3.36zM201.0 557.6l1.68 -2.88h3.36l1.68 2.88l-1.68 2.88h-3.36zM206.0 358.9l1.68 -2.88h3.36l1.68 2.88l-1.68 2.88h-3.36zM441.0 171.7l1.68 -2.88h3.36l1.68 2.88l-1.68 2.88h-3.36zM126.0 520.1l1.68 -2.88h3.36l1.68 2.88l-1.68 2.88h-3.36zM111.0 482.7l1.68 -2.88h3.36l1.68 2.88l-1.68 2.88h-3.36zM341.0 292.6l1.68 -2.88h3.36l1.68 2.88l-1.68 2.88h-3.36zM181.0 597.9l1.68 -2.88h3.36l1.68 2.88l-1.68 2.88h-3.36zM261.0 275.3l1.68 -2.88h3.36l1.68 2.88l-1.68 2.88h-3.36zM206.0 433.7l1.68 -2.88h3.36l1.68 2.88l-1.68 2.88h-3.36zM496.0 93.9l1.68 -2.88h3.36l1.68 2.88l-1.68 2.88h-3.36zM181.0 465.4l1.68 -2.88h3.36l1.68 2.88l-1.68 2.88h-3.36zM141.0 442.4l1.68 -2.88h3.36l1.68 2.88l-1.68 2.88h-3.36zM236.0 520.1l1.68 -2.88h3.36l1.68 2.88l-1.68 2.88h-3.36zM146.0 451.0l1.68 -2.88h3.36l1.68 2.88l-1.68 2.88h-3.36zM111.0 217.7l1.68 -2.88h3.36l1.68 2.88l-1.68 2.88h-3.36zM236.0 387.7l1.68 -2.88h3.36l1.68 2.88l-1.68 2.88h-3.36zM336.0 474.1l1.68 -2.88h3.36l1.68 2.88l-1.68 2.88h-3.36zM91.0 229.3l1.68 -2.88h3.36l1.68 2.88l-1.68 2.88h-3.36zM241.0 390.5l1.68 -2.88h3.36l1.68 2.88l-1.68 2.88h-3.36zM106.0 502.9l1.68 -2.88h3.36l1.68 2.88l-1.68 2.88h-3.36zM206.0 376.1l1.68 -2.88h3.36l1.68 2.88l-1.68 2.88h-3.36zM271.0 482.7l1.68 -2.88h3.36l1.68 2.88l-1.68 2.88h-3.36zM266.0 226.4l1.68 -2.88h3.36l1.68 2.88l-1.68 2.88h-3.36zM221.0 402.1l1.68 -2.88h3.36l1.68 2.88l-1.68 2.88h-3.36zM156.0 577.7l1.68 -2.88h3.36l1.68 2.88l-1.68 2.88h-3.36zM116.0 554.7l1.68 -2.88h3.36l1.68 2.88l-1.68 2.88h-3.36zM341.0 102.5l1.68 -2.88h3.36l1.68 2.88l-1.68 2.88h-3.36z"/>
<path fill="rgb(238,193,135)" d="M336.0 341.6l1.68 -2.88h3.36l1.68 2.88l-1.68 2.88h-3.36zM161.0 580.6l1.68 -2.88h3.36l1.68 2.88l-1.68 2.88h-3.36zM351.0 367.5l1.68 -2.88h3.36l1.68 2.88l-1.68 2.88h-3.36zM356.0 168.8l1.68 -2.88h3.36l1.68 2.88l-1.68 2.88h-3.36zM176.0 612.3l1.68 -2.88h3.36l1.68 2.88l-1.68 2.88h-3.36zM201.0 442.4l1.68 -2.88h3.36l1.68 2.88l-1.68 2.88h-3.36zM126.0 197.6l1.68 -2.88h3.36l1.68 2.88l-1.68 2.88h-3.36zM161.0 448.1l1.68 -2.88h3.36l1.68 2.88l-1.68 2.88h-3.36zM256.0 525.9l1.68 -2.88h3.36l1.68 2.88l-1.68 2.88h-3.36zM276.0 353.1l1.68 -2.88h3.36l1.68 2.88l-1.68 2.88h-3.36zM236.0 330.1l1.68 -2.88h3.36l1.68 2.88l-1.68 2.88h-3.36zM356.0 243.7l1.68 -2.88h3.36l1.68 2.88l-1.68 2.88h-3.36zM141.0 459.7l1.68 -2.88h3.36l1.68 2.88l-1.68 2.88h-3.36zM101.0 465.4l1.68 -2.88h3.36l1.68 2.88l-1.68 2.88h-3.36zM256.0 393.4l1.68 -2.88h3.36l1.68 2.88l-1.68 2.88h-3.36zM331.0 482.7l1.68 -2.88h3.36l1.68 2.88l-1.68 2.88h-3.36zM296.0 260.9l1.68 -2.88h3.36l1.68 2.88l-1.68 2.88h-3.36zM391.0 332.9l1.68 -2.88h3.36l1.68 2.88l-1.68 2.88h-3.36zM396.0 134.2l1.68 -2.88h3.36l1.68 2.88l-1.68 2.88h-3.36zM176.0 554.7l1.68 -2.88h3.36l1.68 2.88l-1.68 2.88h-3.36zM236.0 404.9l1.68 -2.88h3.36l1.68 2.88l-1.68 2.88h-3.36zM201.0 177.4l1.68 -2.88h3.36l1.68 2.88l-1.68 2.88h-3.36zM331.0 350.2l1.68 -2.88h3.36l1.68 2.88l-1.68 2.88h-3.36zM351.0 177.4l1.68 -2.88h3.36l1.68 2.88l-1.68 2.88h-3.36zM216.0 445.3l1.68 -2.88h3.36l1.68 2.88l-1.68 2.88h-3.36zM141.0 194.7l1.68 -2.88h3.36l1.68 2.88l-1.68 2.88h-3.36zM386.0 433.7l1.68 -2.88h3.36l1.68 2.88l-1.68 2.88h-3.36zM346.0 410.7l1.68 -2.88h3.36l1.68 2.88l-1.68 2.88h-3.36zM401.0 459.7l1.68 -2.88h3.36l1.68 2.88l-1.68 2.88h-3.36zM311.0 390.5l1.68 -2.88h3.36l1.68 2.88l-1.68 2.88h-3.36zM331.0 217.7l1.68 -2.88h3.36l1.68 2.88l-1.68 2.88h-3.36zM121.0 235.0l1.68 -2.88h3.36l1.68 2.88l-1.68 2.88h-3.36zM256.0 335.8l1.68 -2.88h3.36l1.68 2.88l-1.68 2.88h-3.36zM81.0 212.0l1.68 -2.88h3.36l1.68 2.88l-1.68 2.88h-3.36zM326.0 451.0l1.68 -2.88h3.36l1.68 2.88l-1.68 2.88h-3.36zM351.0 252.3l1.68 -2.88h3.36l1.68 2.88l-1.68 2.88h-3.36zM86.0 220.6l1.68 -2.88h3.36l1.68 2.88l-1.68 2.88h-3.36zM191.0 557.6l1.68 -2.88h3.36l1.68 2.88l-1.68 2.88h-3.36zM346.0 485.6l1.68 -2.88h3.36l1.68 2.88l-1.68 2.88h-3.36zM166.0 595.0l1.68 -2.88h3.36l1.68 2.88l-1.68 2.88h-3.36zM331.0 292.6l1.68 -2.88h3.36l1.68 2.88l-1.68 2.88h-3.36zM266.0 468.3l1.68 -2.88h3.36l1.68 2.88l-1.68 2.88h-3.36zM326.0 318.5l1.68 -2.88h3.36l1.68 2.88l-1.68 2.88h-3.36zM351.0 119.8l1.68 -2.88h3.36l1.68 2.88l-1.68 2.88h-3.36zM111.0 534.5l1.68 -2.88h3.36l1.68 2.88l-1.68 2.88h-3.36zM171.0 597.9l1.68 -2.88h3.36l1.68 2.88l-1.68 2.88h-3.36zM306.0 330.1l1.68 -2.88h3.36l1.68 2.88l-1.68 2.88h-3.36zM156.0 197.6l1.68 -2.88h3.36l1.68 2.88l-1.68 2.88h-3.36zM311.0 332.9l1.68 -2.88h3.36l1.68 2.88l-1.68 2.88h-3.36zM156.0 404.9l1.68 -2.88h3.36l1.68 2.88l-1.68 2.88h-3.36zM256.0 278.2l1.68 -2.88h3.36l1.68 2.88l-1.68 2.88h-3.36zM176.0 232.1l1.68 -2.88h3.36l1.68 2.88l-1.68 2.88h-3.36zM326.0 393.4l1.68 -2.88h3.36l1.68 2.88l-1.68 2.88h-3.36zM131.0 436.6l1.68 -2.88h3.36l1.68 2.88l-1.68 2.88h-3.36zM291.0 373.3l1.68 -2.88h3.36l1.68 2.88l-1.68 2.88h-3.36zM306.0 404.9l1.68 -2.88h3.36l1.68 2.88l-1.68 2.88h-3.36zM101.0 217.7l1.68 -2.88h3.36l1.68 2.88l-1.68 2.88h-3.36zM151.0 471.2l1.68 -2.88h3.36l1.68 2.88l-1.68 2.88h-3.36zM421.0 338.7l1.68 -2.88h3.36l1.68 2.88l-1.68 2.88h-3.36zM121.0 252.3l1.68 -2.88h3.36l1.68 2.88l-1.68 2.88h-3.36zM321.0 459.7l1.68 -2.88h3.36l1.68 2.88l-1.68 2.88h-3.36zM281.0 436.6l1.68 -2.88h3.36l1.68 2.88l-1.68 2.88h-3.36zM381.0 309.9l1.68 -2.88h3.36l1.68 2.88l-1.68 2.88h-3.36zM286.0 445.3l1.68 -2.88h3.36l1.68 2.88l-1.68 2.88h-3.36zM291.0 240.8l1.68 -2.88h3.36l1.68 2.88l-1.68 2.88h-3.36zM201.0 626.7l1.68 -2.88h3.36l1.68 2.88l-1.68 2.88h-3.36zM261.0 476.9l1.68 -2.88h3.36l1.68 2.88l-1.68 2.88h-3.36zM321.0 327.2l1.68 -2.88h3.36l1.68 2.88l-1.68 2.88h-3.36zM266.0 485.6l1.68 -2.88h3.36l1.68 2.88l-1.68 2.88h-3.36zM326.0 335.8l1.68 -2.88h3.36l1.68 2.88l-1.68 2.88h-3.36zM281.0 511.5l1.68 -2.88h3.36l1.68 2.88l-1.68 2.88h-3.36zM111.0 551.8l1.68 -2.88h3.36l1.68 2.88l-1.68 2.88h-3.36zM396.0 451.0l1.68 -2.88h3.36l1.68 2.88l-1.68 2.88h-3.36zM251.0 292.6l1.68 -2.88h3.36l1.68 2.88l-1.68 2.88h-3.36zM126.0 456.8l1.68 -2.88h3.36l1.68 2.88l-1.68 2.88h-3.36zM321.0 402.1l1.68 -2.88h3.36l1.68 2.88l-1.68 2.88h-3.36zM111.0 419.3l1.68 -2.88h3.36l1.68 2.88l-1.68 2.88h-3.36zM296.0 445.3l1.68 -2.88h3.36l1.68 2.88l-1.68 2.88h-3.36zM321.0 269.6l1.68 -2.88h3.36l1.68 2.88l-1.68 2.88h-3.36zM281.0 246.5l1.68 -2.88h3.36l1.68 2.88l-1.68 2.88h-3.36zM126.0 531.7l1.68 -2.88h3.36l1.68 2.88l-1.68 2.88h-3.36zM176.0 606.5l1.68 -2.88h3.36l1.68 2.88l-1.68 2.88h-3.36zM341.0 304.1l1.68 -2.88h3.36l1.68 2.88l-1.68 2.88h-3.36zM361.0 160.1l1.68 -2.88h3.36l1.68 2.88l-1.68 2.88h-3.36zM376.0 404.9l1.68 -2.88h3.36l1.68 2.88l-1.68 2.88h-3.36zM206.0 445.3l1.68 -2.88h3.36l1.68 2.88l-1.68 2.88h-3.36zM171.0 217.7l1.68 -2.88h3.36l1.68 2.88l-1.68 2.88h-3.36zM496.0 105.4l1.68 -2.88h3.36l1.68 2.88l-1.68 2.88h-3.36zM321.0 344.5l1.68 -2.88h3.36l1.68 2.88l-1.68 2.88h-3.36zM216.0 497.1l1.68 -2.88h3.36l1.68 2.88l-1.68 2.88h-3.36zM381.0 194.7l1.68 -2.88h3.36l1.68 2.88l-1.68 2.88h-3.36zM336.0 410.7l1.68 -2.88h3.36l1.68 2.88l-1.68 2.88h-3.36zM351.0 436.6l1.68 -2.88h3.36l1.68 2.88l-1.68 2.88h-3.36zM456.0 111.2l1.68 -2.88h3.36l1.68 2.88l-1.68 2.88h-3.36zM241.0 327.2l1.68 -2.88h3.36l1.68 2.88l-1.68 2.88h-3.36zM316.0 422.2l1.68 -2.88h3.36l1.68 2.88l-1.68 2.88h-3.36zM201.0 511.5l1.68 -2.88h3.36l1.68 2.88l-1.68 2.88h-3.36zM126.0 266.7l1.68 -2.88h3.36l1.68 2.88l-1.68 2.88h-3.36zM221.0 338.7l1.68 -2.88h3.36l1.68 2.88l-1.68 2.88h-3.36zM111.0 229.3l1.68 -2.88h3.36l1.68 2.88l-1.68 2.88h-3.36zM331.0 476.9l1.68 -2.88h3.36l1.68 2.88l-1.68 2.88h-3.36zM451.0 177.4l1.68 -2.88h3.36l1.68 2.88l-1.68 2.88h-3.36zM76.0 214.9l1.68 -2.88h3.36l1.68 2.88l-1.68 2.88h-3.36zM236.0 399.2l1.68 -2.88h3.36l1.68 2.88l-1.68 2.88h-3.36zM131.0 263.8l1.68 -2.88h3.36l1.68 2.88l-1.68 2.88h-3.36zM91.0 240.8l1.68 -2.88h3.36l1.68 2.88l-1.68 2.88h-3.36zM356.0 312.8l1.68 -2.88h3.36l1.68 2.88l-1.68 2.88h-3.36zM141.0 528.8l1.68 -2.88h3.36l1.68 2.88l-1.68 2.88h-3.36zM301.0 252.3l1.68 -2.88h3.36l1.68 2.88l-1.68 2.88h-3.36zM261.0 229.3l1.68 -2.88h3.36l1.68 2.88l-1.68 2.88h-3.36zM331.0 344.5l1.68 -2.88h3.36l1.68 2.88l-1.68 2.88h-3.36zM391.0 194.7l1.68 -2.88h3.36l1.68 2.88l-1.68 2.88h-3.36zM336.0 353.1l1.68 -2.88h3.36l1.68 2.88l-1.68 2.88h-3.36zM391.0 402.1l1.68 -2.88h3.36l1.68 2.88l-1.68 2.88h-3.36zM411.0 229.3l1.68 -2.88h3.36l1.68 2.88l-1.68 2.88h-3.36zM316.0 364.6l1.68 -2.88h3.36l1.68 2.88l-1.68 2.88h-3.36zM251.0 534.5l1.68 -2.88h3.36l1.68 2.88l-1.68 2.88h-3.36zM211.0 511.5l1.68 -2.88h3.36l1.68 2.88l-1.68 2.88h-3.36zM166.0 232.1l1.68 -2.88h3.36l1.68 2.88l-1.68 2.88h-3.36zM256.0 330.1l1.68 -2.88h3.36l1.68 2.88l-1.68 2.88h-3.36zM371.0 442.4l1.68 -2.88h3.36l1.68 2.88l-1.68 2.88h-3.36zM336.0 220.6l1.68 -2.88h3.36l1.68 2.88l-1.68 2.88h-3.36zM81.0 413.6l1.68 -2.88h3.36l1.68 2.88l-1.68 2.88h-3.36zM451.0 119.8l1.68 -2.88h3.36l1.68 2.88l-1.68 2.88h-3.36zM291.0 425.1l1.68 -2.88h3.36l1.68 2.88l-1.68 2.88h-3.36zM316.0 232.1l1.68 -2.88h3.36l1.68 2.88l-1.68 2.88h-3.36zM346.0 479.8l1.68 -2.88h3.36l1.68 2.88l-1.68 2.88h-3.36zM106.0 249.4l1.68 -2.88h3.36l1.68 2.88l-1.68 2.88h-3.36zM466.0 180.3l1.68 -2.88h3.36l1.68 2.88l-1.68 2.88h-3.36zM211.0 586.4l1.68 -2.88h3.36l1.68 2.88l-1.68 2.88h-3.36zM311.0 459.7l1.68 -2.88h3.36l1.68 2.88l-1.68 2.88h-3.36zM371.0 309.9l1.68 -2.88h3.36l1.68 2.88l-1.68 2.88h-3.36zM101.0 476.9l1.68 -2.88h3.36l1.68 2.88l-1.68 2.88h-3.36zM256.0 404.9l1.68 -2.88h3.36l1.68 2.88l-1.68 2.88h-3.36zM186.0 623.8l1.68 -2.88h3.36l1.68 2.88l-1.68 2.88h-3.36zM351.0 321.4l1.68 -2.88h3.36l1.68 2.88l-1.68 2.88h-3.36zM201.0 188.9l1.68 -2.88h3.36l1.68 2.88l-1.68 2.88h-3.36zM191.0 626.7l1.68 -2.88h3.36l1.68 2.88l-1.68 2.88h-3.36zM271.0 304.1l1.68 -2.88h3.36l1.68 2.88l-1.68 2.88h-3.36zM366.0 381.9l1.68 -2.88h3.36l1.68 2.88l-1.68 2.88h-3.36zM426.0 232.1l1.68 -2.88h3.36l1.68 2.88l-1.68 2.88h-3.36zM151.0 597.9l1.68 -2.88h3.36l1.68 2.88l-1.68 2.88h-3.36zM176.0 226.4l1.68 -2.88h3.36l1.68 2.88l-1.68 2.88h-3.36zM331.0 361.7l1.68 -2.88h3.36l1.68 2.88l-1.68 2.88h-3.36zM216.0 456.8l1.68 -2.88h3.36l1.68 2.88l-1.68 2.88h-3.36zM491.0 85.3l1.68 -2.88h3.36l1.68 2.88l-1.68 2.88h-3.36zM176.0 433.7l1.68 -2.88h3.36l1.68 2.88l-1.68 2.88h-3.36zM181.0 229.3l1.68 -2.88h3.36l1.68 2.88l-1.68 2.88h-3.36zM231.0 517.3l1.68 -2.88h3.36l1.68 2.88l-1.68 2.88h-3.36zM146.0 214.9l1.68 -2.88h3.36l1.68 2.88l-1.68 2.88h-3.36zM101.0 419.3l1.68 -2.88h3.36l1.68 2.88l-1.68 2.88h-3.36zM331.0 229.3l1.68 -2.88h3.36l1.68 2.88l-1.68 2.88h-3.36zM156.0 474.1l1.68 -2.88h3.36l1.68 2.88l-1.68 2.88h-3.36zM216.0 324.3l1.68 -2.88h3.36l1.68 2.88l-1.68 2.88h-3.36zM186.0 566.2l1.68 -2.88h3.36l1.68 2.88l-1.68 2.88h-3.36zM91.0 482.7l1.68 -2.88h3.36l1.68 2.88l-1.68 2.88h-3.36zM291.0 442.4l1.68 -2.88h3.36l1.68 2.88l-1.68 2.88h-3.36zM311.0 269.6l1.68 -2.88h3.36l1.68 2.88l-1.68 2.88h-3.36zM271.0 246.5l1.68 -2.88h3.36l1.68 2.88l-1.68 2.88h-3.36zM366.0 324.3l1.68 -2.88h3.36l1.68 2.88l-1.68 2.88h-3.36zM336.0 105.4l1.68 -2.88h3.36l1.68 2.88l-1.68 2.88h-3.36zM266.0 479.8l1.68 -2.88h3.36l1.68 2.88l-1.68 2.88h-3.36zM326.0 330.1l1.68 -2.88h3.36l1.68 2.88l-1.68 2.88h-3.36zM281.0 505.7l1.68 -2.88h3.36l1.68 2.88l-1.68 2.88h-3.36zM236.0 226.4l1.68 -2.88h3.36l1.68 2.88l-1.68 2.88h-3.36zM186.0 641.1l1.68 -2.88h3.36l1.68 2.88l-1.68 2.88h-3.36zM286.0 514.4l1.68 -2.88h3.36l1.68 2.88l-1.68 2.88h-3.36zM401.0 413.6l1.68 -2.88h3.36l1.68 2.88l-1.68 2.88h-3.36zM406.0 214.9l1.68 -2.88h3.36l1.68 2.88l-1.68 2.88h-3.36zM271.0 321.4l1.68 -2.88h3.36l1.68 2.88l-1.68 2.88h-3.36zM206.0 497.1l1.68 -2.88h3.36l1.68 2.88l-1.68 2.88h-3.36zM371.0 194.7l1.68 -2.88h3.36l1.68 2.88l-1.68 2.88h-3.36zM321.0 396.3l1.68 -2.88h3.36l1.68 2.88l-1.68 2.88h-3.36zM231.0 327.2l1.68 -2.88h3.36l1.68 2.88l-1.68 2.88h-3.36zM186.0 508.6l1.68 -2.88h3.36l1.68 2.88l-1.68 2.88h-3.36zM101.0 229.3l1.68 -2.88h3.36l1.68 2.88l-1.68 2.88h-3.36zM441.0 177.4l1.68 -2.88h3.36l1.68 2.88l-1.68 2.88h-3.36zM281.0 448.1l1.68 -2.88h3.36l1.68 2.88l-1.68 2.88h-3.36zM381.0 321.4l1.68 -2.88h3.36l1.68 2.88l-1.68 2.88h-3.36zM341.0 298.4l1.68 -2.88h3.36l1.68 2.88l-1.68 2.88h-3.36zM71.0 465.4l1.68 -2.88h3.36l1.68 2.88l-1.68 2.88h-3.36zM171.0 551.8l1.68 -2.88h3.36l1.68 2.88l-1.68 2.88h-3.36zM291.0 252.3l1.68 -2.88h3.36l1.68 2.88l-1.68 2.88h-3.36zM306.0 284.0l1.68 -2.88h3.36l1.68 2.88l-1.68 2.88h-3.36zM376.0 399.2l1.68 -2.88h3.36l1.68 2.88l-1.68 2.88h-3.36zM261.0 488.5l1.68 -2.88h3.36l1.68 2.88l-1.68 2.88h-3.36zM266.0 289.7l1.68 -2.88h3.36l1.68 2.88l-1.68 2.88h-3.36zM361.0 361.7l1.68 -2.88h3.36l1.68 2.88l-1.68 2.88h-3.36zM176.0 186.1l1.68 -2.88h3.36l1.68 2.88l-1.68 2.88h-3.36zM341.0 373.3l1.68 -2.88h3.36l1.68 2.88l-1.68 2.88h-3.36zM151.0 217.7l1.68 -2.88h3.36l1.68 2.88l-1.68 2.88h-3.36zM201.0 505.7l1.68 -2.88h3.36l1.68 2.88l-1.68 2.88h-3.36zM156.0 226.4l1.68 -2.88h3.36l1.68 2.88l-1.68 2.88h-3.36zM441.0 119.8l1.68 -2.88h3.36l1.68 2.88l-1.68 2.88h-3.36zM381.0 263.8l1.68 -2.88h3.36l1.68 2.88l-1.68 2.88h-3.36zM131.0 258.1l1.68 -2.88h3.36l1.68 2.88l-1.68 2.88h-3.36zM336.0 479.8l1.68 -2.88h3.36l1.68 2.88l-1.68 2.88h-3.36zM296.0 456.8l1.68 -2.88h3.36l1.68 2.88l-1.68 2.88h-3.36zM141.0 523.0l1.68 -2.88h3.36l1.68 2.88l-1.68 2.88h-3.36zM201.0 373.3l1.68 -2.88h3.36l1.68 2.88l-1.68 2.88h-3.36zM96.0 243.7l1.68 -2.88h3.36l1.68 2.88l-1.68 2.88h-3.36zM146.0 531.7l1.68 -2.88h3.36l1.68 2.88l-1.68 2.88h-3.36zM376.0 341.6l1.68 -2.88h3.36l1.68 2.88l-1.68 2.88h-3.36zM301.0 453.9l1.68 -2.88h3.36l1.68 2.88l-1.68 2.88h-3.36zM321.0 281.1l1.68 -2.88h3.36l1.68 2.88l-1.68 2.88h-3.36zM186.0 186.1l1.68 -2.88h3.36l1.68 2.88l-1.68 2.88h-3.36zM281.0 258.1l1.68 -2.88h3.36l1.68 2.88l-1.68 2.88h-3.36zM381.0 131.3l1.68 -2.88h3.36l1.68 2.88l-1.68 2.88h-3.36zM336.0 347.3l1.68 -2.88h3.36l1.68 2.88l-1.68 2.88h-3.36zM186.0 393.4l1.68 -2.88h3.36l1.68 2.88l-1.68 2.88h-3.36zM286.0 266.7l1.68 -2.88h3.36l1.68 2.88l-1.68 2.88h-3.36zM451.0 246.5l1.68 -2.88h3.36l1.68 2.88l-1.68 2.88h-3.36zM181.0 620.9l1.68 -2.88h3.36l1.68 2.88l-1.68 2.88h-3.36zM411.0 430.9l1.68 -2.88h3.36l1.68 2.88l-1.68 2.88h-3.36zM201.0 448.1l1.68 -2.88h3.36l1.68 2.88l-1.68 2.88h-3.36zM166.0 226.4l1.68 -2.88h3.36l1.68 2.88l-1.68 2.88h-3.36zM216.0 508.6l1.68 -2.88h3.36l1.68 2.88l-1.68 2.88h-3.36zM176.0 485.6l1.68 -2.88h3.36l1.68 2.88l-1.68 2.88h-3.36zM296.0 399.2l1.68 -2.88h3.36l1.68 2.88l-1.68 2.88h-3.36zM86.0 416.5l1.68 -2.88h3.36l1.68 2.88l-1.68 2.88h-3.36zM316.0 226.4l1.68 -2.88h3.36l1.68 2.88l-1.68 2.88h-3.36zM241.0 338.7l1.68 -2.88h3.36l1.68 2.88l-1.68 2.88h-3.36zM316.0 433.7l1.68 -2.88h3.36l1.68 2.88l-1.68 2.88h-3.36zM436.0 134.2l1.68 -2.88h3.36l1.68 2.88l-1.68 2.88h-3.36zM221.0 350.2l1.68 -2.88h3.36l1.68 2.88l-1.68 2.88h-3.36zM256.0 399.2l1.68 -2.88h3.36l1.68 2.88l-1.68 2.88h-3.36zM331.0 488.5l1.68 -2.88h3.36l1.68 2.88l-1.68 2.88h-3.36zM351.0 315.7l1.68 -2.88h3.36l1.68 2.88l-1.68 2.88h-3.36zM81.0 482.7l1.68 -2.88h3.36l1.68 2.88l-1.68 2.88h-3.36zM296.0 474.1l1.68 -2.88h3.36l1.68 2.88l-1.68 2.88h-3.36zM86.0 491.3l1.68 -2.88h3.36l1.68 2.88l-1.68 2.88h-3.36zM291.0 494.2l1.68 -2.88h3.36l1.68 2.88l-1.68 2.88h-3.36zM141.0 540.3l1.68 -2.88h3.36l1.68 2.88l-1.68 2.88h-3.36zM376.0 151.5l1.68 -2.88h3.36l1.68 2.88l-1.68 2.88h-3.36zM206.0 191.8l1.68 -2.88h3.36l1.68 2.88l-1.68 2.88h-3.36zM261.0 240.8l1.68 -2.88h3.36l1.68 2.88l-1.68 2.88h-3.36zM271.0 505.7l1.68 -2.88h3.36l1.68 2.88l-1.68 2.88h-3.36zM196.0 623.8l1.68 -2.88h3.36l1.68 2.88l-1.68 2.88h-3.36zM216.0 451.0l1.68 -2.88h3.36l1.68 2.88l-1.68 2.88h-3.36zM276.0 301.3l1.68 -2.88h3.36l1.68 2.88l-1.68 2.88h-3.36zM391.0 413.6l1.68 -2.88h3.36l1.68 2.88l-1.68 2.88h-3.36zM386.0 439.5l1.68 -2.88h3.36l1.68 2.88l-1.68 2.88h-3.36zM146.0 209.1l1.68 -2.88h3.36l1.68 2.88l-1.68 2.88h-3.36zM401.0 465.4l1.68 -2.88h3.36l1.68 2.88l-1.68 2.88h-3.36zM436.0 76.6l1.68 -2.88h3.36l1.68 2.88l-1.68 2.88h-3.36zM371.0 246.5l1.68 -2.88h3.36l1.68 2.88l-1.68 2.88h-3.36zM101.0 413.6l1.68 -2.88h3.36l1.68 2.88l-1.68 2.88h-3.36zM126.0 220.6l1.68 -2.88h3.36l1.68 2.88l-1.68 2.88h-3.36zM196.0 491.3l1.68 -2.88h3.36l1.68 2.88l-1.68 2.88h-3.36zM446.0 128.5l1.68 -2.88h3.36l1.68 2.88l-1.68 2.88h-3.36zM351.0 258.1l1.68 -2.88h3.36l1.68 2.88l-1.68 2.88h-3.36zM451.0 131.3l1.68 -2.88h3.36l1.68 2.88l-1.68 2.88h-3.36zM416.0 116.9l1.68 -2.88h3.36l1.68 2.88l-1.68 2.88h-3.36zM306.0 468.3l1.68 -2.88h3.36l1.68 2.88l-1.68 2.88h-3.36zM201.0 332.9l1.68 -2.88h3.36l1.68 2.88l-1.68 2.88h-3.36zM96.0 485.6l1.68 -2.88h3.36l1.68 2.88l-1.68 2.88h-3.36zM371.0 321.4l1.68 -2.88h3.36l1.68 2.88l-1.68 2.88h-3.36zM331.0 298.4l1.68 -2.88h3.36l1.68 2.88l-1.68 2.88h-3.36zM156.0 543.2l1.68 -2.88h3.36l1.68 2.88l-1.68 2.88h-3.36zM236.0 220.6l1.68 -2.88h3.36l1.68 2.88l-1.68 2.88h-3.36zM66.0 474.1l1.68 -2.88h3.36l1.68 2.88l-1.68 2.88h-3.36zM231.0 453.9l1.68 -2.88h3.36l1.68 2.88l-1.68 2.88h-3.36zM286.0 508.6l1.68 -2.88h3.36l1.68 2.88l-1.68 2.88h-3.36zM241.0 223.5l1.68 -2.88h3.36l1.68 2.88l-1.68 2.88h-3.36zM201.0 200.5l1.68 -2.88h3.36l1.68 2.88l-1.68 2.88h-3.36zM271.0 315.7l1.68 -2.88h3.36l1.68 2.88l-1.68 2.88h-3.36zM366.0 393.4l1.68 -2.88h3.36l1.68 2.88l-1.68 2.88h-3.36zM196.0 433.7l1.68 -2.88h3.36l1.68 2.88l-1.68 2.88h-3.36zM176.0 237.9l1.68 -2.88h3.36l1.68 2.88l-1.68 2.88h-3.36zM326.0 399.2l1.68 -2.88h3.36l1.68 2.88l-1.68 2.88h-3.36zM176.0 445.3l1.68 -2.88h3.36l1.68 2.88l-1.68 2.88h-3.36zM141.0 217.7l1.68 -2.88h3.36l1.68 2.88l-1.68 2.88h-3.36zM236.0 295.5l1.68 -2.88h3.36l1.68 2.88l-1.68 2.88h-3.36zM231.0 528.8l1.68 -2.88h3.36l1.68 2.88l-1.68 2.88h-3.36zM191.0 505.7l1.68 -2.88h3.36l1.68 2.88l-1.68 2.88h-3.36zM251.0 356.0l1.68 -2.88h3.36l1.68 2.88l-1.68 2.88h-3.36zM106.0 203.3l1.68 -2.88h3.36l1.68 2.88l-1.68 2.88h-3.36zM136.0 451.0l1.68 -2.88h3.36l1.68 2.88l-1.68 2.88h-3.36zM366.0 260.9l1.68 -2.88h3.36l1.68 2.88l-1.68 2.88h-3.36zM101.0 223.5l1.68 -2.88h3.36l1.68 2.88l-1.68 2.88h-3.36zM426.0 111.2l1.68 -2.88h3.36l1.68 2.88l-1.68 2.88h-3.36zM151.0 476.9l1.68 -2.88h3.36l1.68 2.88l-1.68 2.88h-3.36zM101.0 430.9l1.68 -2.88h3.36l1.68 2.88l-1.68 2.88h-3.36zM331.0 240.8l1.68 -2.88h3.36l1.68 2.88l-1.68 2.88h-3.36zM221.0 592.1l1.68 -2.88h3.36l1.68 2.88l-1.68 2.88h-3.36zM361.0 488.5l1.68 -2.88h3.36l1.68 2.88l-1.68 2.88h-3.36zM186.0 577.7l1.68 -2.88h3.36l1.68 2.88l-1.68 2.88h-3.36zM386.0 324.3l1.68 -2.88h3.36l1.68 2.88l-1.68 2.88h-3.36zM366.0 128.5l1.68 -2.88h3.36l1.68 2.88l-1.68 2.88h-3.36zM136.0 525.9l1.68 -2.88h3.36l1.68 2.88l-1.68 2.88h-3.36zM366.0 335.8l1.68 -2.88h3.36l1.68 2.88l-1.68 2.88h-3.36zM301.0 505.7l1.68 -2.88h3.36l1.68 2.88l-1.68 2.88h-3.36zM151.0 551.8l1.68 -2.88h3.36l1.68 2.88l-1.68 2.88h-3.36zM176.0 180.3l1.68 -2.88h3.36l1.68 2.88l-1.68 2.88h-3.36zM166.0 618.1l1.68 -2.88h3.36l1.68 2.88l-1.68 2.88h-3.36zM336.0 116.9l1.68 -2.88h3.36l1.68 2.88l-1.68 2.88h-3.36zM266.0 491.3l1.68 -2.88h3.36l1.68 2.88l-1.68 2.88h-3.36zM226.0 468.3l1.68 -2.88h3.36l1.68 2.88l-1.68 2.88h-3.36zM281.0 517.3l1.68 -2.88h3.36l1.68 2.88l-1.68 2.88h-3.36zM351.0 142.9l1.68 -2.88h3.36l1.68 2.88l-1.68 2.88h-3.36zM181.0 183.2l1.68 -2.88h3.36l1.68 2.88l-1.68 2.88h-3.36zM381.0 390.5l1.68 -2.88h3.36l1.68 2.88l-1.68 2.88h-3.36zM346.0 168.8l1.68 -2.88h3.36l1.68 2.88l-1.68 2.88h-3.36zM171.0 620.9l1.68 -2.88h3.36l1.68 2.88l-1.68 2.88h-3.36zM191.0 448.1l1.68 -2.88h3.36l1.68 2.88l-1.68 2.88h-3.36zM291.0 321.4l1.68 -2.88h3.36l1.68 2.88l-1.68 2.88h-3.36zM346.0 376.1l1.68 -2.88h3.36l1.68 2.88l-1.68 2.88h-3.36zM306.0 353.1l1.68 -2.88h3.36l1.68 2.88l-1.68 2.88h-3.36zM406.0 226.4l1.68 -2.88h3.36l1.68 2.88l-1.68 2.88h-3.36zM156.0 220.6l1.68 -2.88h3.36l1.68 2.88l-1.68 2.88h-3.36zM116.0 197.6l1.68 -2.88h3.36l1.68 2.88l-1.68 2.88h-3.36zM111.0 425.1l1.68 -2.88h3.36l1.68 2.88l-1.68 2.88h-3.36zM231.0 338.7l1.68 -2.88h3.36l1.68 2.88l-1.68 2.88h-3.36zM246.0 370.4l1.68 -2.88h3.36l1.68 2.88l-1.68 2.88h-3.36zM76.0 410.7l1.68 -2.88h3.36l1.68 2.88l-1.68 2.88h-3.36zM306.0 220.6l1.68 -2.88h3.36l1.68 2.88l-1.68 2.88h-3.36zM401.0 292.6l1.68 -2.88h3.36l1.68 2.88l-1.68 2.88h-3.36zM96.0 237.9l1.68 -2.88h3.36l1.68 2.88l-1.68 2.88h-3.36zM146.0 525.9l1.68 -2.88h3.36l1.68 2.88l-1.68 2.88h-3.36zM301.0 448.1l1.68 -2.88h3.36l1.68 2.88l-1.68 2.88h-3.36zM426.0 128.5l1.68 -2.88h3.36l1.68 2.88l-1.68 2.88h-3.36zM126.0 537.4l1.68 -2.88h3.36l1.68 2.88l-1.68 2.88h-3.36zM246.0 237.9l1.68 -2.88h3.36l1.68 2.88l-1.68 2.88h-3.36zM111.0 500.0l1.68 -2.88h3.36l1.68 2.88l-1.68 2.88h-3.36zM346.0 111.2l1.68 -2.88h3.36l1.68 2.88l-1.68 2.88h-3.36zM71.0 476.9l1.68 -2.88h3.36l1.68 2.88l-1.68 2.88h-3.36zM396.0 399.2l1.68 -2.88h3.36l1.68 2.88l-1.68 2.88h-3.36zM356.0 376.1l1.68 -2.88h3.36l1.68 2.88l-1.68 2.88h-3.36zM251.0 240.8l1.68 -2.88h3.36l1.68 2.88l-1.68 2.88h-3.36zM306.0 295.5l1.68 -2.88h3.36l1.68 2.88l-1.68 2.88h-3.36zM421.0 229.3l1.68 -2.88h3.36l1.68 2.88l-1.68 2.88h-3.36zM376.0 410.7l1.68 -2.88h3.36l1.68 2.88l-1.68 2.88h-3.36zM171.0 223.5l1.68 -2.88h3.36l1.68 2.88l-1.68 2.88h-3.36zM221.0 476.9l1.68 -2.88h3.36l1.68 2.88l-1.68 2.88h-3.36zM186.0 462.5l1.68 -2.88h3.36l1.68 2.88l-1.68 2.88h-3.36zM391.0 465.4l1.68 -2.88h3.36l1.68 2.88l-1.68 2.88h-3.36zM246.0 312.8l1.68 -2.88h3.36l1.68 2.88l-1.68 2.88h-3.36zM401.0 235.0l1.68 -2.88h3.36l1.68 2.88l-1.68 2.88h-3.36zM396.0 474.1l1.68 -2.88h3.36l1.68 2.88l-1.68 2.88h-3.36zM151.0 229.3l1.68 -2.88h3.36l1.68 2.88l-1.68 2.88h-3.36zM376.0 278.2l1.68 -2.88h3.36l1.68 2.88l-1.68 2.88h-3.36zM201.0 517.3l1.68 -2.88h3.36l1.68 2.88l-1.68 2.88h-3.36zM321.0 217.7l1.68 -2.88h3.36l1.68 2.88l-1.68 2.88h-3.36zM326.0 226.4l1.68 -2.88h3.36l1.68 2.88l-1.68 2.88h-3.36zM76.0 220.6l1.68 -2.88h3.36l1.68 2.88l-1.68 2.88h-3.36zM296.0 468.3l1.68 -2.88h3.36l1.68 2.88l-1.68 2.88h-3.36zM396.0 341.6l1.68 -2.88h3.36l1.68 2.88l-1.68 2.88h-3.36zM356.0 318.5l1.68 -2.88h3.36l1.68 2.88l-1.68 2.88h-3.36zM141.0 534.5l1.68 -2.88h3.36l1.68 2.88l-1.68 2.88h-3.36zM301.0 258.1l1.68 -2.88h3.36l1.68 2.88l-1.68 2.88h-3.36zM106.0 520.1l1.68 -2.88h3.36l1.68 2.88l-1.68 2.88h-3.36zM196.0 618.1l1.68 -2.88h3.36l1.68 2.88l-1.68 2.88h-3.36zM221.0 419.3l1.68 -2.88h3.36l1.68 2.88l-1.68 2.88h-3.36zM226.0 220.6l1.68 -2.88h3.36l1.68 2.88l-1.68 2.88h-3.36zM186.0 197.6l1.68 -2.88h3.36l1.68 2.88l-1.68 2.88h-3.36zM281.0 269.6l1.68 -2.88h3.36l1.68 2.88l-1.68 2.88h-3.36zM381.0 142.9l1.68 -2.88h3.36l1.68 2.88l-1.68 2.88h-3.36zM231.0 223.5l1.68 -2.88h3.36l1.68 2.88l-1.68 2.88h-3.36zM391.0 407.8l1.68 -2.88h3.36l1.68 2.88l-1.68 2.88h-3.36zM396.0 209.1l1.68 -2.88h3.36l1.68 2.88l-1.68 2.88h-3.36zM351.0 384.8l1.68 -2.88h3.36l1.68 2.88l-1.68 2.88h-3.36zM276.0 502.9l1.68 -2.88h3.36l1.68 2.88l-1.68 2.88h-3.36zM511.0 108.3l1.68 -2.88h3.36l1.68 2.88l-1.68 2.88h-3.36zM356.0 393.4l1.68 -2.88h3.36l1.68 2.88l-1.68 2.88h-3.36zM316.0 370.4l1.68 -2.88h3.36l1.68 2.88l-1.68 2.88h-3.36zM456.0 266.7l1.68 -2.88h3.36l1.68 2.88l-1.68 2.88h-3.36zM216.0 520.1l1.68 -2.88h3.36l1.68 2.88l-1.68 2.88h-3.36zM236.0 347.3l1.68 -2.88h3.36l1.68 2.88l-1.68 2.88h-3.36zM311.0 465.4l1.68 -2.88h3.36l1.68 2.88l-1.68 2.88h-3.36zM196.0 560.5l1.68 -2.88h3.36l1.68 2.88l-1.68 2.88h-3.36zM296.0 278.2l1.68 -2.88h3.36l1.68 2.88l-1.68 2.88h-3.36zM176.0 572.0l1.68 -2.88h3.36l1.68 2.88l-1.68 2.88h-3.36zM276.0 445.3l1.68 -2.88h3.36l1.68 2.88l-1.68 2.88h-3.36zM356.0 335.8l1.68 -2.88h3.36l1.68 2.88l-1.68 2.88h-3.36zM166.0 180.3l1.68 -2.88h3.36l1.68 2.88l-1.68 2.88h-3.36zM331.0 367.5l1.68 -2.88h3.36l1.68 2.88l-1.68 2.88h-3.36zM196.0 635.3l1.68 -2.88h3.36l1.68 2.88l-1.68 2.88h-3.36zM256.0 485.6l1.68 -2.88h3.36l1.68 2.88l-1.68 2.88h-3.36zM491.0 91.0l1.68 -2.88h3.36l1.68 2.88l-1.68 2.88h-3.36zM336.0 376.1l1.68 -2.88h3.36l1.68 2.88l-1.68 2.88h-3.36zM386.0 451.0l1.68 -2.88h3.36l1.68 2.88l-1.68 2.88h-3.36zM241.0 292.6l1.68 -2.88h3.36l1.68 2.88l-1.68 2.88h-3.36zM371.0 258.1l1.68 -2.88h3.36l1.68 2.88l-1.68 2.88h-3.36zM101.0 425.1l1.68 -2.88h3.36l1.68 2.88l-1.68 2.88h-3.36zM446.0 140.0l1.68 -2.88h3.36l1.68 2.88l-1.68 2.88h-3.36zM121.0 459.7l1.68 -2.88h3.36l1.68 2.88l-1.68 2.88h-3.36zM351.0 269.6l1.68 -2.88h3.36l1.68 2.88l-1.68 2.88h-3.36zM86.0 237.9l1.68 -2.88h3.36l1.68 2.88l-1.68 2.88h-3.36zM191.0 574.9l1.68 -2.88h3.36l1.68 2.88l-1.68 2.88h-3.36zM346.0 502.9l1.68 -2.88h3.36l1.68 2.88l-1.68 2.88h-3.36zM406.0 353.1l1.68 -2.88h3.36l1.68 2.88l-1.68 2.88h-3.36zM136.0 520.1l1.68 -2.88h3.36l1.68 2.88l-1.68 2.88h-3.36zM151.0 546.1l1.68 -2.88h3.36l1.68 2.88l-1.68 2.88h-3.36zM271.0 459.7l1.68 -2.88h3.36l1.68 2.88l-1.68 2.88h-3.36zM61.0 476.9l1.68 -2.88h3.36l1.68 2.88l-1.68 2.88h-3.36zM351.0 137.1l1.68 -2.88h3.36l1.68 2.88l-1.68 2.88h-3.36zM181.0 177.4l1.68 -2.88h3.36l1.68 2.88l-1.68 2.88h-3.36zM246.0 497.1l1.68 -2.88h3.36l1.68 2.88l-1.68 2.88h-3.36zM386.0 393.4l1.68 -2.88h3.36l1.68 2.88l-1.68 2.88h-3.36zM346.0 370.4l1.68 -2.88h3.36l1.68 2.88l-1.68 2.88h-3.36zM406.0 220.6l1.68 -2.88h3.36l1.68 2.88l-1.68 2.88h-3.36zM366.0 197.6l1.68 -2.88h3.36l1.68 2.88l-1.68 2.88h-3.36zM311.0 350.2l1.68 -2.88h3.36l1.68 2.88l-1.68 2.88h-3.36zM196.0 445.3l1.68 -2.88h3.36l1.68 2.88l-1.68 2.88h-3.36zM156.0 422.2l1.68 -2.88h3.36l1.68 2.88l-1.68 2.88h-3.36zM121.0 194.7l1.68 -2.88h3.36l1.68 2.88l-1.68 2.88h-3.36zM351.0 212.0l1.68 -2.88h3.36l1.68 2.88l-1.68 2.88h-3.36zM311.0 217.7l1.68 -2.88h3.36l1.68 2.88l-1.68 2.88h-3.36zM101.0 235.0l1.68 -2.88h3.36l1.68 2.88l-1.68 2.88h-3.36zM446.0 157.3l1.68 -2.88h3.36l1.68 2.88l-1.68 2.88h-3.36zM386.0 335.8l1.68 -2.88h3.36l1.68 2.88l-1.68 2.88h-3.36zM346.0 312.8l1.68 -2.88h3.36l1.68 2.88l-1.68 2.88h-3.36zM211.0 212.0l1.68 -2.88h3.36l1.68 2.88l-1.68 2.88h-3.36zM76.0 479.8l1.68 -2.88h3.36l1.68 2.88l-1.68 2.88h-3.36zM251.0 442.4l1.68 -2.88h3.36l1.68 2.88l-1.68 2.88h-3.36zM271.0 269.6l1.68 -2.88h3.36l1.68 2.88l-1.68 2.88h-3.36zM371.0 142.9l1.68 -2.88h3.36l1.68 2.88l-1.68 2.88h-3.36zM331.0 119.8l1.68 -2.88h3.36l1.68 2.88l-1.68 2.88h-3.36zM256.0 237.9l1.68 -2.88h3.36l1.68 2.88l-1.68 2.88h-3.36zM216.0 214.9l1.68 -2.88h3.36l1.68 2.88l-1.68 2.88h-3.36zM176.0 191.8l1.68 -2.88h3.36l1.68 2.88l-1.68 2.88h-3.36zM171.0 425.1l1.68 -2.88h3.36l1.68 2.88l-1.68 2.88h-3.36zM326.0 353.1l1.68 -2.88h3.36l1.68 2.88l-1.68 2.88h-3.36zM381.0 402.1l1.68 -2.88h3.36l1.68 2.88l-1.68 2.88h-3.36zM136.0 197.6l1.68 -2.88h3.36l1.68 2.88l-1.68 2.88h-3.36zM291.0 332.9l1.68 -2.88h3.36l1.68 2.88l-1.68 2.88h-3.36zM151.0 430.9l1.68 -2.88h3.36l1.68 2.88l-1.68 2.88h-3.36zM326.0 220.6l1.68 -2.88h3.36l1.68 2.88l-1.68 2.88h-3.36zM76.0 422.2l1.68 -2.88h3.36l1.68 2.88l-1.68 2.88h-3.36zM306.0 232.1l1.68 -2.88h3.36l1.68 2.88l-1.68 2.88h-3.36zM136.0 272.5l1.68 -2.88h3.36l1.68 2.88l-1.68 2.88h-3.36zM91.0 448.1l1.68 -2.88h3.36l1.68 2.88l-1.68 2.88h-3.36zM201.0 586.4l1.68 -2.88h3.36l1.68 2.88l-1.68 2.88h-3.36zM206.0 387.7l1.68 -2.88h3.36l1.68 2.88l-1.68 2.88h-3.36zM261.0 436.6l1.68 -2.88h3.36l1.68 2.88l-1.68 2.88h-3.36zM266.0 237.9l1.68 -2.88h3.36l1.68 2.88l-1.68 2.88h-3.36zM361.0 309.9l1.68 -2.88h3.36l1.68 2.88l-1.68 2.88h-3.36zM281.0 263.8l1.68 -2.88h3.36l1.68 2.88l-1.68 2.88h-3.36zM206.0 595.0l1.68 -2.88h3.36l1.68 2.88l-1.68 2.88h-3.36zM226.0 422.2l1.68 -2.88h3.36l1.68 2.88l-1.68 2.88h-3.36zM321.0 494.2l1.68 -2.88h3.36l1.68 2.88l-1.68 2.88h-3.36zM186.0 399.2l1.68 -2.88h3.36l1.68 2.88l-1.68 2.88h-3.36zM286.0 272.5l1.68 -2.88h3.36l1.68 2.88l-1.68 2.88h-3.36zM356.0 387.7l1.68 -2.88h3.36l1.68 2.88l-1.68 2.88h-3.36zM251.0 252.3l1.68 -2.88h3.36l1.68 2.88l-1.68 2.88h-3.36zM416.0 237.9l1.68 -2.88h3.36l1.68 2.88l-1.68 2.88h-3.36zM301.0 327.2l1.68 -2.88h3.36l1.68 2.88l-1.68 2.88h-3.36zM261.0 304.1l1.68 -2.88h3.36l1.68 2.88l-1.68 2.88h-3.36zM416.0 445.3l1.68 -2.88h3.36l1.68 2.88l-1.68 2.88h-3.36zM126.0 416.5l1.68 -2.88h3.36l1.68 2.88l-1.68 2.88h-3.36zM341.0 188.9l1.68 -2.88h3.36l1.68 2.88l-1.68 2.88h-3.36zM336.0 428.0l1.68 -2.88h3.36l1.68 2.88l-1.68 2.88h-3.36zM246.0 324.3l1.68 -2.88h3.36l1.68 2.88l-1.68 2.88h-3.36zM241.0 344.5l1.68 -2.88h3.36l1.68 2.88l-1.68 2.88h-3.36zM356.0 462.5l1.68 -2.88h3.36l1.68 2.88l-1.68 2.88h-3.36zM376.0 289.7l1.68 -2.88h3.36l1.68 2.88l-1.68 2.88h-3.36zM206.0 330.1l1.68 -2.88h3.36l1.68 2.88l-1.68 2.88h-3.36zM301.0 402.1l1.68 -2.88h3.36l1.68 2.88l-1.68 2.88h-3.36zM221.0 356.0l1.68 -2.88h3.36l1.68 2.88l-1.68 2.88h-3.36zM331.0 494.2l1.68 -2.88h3.36l1.68 2.88l-1.68 2.88h-3.36zM216.0 589.3l1.68 -2.88h3.36l1.68 2.88l-1.68 2.88h-3.36zM141.0 546.1l1.68 -2.88h3.36l1.68 2.88l-1.68 2.88h-3.36zM206.0 197.6l1.68 -2.88h3.36l1.68 2.88l-1.68 2.88h-3.36zM261.0 246.5l1.68 -2.88h3.36l1.68 2.88l-1.68 2.88h-3.36zM146.0 554.7l1.68 -2.88h3.36l1.68 2.88l-1.68 2.88h-3.36zM106.0 531.7l1.68 -2.88h3.36l1.68 2.88l-1.68 2.88h-3.36zM221.0 430.9l1.68 -2.88h3.36l1.68 2.88l-1.68 2.88h-3.36zM321.0 304.1l1.68 -2.88h3.36l1.68 2.88l-1.68 2.88h-3.36zM281.0 281.1l1.68 -2.88h3.36l1.68 2.88l-1.68 2.88h-3.36zM191.0 212.0l1.68 -2.88h3.36l1.68 2.88l-1.68 2.88h-3.36zM391.0 419.3l1.68 -2.88h3.36l1.68 2.88l-1.68 2.88h-3.36zM396.0 220.6l1.68 -2.88h3.36l1.68 2.88l-1.68 2.88h-3.36zM351.0 396.3l1.68 -2.88h3.36l1.68 2.88l-1.68 2.88h-3.36zM276.0 514.4l1.68 -2.88h3.36l1.68 2.88l-1.68 2.88h-3.36zM236.0 491.3l1.68 -2.88h3.36l1.68 2.88l-1.68 2.88h-3.36zM316.0 381.9l1.68 -2.88h3.36l1.68 2.88l-1.68 2.88h-3.36zM126.0 226.4l1.68 -2.88h3.36l1.68 2.88l-1.68 2.88h-3.36zM351.0 263.8l1.68 -2.88h3.36l1.68 2.88l-1.68 2.88h-3.36zM236.0 358.9l1.68 -2.88h3.36l1.68 2.88l-1.68 2.88h-3.36zM131.0 223.5l1.68 -2.88h3.36l1.68 2.88l-1.68 2.88h-3.36zM336.0 445.3l1.68 -2.88h3.36l1.68 2.88l-1.68 2.88h-3.36zM296.0 422.2l1.68 -2.88h3.36l1.68 2.88l-1.68 2.88h-3.36zM416.0 122.7l1.68 -2.88h3.36l1.68 2.88l-1.68 2.88h-3.36zM241.0 361.7l1.68 -2.88h3.36l1.68 2.88l-1.68 2.88h-3.36zM221.0 165.9l1.68 -2.88h3.36l1.68 2.88l-1.68 2.88h-3.36zM271.0 453.9l1.68 -2.88h3.36l1.68 2.88l-1.68 2.88h-3.36zM101.0 494.2l1.68 -2.88h3.36l1.68 2.88l-1.68 2.88h-3.36zM116.0 525.9l1.68 -2.88h3.36l1.68 2.88l-1.68 2.88h-3.36zM276.0 249.4l1.68 -2.88h3.36l1.68 2.88l-1.68 2.88h-3.36zM296.0 289.7l1.68 -2.88h3.36l1.68 2.88l-1.68 2.88h-3.36zM391.0 361.7l1.68 -2.88h3.36l1.68 2.88l-1.68 2.88h-3.36zM121.0 528.8l1.68 -2.88h3.36l1.68 2.88l-1.68 2.88h-3.36zM356.0 140.0l1.68 -2.88h3.36l1.68 2.88l-1.68 2.88h-3.36zM81.0 505.7l1.68 -2.88h3.36l1.68 2.88l-1.68 2.88h-3.36zM276.0 456.8l1.68 -2.88h3.36l1.68 2.88l-1.68 2.88h-3.36zM241.0 229.3l1.68 -2.88h3.36l1.68 2.88l-1.68 2.88h-3.36zM251.0 494.2l1.68 -2.88h3.36l1.68 2.88l-1.68 2.88h-3.36zM206.0 214.9l1.68 -2.88h3.36l1.68 2.88l-1.68 2.88h-3.36zM466.0 272.5l1.68 -2.88h3.36l1.68 2.88l-1.68 2.88h-3.36zM371.0 402.1l1.68 -2.88h3.36l1.68 2.88l-1.68 2.88h-3.36zM161.0 419.3l1.68 -2.88h3.36l1.68 2.88l-1.68 2.88h-3.36zM391.0 229.3l1.68 -2.88h3.36l1.68 2.88l-1.68 2.88h-3.36zM351.0 206.2l1.68 -2.88h3.36l1.68 2.88l-1.68 2.88h-3.36zM176.0 451.0l1.68 -2.88h3.36l1.68 2.88l-1.68 2.88h-3.36zM236.0 301.3l1.68 -2.88h3.36l1.68 2.88l-1.68 2.88h-3.36zM296.0 364.6l1.68 -2.88h3.36l1.68 2.88l-1.68 2.88h-3.36zM191.0 511.5l1.68 -2.88h3.36l1.68 2.88l-1.68 2.88h-3.36zM386.0 462.5l1.68 -2.88h3.36l1.68 2.88l-1.68 2.88h-3.36zM141.0 430.9l1.68 -2.88h3.36l1.68 2.88l-1.68 2.88h-3.36zM346.0 439.5l1.68 -2.88h3.36l1.68 2.88l-1.68 2.88h-3.36zM471.0 114.1l1.68 -2.88h3.36l1.68 2.88l-1.68 2.88h-3.36zM136.0 456.8l1.68 -2.88h3.36l1.68 2.88l-1.68 2.88h-3.36zM371.0 269.6l1.68 -2.88h3.36l1.68 2.88l-1.68 2.88h-3.36zM126.0 243.7l1.68 -2.88h3.36l1.68 2.88l-1.68 2.88h-3.36zM431.0 119.8l1.68 -2.88h3.36l1.68 2.88l-1.68 2.88h-3.36zM121.0 263.8l1.68 -2.88h3.36l1.68 2.88l-1.68 2.88h-3.36zM351.0 73.7l1.68 -2.88h3.36l1.68 2.88l-1.68 2.88h-3.36zM336.0 255.2l1.68 -2.88h3.36l1.68 2.88l-1.68 2.88h-3.36zM351.0 281.1l1.68 -2.88h3.36l1.68 2.88l-1.68 2.88h-3.36zM81.0 448.1l1.68 -2.88h3.36l1.68 2.88l-1.68 2.88h-3.36zM386.0 330.1l1.68 -2.88h3.36l1.68 2.88l-1.68 2.88h-3.36zM526.0 70.9l1.68 -2.88h3.36l1.68 2.88l-1.68 2.88h-3.36zM306.0 491.3l1.68 -2.88h3.36l1.68 2.88l-1.68 2.88h-3.36zM311.0 286.9l1.68 -2.88h3.36l1.68 2.88l-1.68 2.88h-3.36zM406.0 364.6l1.68 -2.88h3.36l1.68 2.88l-1.68 2.88h-3.36zM366.0 341.6l1.68 -2.88h3.36l1.68 2.88l-1.68 2.88h-3.36zM371.0 137.1l1.68 -2.88h3.36l1.68 2.88l-1.68 2.88h-3.36zM331.0 114.1l1.68 -2.88h3.36l1.68 2.88l-1.68 2.88h-3.36zM151.0 557.6l1.68 -2.88h3.36l1.68 2.88l-1.68 2.88h-3.36zM271.0 471.2l1.68 -2.88h3.36l1.68 2.88l-1.68 2.88h-3.36zM101.0 511.5l1.68 -2.88h3.36l1.68 2.88l-1.68 2.88h-3.36zM381.0 396.3l1.68 -2.88h3.36l1.68 2.88l-1.68 2.88h-3.36zM276.0 266.7l1.68 -2.88h3.36l1.68 2.88l-1.68 2.88h-3.36zM171.0 626.7l1.68 -2.88h3.36l1.68 2.88l-1.68 2.88h-3.36zM191.0 453.9l1.68 -2.88h3.36l1.68 2.88l-1.68 2.88h-3.36zM251.0 304.1l1.68 -2.88h3.36l1.68 2.88l-1.68 2.88h-3.36zM386.0 404.9l1.68 -2.88h3.36l1.68 2.88l-1.68 2.88h-3.36zM346.0 381.9l1.68 -2.88h3.36l1.68 2.88l-1.68 2.88h-3.36zM151.0 425.1l1.68 -2.88h3.36l1.68 2.88l-1.68 2.88h-3.36zM196.0 456.8l1.68 -2.88h3.36l1.68 2.88l-1.68 2.88h-3.36zM171.0 494.2l1.68 -2.88h3.36l1.68 2.88l-1.68 2.88h-3.36zM231.0 344.5l1.68 -2.88h3.36l1.68 2.88l-1.68 2.88h-3.36zM381.0 471.2l1.68 -2.88h3.36l1.68 2.88l-1.68 2.88h-3.36zM401.0 298.4l1.68 -2.88h3.36l1.68 2.88l-1.68 2.88h-3.36zM211.0 356.0l1.68 -2.88h3.36l1.68 2.88l-1.68 2.88h-3.36zM311.0 229.3l1.68 -2.88h3.36l1.68 2.88l-1.68 2.88h-3.36zM166.0 566.2l1.68 -2.88h3.36l1.68 2.88l-1.68 2.88h-3.36zM321.0 488.5l1.68 -2.88h3.36l1.68 2.88l-1.68 2.88h-3.36zM381.0 338.7l1.68 -2.88h3.36l1.68 2.88l-1.68 2.88h-3.36zM386.0 140.0l1.68 -2.88h3.36l1.68 2.88l-1.68 2.88h-3.36zM231.0 419.3l1.68 -2.88h3.36l1.68 2.88l-1.68 2.88h-3.36zM326.0 497.1l1.68 -2.88h3.36l1.68 2.88l-1.68 2.88h-3.36zM251.0 246.5l1.68 -2.88h3.36l1.68 2.88l-1.68 2.88h-3.36zM211.0 223.5l1.68 -2.88h3.36l1.68 2.88l-1.68 2.88h-3.36zM306.0 301.3l1.68 -2.88h3.36l1.68 2.88l-1.68 2.88h-3.36zM196.0 191.8l1.68 -2.88h3.36l1.68 2.88l-1.68 2.88h-3.36zM526.0 88.1l1.68 -2.88h3.36l1.68 2.88l-1.68 2.88h-3.36zM206.0 456.8l1.68 -2.88h3.36l1.68 2.88l-1.68 2.88h-3.36zM331.0 131.3l1.68 -2.88h3.36l1.68 2.88l-1.68 2.88h-3.36zM481.0 292.6l1.68 -2.88h3.36l1.68 2.88l-1.68 2.88h-3.36zM266.0 514.4l1.68 -2.88h3.36l1.68 2.88l-1.68 2.88h-3.36zM226.0 491.3l1.68 -2.88h3.36l1.68 2.88l-1.68 2.88h-3.36zM341.0 390.5l1.68 -2.88h3.36l1.68 2.88l-1.68 2.88h-3.36zM191.0 471.2l1.68 -2.88h3.36l1.68 2.88l-1.68 2.88h-3.36zM201.0 523.0l1.68 -2.88h3.36l1.68 2.88l-1.68 2.88h-3.36zM301.0 396.3l1.68 -2.88h3.36l1.68 2.88l-1.68 2.88h-3.36zM126.0 485.6l1.68 -2.88h3.36l1.68 2.88l-1.68 2.88h-3.36zM266.0 381.9l1.68 -2.88h3.36l1.68 2.88l-1.68 2.88h-3.36zM111.0 448.1l1.68 -2.88h3.36l1.68 2.88l-1.68 2.88h-3.36zM341.0 258.1l1.68 -2.88h3.36l1.68 2.88l-1.68 2.88h-3.36zM336.0 497.1l1.68 -2.88h3.36l1.68 2.88l-1.68 2.88h-3.36zM231.0 361.7l1.68 -2.88h3.36l1.68 2.88l-1.68 2.88h-3.36zM246.0 393.4l1.68 -2.88h3.36l1.68 2.88l-1.68 2.88h-3.36zM306.0 243.7l1.68 -2.88h3.36l1.68 2.88l-1.68 2.88h-3.36zM131.0 482.7l1.68 -2.88h3.36l1.68 2.88l-1.68 2.88h-3.36zM376.0 358.9l1.68 -2.88h3.36l1.68 2.88l-1.68 2.88h-3.36zM261.0 448.1l1.68 -2.88h3.36l1.68 2.88l-1.68 2.88h-3.36zM266.0 249.4l1.68 -2.88h3.36l1.68 2.88l-1.68 2.88h-3.36zM321.0 298.4l1.68 -2.88h3.36l1.68 2.88l-1.68 2.88h-3.36zM51.0 465.4l1.68 -2.88h3.36l1.68 2.88l-1.68 2.88h-3.36zM381.0 148.6l1.68 -2.88h3.36l1.68 2.88l-1.68 2.88h-3.36zM341.0 125.6l1.68 -2.88h3.36l1.68 2.88l-1.68 2.88h-3.36zM166.0 583.5l1.68 -2.88h3.36l1.68 2.88l-1.68 2.88h-3.36zM226.0 433.7l1.68 -2.88h3.36l1.68 2.88l-1.68 2.88h-3.36zM161.0 603.7l1.68 -2.88h3.36l1.68 2.88l-1.68 2.88h-3.36zM286.0 284.0l1.68 -2.88h3.36l1.68 2.88l-1.68 2.88h-3.36zM326.0 307.0l1.68 -2.88h3.36l1.68 2.88l-1.68 2.88h-3.36zM176.0 635.3l1.68 -2.88h3.36l1.68 2.88l-1.68 2.88h-3.36zM341.0 332.9l1.68 -2.88h3.36l1.68 2.88l-1.68 2.88h-3.36zM396.0 422.2l1.68 -2.88h3.36l1.68 2.88l-1.68 2.88h-3.36zM181.0 638.2l1.68 -2.88h3.36l1.68 2.88l-1.68 2.88h-3.36zM411.0 448.1l1.68 -2.88h3.36l1.68 2.88l-1.68 2.88h-3.36zM416.0 249.4l1.68 -2.88h3.36l1.68 2.88l-1.68 2.88h-3.36zM481.0 102.5l1.68 -2.88h3.36l1.68 2.88l-1.68 2.88h-3.36zM171.0 246.5l1.68 -2.88h3.36l1.68 2.88l-1.68 2.88h-3.36zM126.0 428.0l1.68 -2.88h3.36l1.68 2.88l-1.68 2.88h-3.36zM296.0 416.5l1.68 -2.88h3.36l1.68 2.88l-1.68 2.88h-3.36zM141.0 482.7l1.68 -2.88h3.36l1.68 2.88l-1.68 2.88h-3.36zM136.0 226.4l1.68 -2.88h3.36l1.68 2.88l-1.68 2.88h-3.36zM151.0 252.3l1.68 -2.88h3.36l1.68 2.88l-1.68 2.88h-3.36zM421.0 119.8l1.68 -2.88h3.36l1.68 2.88l-1.68 2.88h-3.36zM221.0 367.5l1.68 -2.88h3.36l1.68 2.88l-1.68 2.88h-3.36zM321.0 240.8l1.68 -2.88h3.36l1.68 2.88l-1.68 2.88h-3.36zM331.0 505.7l1.68 -2.88h3.36l1.68 2.88l-1.68 2.88h-3.36zM161.0 546.1l1.68 -2.88h3.36l1.68 2.88l-1.68 2.88h-3.36zM346.0 76.6l1.68 -2.88h3.36l1.68 2.88l-1.68 2.88h-3.36zM276.0 451.0l1.68 -2.88h3.36l1.68 2.88l-1.68 2.88h-3.36zM236.0 428.0l1.68 -2.88h3.36l1.68 2.88l-1.68 2.88h-3.36zM396.0 364.6l1.68 -2.88h3.36l1.68 2.88l-1.68 2.88h-3.36zM316.0 318.5l1.68 -2.88h3.36l1.68 2.88l-1.68 2.88h-3.36zM301.0 281.1l1.68 -2.88h3.36l1.68 2.88l-1.68 2.88h-3.36zM106.0 543.2l1.68 -2.88h3.36l1.68 2.88l-1.68 2.88h-3.36zM281.0 292.6l1.68 -2.88h3.36l1.68 2.88l-1.68 2.88h-3.36zM216.0 468.3l1.68 -2.88h3.36l1.68 2.88l-1.68 2.88h-3.36zM396.0 232.1l1.68 -2.88h3.36l1.68 2.88l-1.68 2.88h-3.36zM181.0 448.1l1.68 -2.88h3.36l1.68 2.88l-1.68 2.88h-3.36zM146.0 226.4l1.68 -2.88h3.36l1.68 2.88l-1.68 2.88h-3.36zM146.0 433.7l1.68 -2.88h3.36l1.68 2.88l-1.68 2.88h-3.36zM261.0 332.9l1.68 -2.88h3.36l1.68 2.88l-1.68 2.88h-3.36zM361.0 206.2l1.68 -2.88h3.36l1.68 2.88l-1.68 2.88h-3.36zM336.0 249.4l1.68 -2.88h3.36l1.68 2.88l-1.68 2.88h-3.36zM296.0 226.4l1.68 -2.88h3.36l1.68 2.88l-1.68 2.88h-3.36zM351.0 275.3l1.68 -2.88h3.36l1.68 2.88l-1.68 2.88h-3.36zM91.0 212.0l1.68 -2.88h3.36l1.68 2.88l-1.68 2.88h-3.36zM296.0 433.7l1.68 -2.88h3.36l1.68 2.88l-1.68 2.88h-3.36zM396.0 307.0l1.68 -2.88h3.36l1.68 2.88l-1.68 2.88h-3.36zM376.0 111.2l1.68 -2.88h3.36l1.68 2.88l-1.68 2.88h-3.36zM406.0 358.9l1.68 -2.88h3.36l1.68 2.88l-1.68 2.88h-3.36zM221.0 177.4l1.68 -2.88h3.36l1.68 2.88l-1.68 2.88h-3.36zM371.0 338.7l1.68 -2.88h3.36l1.68 2.88l-1.68 2.88h-3.36zM331.0 315.7l1.68 -2.88h3.36l1.68 2.88l-1.68 2.88h-3.36zM196.0 583.5l1.68 -2.88h3.36l1.68 2.88l-1.68 2.88h-3.36zM156.0 560.5l1.68 -2.88h3.36l1.68 2.88l-1.68 2.88h-3.36zM116.0 537.4l1.68 -2.88h3.36l1.68 2.88l-1.68 2.88h-3.36zM256.0 433.7l1.68 -2.88h3.36l1.68 2.88l-1.68 2.88h-3.36zM276.0 260.9l1.68 -2.88h3.36l1.68 2.88l-1.68 2.88h-3.36zM176.0 595.0l1.68 -2.88h3.36l1.68 2.88l-1.68 2.88h-3.36zM236.0 445.3l1.68 -2.88h3.36l1.68 2.88l-1.68 2.88h-3.36zM211.0 482.7l1.68 -2.88h3.36l1.68 2.88l-1.68 2.88h-3.36zM166.0 203.3l1.68 -2.88h3.36l1.68 2.88l-1.68 2.88h-3.36zM371.0 206.2l1.68 -2.88h3.36l1.68 2.88l-1.68 2.88h-3.36zM156.0 428.0l1.68 -2.88h3.36l1.68 2.88l-1.68 2.88h-3.36zM256.0 301.3l1.68 -2.88h3.36l1.68 2.88l-1.68 2.88h-3.36zM161.0 430.9l1.68 -2.88h3.36l1.68 2.88l-1.68 2.88h-3.36zM121.0 407.8l1.68 -2.88h3.36l1.68 2.88l-1.68 2.88h-3.36zM381.0 465.4l1.68 -2.88h3.36l1.68 2.88l-1.68 2.88h-3.36zM276.0 335.8l1.68 -2.88h3.36l1.68 2.88l-1.68 2.88h-3.36zM141.0 235.0l1.68 -2.88h3.36l1.68 2.88l-1.68 2.88h-3.36zM191.0 523.0l1.68 -2.88h3.36l1.68 2.88l-1.68 2.88h-3.36zM251.0 373.3l1.68 -2.88h3.36l1.68 2.88l-1.68 2.88h-3.36zM146.0 243.7l1.68 -2.88h3.36l1.68 2.88l-1.68 2.88h-3.36zM306.0 428.0l1.68 -2.88h3.36l1.68 2.88l-1.68 2.88h-3.36zM196.0 525.9l1.68 -2.88h3.36l1.68 2.88l-1.68 2.88h-3.36zM256.0 376.1l1.68 -2.88h3.36l1.68 2.88l-1.68 2.88h-3.36zM336.0 266.7l1.68 -2.88h3.36l1.68 2.88l-1.68 2.88h-3.36zM296.0 243.7l1.68 -2.88h3.36l1.68 2.88l-1.68 2.88h-3.36zM246.0 445.3l1.68 -2.88h3.36l1.68 2.88l-1.68 2.88h-3.36zM271.0 275.3l1.68 -2.88h3.36l1.68 2.88l-1.68 2.88h-3.36zM136.0 543.2l1.68 -2.88h3.36l1.68 2.88l-1.68 2.88h-3.36zM366.0 353.1l1.68 -2.88h3.36l1.68 2.88l-1.68 2.88h-3.36zM256.0 243.7l1.68 -2.88h3.36l1.68 2.88l-1.68 2.88h-3.36zM216.0 220.6l1.68 -2.88h3.36l1.68 2.88l-1.68 2.88h-3.36zM421.0 436.6l1.68 -2.88h3.36l1.68 2.88l-1.68 2.88h-3.36zM176.0 197.6l1.68 -2.88h3.36l1.68 2.88l-1.68 2.88h-3.36zM226.0 485.6l1.68 -2.88h3.36l1.68 2.88l-1.68 2.88h-3.36zM276.0 278.2l1.68 -2.88h3.36l1.68 2.88l-1.68 2.88h-3.36zM406.0 243.7l1.68 -2.88h3.36l1.68 2.88l-1.68 2.88h-3.36zM156.0 237.9l1.68 -2.88h3.36l1.68 2.88l-1.68 2.88h-3.36zM101.0 390.5l1.68 -2.88h3.36l1.68 2.88l-1.68 2.88h-3.36zM156.0 445.3l1.68 -2.88h3.36l1.68 2.88l-1.68 2.88h-3.36zM361.0 448.1l1.68 -2.88h3.36l1.68 2.88l-1.68 2.88h-3.36zM121.0 217.7l1.68 -2.88h3.36l1.68 2.88l-1.68 2.88h-3.36zM231.0 356.0l1.68 -2.88h3.36l1.68 2.88l-1.68 2.88h-3.36zM346.0 260.9l1.68 -2.88h3.36l1.68 2.88l-1.68 2.88h-3.36zM306.0 237.9l1.68 -2.88h3.36l1.68 2.88l-1.68 2.88h-3.36zM131.0 476.9l1.68 -2.88h3.36l1.68 2.88l-1.68 2.88h-3.36zM136.0 278.2l1.68 -2.88h3.36l1.68 2.88l-1.68 2.88h-3.36zM91.0 453.9l1.68 -2.88h3.36l1.68 2.88l-1.68 2.88h-3.36zM191.0 540.3l1.68 -2.88h3.36l1.68 2.88l-1.68 2.88h-3.36zM251.0 390.5l1.68 -2.88h3.36l1.68 2.88l-1.68 2.88h-3.36zM306.0 445.3l1.68 -2.88h3.36l1.68 2.88l-1.68 2.88h-3.36zM136.0 485.6l1.68 -2.88h3.36l1.68 2.88l-1.68 2.88h-3.36zM96.0 462.5l1.68 -2.88h3.36l1.68 2.88l-1.68 2.88h-3.36zM206.0 600.8l1.68 -2.88h3.36l1.68 2.88l-1.68 2.88h-3.36zM341.0 327.2l1.68 -2.88h3.36l1.68 2.88l-1.68 2.88h-3.36zM231.0 430.9l1.68 -2.88h3.36l1.68 2.88l-1.68 2.88h-3.36zM186.0 612.3l1.68 -2.88h3.36l1.68 2.88l-1.68 2.88h-3.36zM291.0 281.1l1.68 -2.88h3.36l1.68 2.88l-1.68 2.88h-3.36zM306.0 312.8l1.68 -2.88h3.36l1.68 2.88l-1.68 2.88h-3.36zM196.0 203.3l1.68 -2.88h3.36l1.68 2.88l-1.68 2.88h-3.36zM261.0 517.3l1.68 -2.88h3.36l1.68 2.88l-1.68 2.88h-3.36zM221.0 494.2l1.68 -2.88h3.36l1.68 2.88l-1.68 2.88h-3.36zM176.0 214.9l1.68 -2.88h3.36l1.68 2.88l-1.68 2.88h-3.36zM326.0 376.1l1.68 -2.88h3.36l1.68 2.88l-1.68 2.88h-3.36zM151.0 246.5l1.68 -2.88h3.36l1.68 2.88l-1.68 2.88h-3.36zM101.0 200.5l1.68 -2.88h3.36l1.68 2.88l-1.68 2.88h-3.36zM361.0 258.1l1.68 -2.88h3.36l1.68 2.88l-1.68 2.88h-3.36zM481.0 171.7l1.68 -2.88h3.36l1.68 2.88l-1.68 2.88h-3.36zM206.0 543.2l1.68 -2.88h3.36l1.68 2.88l-1.68 2.88h-3.36zM321.0 442.4l1.68 -2.88h3.36l1.68 2.88l-1.68 2.88h-3.36zM281.0 419.3l1.68 -2.88h3.36l1.68 2.88l-1.68 2.88h-3.36zM341.0 269.6l1.68 -2.88h3.36l1.68 2.88l-1.68 2.88h-3.36zM231.0 373.3l1.68 -2.88h3.36l1.68 2.88l-1.68 2.88h-3.36zM396.0 358.9l1.68 -2.88h3.36l1.68 2.88l-1.68 2.88h-3.36zM496.0 70.9l1.68 -2.88h3.36l1.68 2.88l-1.68 2.88h-3.36zM326.0 111.2l1.68 -2.88h3.36l1.68 2.88l-1.68 2.88h-3.36zM246.0 272.5l1.68 -2.88h3.36l1.68 2.88l-1.68 2.88h-3.36zM346.0 145.7l1.68 -2.88h3.36l1.68 2.88l-1.68 2.88h-3.36zM151.0 188.9l1.68 -2.88h3.36l1.68 2.88l-1.68 2.88h-3.36zM411.0 459.7l1.68 -2.88h3.36l1.68 2.88l-1.68 2.88h-3.36zM146.0 428.0l1.68 -2.88h3.36l1.68 2.88l-1.68 2.88h-3.36zM301.0 350.2l1.68 -2.88h3.36l1.68 2.88l-1.68 2.88h-3.36zM261.0 327.2l1.68 -2.88h3.36l1.68 2.88l-1.68 2.88h-3.36zM361.0 200.5l1.68 -2.88h3.36l1.68 2.88l-1.68 2.88h-3.36zM481.0 114.1l1.68 -2.88h3.36l1.68 2.88l-1.68 2.88h-3.36zM126.0 439.5l1.68 -2.88h3.36l1.68 2.88l-1.68 2.88h-3.36zM221.0 511.5l1.68 -2.88h3.36l1.68 2.88l-1.68 2.88h-3.36zM336.0 451.0l1.68 -2.88h3.36l1.68 2.88l-1.68 2.88h-3.36zM351.0 476.9l1.68 -2.88h3.36l1.68 2.88l-1.68 2.88h-3.36zM316.0 255.2l1.68 -2.88h3.36l1.68 2.88l-1.68 2.88h-3.36zM96.0 214.9l1.68 -2.88h3.36l1.68 2.88l-1.68 2.88h-3.36zM416.0 335.8l1.68 -2.88h3.36l1.68 2.88l-1.68 2.88h-3.36zM421.0 131.3l1.68 -2.88h3.36l1.68 2.88l-1.68 2.88h-3.36zM146.0 502.9l1.68 -2.88h3.36l1.68 2.88l-1.68 2.88h-3.36zM281.0 229.3l1.68 -2.88h3.36l1.68 2.88l-1.68 2.88h-3.36zM336.0 318.5l1.68 -2.88h3.36l1.68 2.88l-1.68 2.88h-3.36zM296.0 295.5l1.68 -2.88h3.36l1.68 2.88l-1.68 2.88h-3.36zM121.0 534.5l1.68 -2.88h3.36l1.68 2.88l-1.68 2.88h-3.36zM351.0 344.5l1.68 -2.88h3.36l1.68 2.88l-1.68 2.88h-3.36zM176.0 589.3l1.68 -2.88h3.36l1.68 2.88l-1.68 2.88h-3.36zM276.0 462.5l1.68 -2.88h3.36l1.68 2.88l-1.68 2.88h-3.36zM236.0 439.5l1.68 -2.88h3.36l1.68 2.88l-1.68 2.88h-3.36zM296.0 502.9l1.68 -2.88h3.36l1.68 2.88l-1.68 2.88h-3.36zM411.0 402.1l1.68 -2.88h3.36l1.68 2.88l-1.68 2.88h-3.36zM241.0 442.4l1.68 -2.88h3.36l1.68 2.88l-1.68 2.88h-3.36zM301.0 292.6l1.68 -2.88h3.36l1.68 2.88l-1.68 2.88h-3.36zM166.0 197.6l1.68 -2.88h3.36l1.68 2.88l-1.68 2.88h-3.36zM161.0 425.1l1.68 -2.88h3.36l1.68 2.88l-1.68 2.88h-3.36zM186.0 232.1l1.68 -2.88h3.36l1.68 2.88l-1.68 2.88h-3.36zM216.0 479.8l1.68 -2.88h3.36l1.68 2.88l-1.68 2.88h-3.36zM236.0 307.0l1.68 -2.88h3.36l1.68 2.88l-1.68 2.88h-3.36zM336.0 393.4l1.68 -2.88h3.36l1.68 2.88l-1.68 2.88h-3.36zM391.0 442.4l1.68 -2.88h3.36l1.68 2.88l-1.68 2.88h-3.36zM241.0 309.9l1.68 -2.88h3.36l1.68 2.88l-1.68 2.88h-3.36zM106.0 214.9l1.68 -2.88h3.36l1.68 2.88l-1.68 2.88h-3.36zM106.0 422.2l1.68 -2.88h3.36l1.68 2.88l-1.68 2.88h-3.36zM126.0 249.4l1.68 -2.88h3.36l1.68 2.88l-1.68 2.88h-3.36zM111.0 212.0l1.68 -2.88h3.36l1.68 2.88l-1.68 2.88h-3.36zM336.0 260.9l1.68 -2.88h3.36l1.68 2.88l-1.68 2.88h-3.36zM391.0 309.9l1.68 -2.88h3.36l1.68 2.88l-1.68 2.88h-3.36zM396.0 111.2l1.68 -2.88h3.36l1.68 2.88l-1.68 2.88h-3.36zM236.0 381.9l1.68 -2.88h3.36l1.68 2.88l-1.68 2.88h-3.36zM191.0 592.1l1.68 -2.88h3.36l1.68 2.88l-1.68 2.88h-3.36zM306.0 497.1l1.68 -2.88h3.36l1.68 2.88l-1.68 2.88h-3.36zM136.0 537.4l1.68 -2.88h3.36l1.68 2.88l-1.68 2.88h-3.36zM301.0 235.0l1.68 -2.88h3.36l1.68 2.88l-1.68 2.88h-3.36zM151.0 563.3l1.68 -2.88h3.36l1.68 2.88l-1.68 2.88h-3.36zM311.0 500.0l1.68 -2.88h3.36l1.68 2.88l-1.68 2.88h-3.36zM331.0 327.2l1.68 -2.88h3.36l1.68 2.88l-1.68 2.88h-3.36zM156.0 572.0l1.68 -2.88h3.36l1.68 2.88l-1.68 2.88h-3.36zM181.0 194.7l1.68 -2.88h3.36l1.68 2.88l-1.68 2.88h-3.36zM336.0 335.8l1.68 -2.88h3.36l1.68 2.88l-1.68 2.88h-3.36zM411.0 212.0l1.68 -2.88h3.36l1.68 2.88l-1.68 2.88h-3.36zM211.0 494.2l1.68 -2.88h3.36l1.68 2.88l-1.68 2.88h-3.36zM406.0 445.3l1.68 -2.88h3.36l1.68 2.88l-1.68 2.88h-3.36zM371.0 217.7l1.68 -2.88h3.36l1.68 2.88l-1.68 2.88h-3.36zM126.0 191.8l1.68 -2.88h3.36l1.68 2.88l-1.68 2.88h-3.36zM156.0 439.5l1.68 -2.88h3.36l1.68 2.88l-1.68 2.88h-3.36zM161.0 235.0l1.68 -2.88h3.36l1.68 2.88l-1.68 2.88h-3.36zM276.0 347.3l1.68 -2.88h3.36l1.68 2.88l-1.68 2.88h-3.36zM291.0 407.8l1.68 -2.88h3.36l1.68 2.88l-1.68 2.88h-3.36zM251.0 384.8l1.68 -2.88h3.36l1.68 2.88l-1.68 2.88h-3.36zM306.0 439.5l1.68 -2.88h3.36l1.68 2.88l-1.68 2.88h-3.36zM311.0 235.0l1.68 -2.88h3.36l1.68 2.88l-1.68 2.88h-3.36zM331.0 269.6l1.68 -2.88h3.36l1.68 2.88l-1.68 2.88h-3.36zM121.0 286.9l1.68 -2.88h3.36l1.68 2.88l-1.68 2.88h-3.36zM446.0 174.5l1.68 -2.88h3.36l1.68 2.88l-1.68 2.88h-3.36zM296.0 255.2l1.68 -2.88h3.36l1.68 2.88l-1.68 2.88h-3.36zM231.0 425.1l1.68 -2.88h3.36l1.68 2.88l-1.68 2.88h-3.36zM186.0 606.5l1.68 -2.88h3.36l1.68 2.88l-1.68 2.88h-3.36zM386.0 353.1l1.68 -2.88h3.36l1.68 2.88l-1.68 2.88h-3.36zM271.0 286.9l1.68 -2.88h3.36l1.68 2.88l-1.68 2.88h-3.36zM421.0 448.1l1.68 -2.88h3.36l1.68 2.88l-1.68 2.88h-3.36zM176.0 209.1l1.68 -2.88h3.36l1.68 2.88l-1.68 2.88h-3.36zM171.0 442.4l1.68 -2.88h3.36l1.68 2.88l-1.68 2.88h-3.36zM326.0 370.4l1.68 -2.88h3.36l1.68 2.88l-1.68 2.88h-3.36zM351.0 171.7l1.68 -2.88h3.36l1.68 2.88l-1.68 2.88h-3.36zM181.0 212.0l1.68 -2.88h3.36l1.68 2.88l-1.68 2.88h-3.36zM381.0 419.3l1.68 -2.88h3.36l1.68 2.88l-1.68 2.88h-3.36zM386.0 428.0l1.68 -2.88h3.36l1.68 2.88l-1.68 2.88h-3.36zM306.0 381.9l1.68 -2.88h3.36l1.68 2.88l-1.68 2.88h-3.36zM156.0 249.4l1.68 -2.88h3.36l1.68 2.88l-1.68 2.88h-3.36zM116.0 226.4l1.68 -2.88h3.36l1.68 2.88l-1.68 2.88h-3.36zM221.0 563.3l1.68 -2.88h3.36l1.68 2.88l-1.68 2.88h-3.36zM446.0 116.9l1.68 -2.88h3.36l1.68 2.88l-1.68 2.88h-3.36zM226.0 572.0l1.68 -2.88h3.36l1.68 2.88l-1.68 2.88h-3.36zM326.0 445.3l1.68 -2.88h3.36l1.68 2.88l-1.68 2.88h-3.36zM346.0 272.5l1.68 -2.88h3.36l1.68 2.88l-1.68 2.88h-3.36zM131.0 488.5l1.68 -2.88h3.36l1.68 2.88l-1.68 2.88h-3.36zM211.0 379.0l1.68 -2.88h3.36l1.68 2.88l-1.68 2.88h-3.36zM201.0 603.7l1.68 -2.88h3.36l1.68 2.88l-1.68 2.88h-3.36zM366.0 307.0l1.68 -2.88h3.36l1.68 2.88l-1.68 2.88h-3.36zM301.0 476.9l1.68 -2.88h3.36l1.68 2.88l-1.68 2.88h-3.36zM361.0 327.2l1.68 -2.88h3.36l1.68 2.88l-1.68 2.88h-3.36zM166.0 589.3l1.68 -2.88h3.36l1.68 2.88l-1.68 2.88h-3.36zM286.0 289.7l1.68 -2.88h3.36l1.68 2.88l-1.68 2.88h-3.36zM381.0 361.7l1.68 -2.88h3.36l1.68 2.88l-1.68 2.88h-3.36zM346.0 140.0l1.68 -2.88h3.36l1.68 2.88l-1.68 2.88h-3.36zM231.0 442.4l1.68 -2.88h3.36l1.68 2.88l-1.68 2.88h-3.36zM181.0 644.0l1.68 -2.88h3.36l1.68 2.88l-1.68 2.88h-3.36zM196.0 214.9l1.68 -2.88h3.36l1.68 2.88l-1.68 2.88h-3.36zM261.0 528.8l1.68 -2.88h3.36l1.68 2.88l-1.68 2.88h-3.36zM266.0 330.1l1.68 -2.88h3.36l1.68 2.88l-1.68 2.88h-3.36zM321.0 379.0l1.68 -2.88h3.36l1.68 2.88l-1.68 2.88h-3.36zM281.0 356.0l1.68 -2.88h3.36l1.68 2.88l-1.68 2.88h-3.36zM441.0 292.6l1.68 -2.88h3.36l1.68 2.88l-1.68 2.88h-3.36zM326.0 387.7l1.68 -2.88h3.36l1.68 2.88l-1.68 2.88h-3.36zM246.0 341.6l1.68 -2.88h3.36l1.68 2.88l-1.68 2.88h-3.36zM131.0 430.9l1.68 -2.88h3.36l1.68 2.88l-1.68 2.88h-3.36zM91.0 407.8l1.68 -2.88h3.36l1.68 2.88l-1.68 2.88h-3.36zM96.0 209.1l1.68 -2.88h3.36l1.68 2.88l-1.68 2.88h-3.36zM376.0 307.0l1.68 -2.88h3.36l1.68 2.88l-1.68 2.88h-3.36zM241.0 569.1l1.68 -2.88h3.36l1.68 2.88l-1.68 2.88h-3.36zM301.0 419.3l1.68 -2.88h3.36l1.68 2.88l-1.68 2.88h-3.36zM116.0 243.7l1.68 -2.88h3.36l1.68 2.88l-1.68 2.88h-3.36zM321.0 246.5l1.68 -2.88h3.36l1.68 2.88l-1.68 2.88h-3.36zM221.0 580.6l1.68 -2.88h3.36l1.68 2.88l-1.68 2.88h-3.36zM226.0 381.9l1.68 -2.88h3.36l1.68 2.88l-1.68 2.88h-3.36zM381.0 304.1l1.68 -2.88h3.36l1.68 2.88l-1.68 2.88h-3.36zM86.0 514.4l1.68 -2.88h3.36l1.68 2.88l-1.68 2.88h-3.36zM241.0 436.6l1.68 -2.88h3.36l1.68 2.88l-1.68 2.88h-3.36zM96.0 284.0l1.68 -2.88h3.36l1.68 2.88l-1.68 2.88h-3.36zM106.0 548.9l1.68 -2.88h3.36l1.68 2.88l-1.68 2.88h-3.36zM206.0 422.2l1.68 -2.88h3.36l1.68 2.88l-1.68 2.88h-3.36zM301.0 494.2l1.68 -2.88h3.36l1.68 2.88l-1.68 2.88h-3.36zM166.0 399.2l1.68 -2.88h3.36l1.68 2.88l-1.68 2.88h-3.36zM496.0 82.4l1.68 -2.88h3.36l1.68 2.88l-1.68 2.88h-3.36zM221.0 448.1l1.68 -2.88h3.36l1.68 2.88l-1.68 2.88h-3.36zM281.0 298.4l1.68 -2.88h3.36l1.68 2.88l-1.68 2.88h-3.36zM191.0 229.3l1.68 -2.88h3.36l1.68 2.88l-1.68 2.88h-3.36zM396.0 237.9l1.68 -2.88h3.36l1.68 2.88l-1.68 2.88h-3.36zM236.0 508.6l1.68 -2.88h3.36l1.68 2.88l-1.68 2.88h-3.36zM316.0 399.2l1.68 -2.88h3.36l1.68 2.88l-1.68 2.88h-3.36zM146.0 439.5l1.68 -2.88h3.36l1.68 2.88l-1.68 2.88h-3.36zM201.0 488.5l1.68 -2.88h3.36l1.68 2.88l-1.68 2.88h-3.36zM301.0 361.7l1.68 -2.88h3.36l1.68 2.88l-1.68 2.88h-3.36zM111.0 206.2l1.68 -2.88h3.36l1.68 2.88l-1.68 2.88h-3.36zM331.0 453.9l1.68 -2.88h3.36l1.68 2.88l-1.68 2.88h-3.36zM341.0 223.5l1.68 -2.88h3.36l1.68 2.88l-1.68 2.88h-3.36zM131.0 240.8l1.68 -2.88h3.36l1.68 2.88l-1.68 2.88h-3.36zM296.0 439.5l1.68 -2.88h3.36l1.68 2.88l-1.68 2.88h-3.36zM396.0 312.8l1.68 -2.88h3.36l1.68 2.88l-1.68 2.88h-3.36zM356.0 289.7l1.68 -2.88h3.36l1.68 2.88l-1.68 2.88h-3.36zM86.0 456.8l1.68 -2.88h3.36l1.68 2.88l-1.68 2.88h-3.36zM411.0 338.7l1.68 -2.88h3.36l1.68 2.88l-1.68 2.88h-3.36zM416.0 140.0l1.68 -2.88h3.36l1.68 2.88l-1.68 2.88h-3.36zM141.0 505.7l1.68 -2.88h3.36l1.68 2.88l-1.68 2.88h-3.36zM316.0 474.1l1.68 -2.88h3.36l1.68 2.88l-1.68 2.88h-3.36zM376.0 324.3l1.68 -2.88h3.36l1.68 2.88l-1.68 2.88h-3.36zM106.0 491.3l1.68 -2.88h3.36l1.68 2.88l-1.68 2.88h-3.36zM221.0 390.5l1.68 -2.88h3.36l1.68 2.88l-1.68 2.88h-3.36zM321.0 263.8l1.68 -2.88h3.36l1.68 2.88l-1.68 2.88h-3.36zM381.0 114.1l1.68 -2.88h3.36l1.68 2.88l-1.68 2.88h-3.36zM181.0 396.3l1.68 -2.88h3.36l1.68 2.88l-1.68 2.88h-3.36zM276.0 474.1l1.68 -2.88h3.36l1.68 2.88l-1.68 2.88h-3.36zM201.0 223.5l1.68 -2.88h3.36l1.68 2.88l-1.68 2.88h-3.36zM356.0 364.6l1.68 -2.88h3.36l1.68 2.88l-1.68 2.88h-3.36zM416.0 214.9l1.68 -2.88h3.36l1.68 2.88l-1.68 2.88h-3.36zM301.0 304.1l1.68 -2.88h3.36l1.68 2.88l-1.68 2.88h-3.36zM331.0 396.3l1.68 -2.88h3.36l1.68 2.88l-1.68 2.88h-3.36zM216.0 491.3l1.68 -2.88h3.36l1.68 2.88l-1.68 2.88h-3.36zM236.0 318.5l1.68 -2.88h3.36l1.68 2.88l-1.68 2.88h-3.36zM351.0 430.9l1.68 -2.88h3.36l1.68 2.88l-1.68 2.88h-3.36zM181.0 471.2l1.68 -2.88h3.36l1.68 2.88l-1.68 2.88h-3.36zM106.0 226.4l1.68 -2.88h3.36l1.68 2.88l-1.68 2.88h-3.36zM106.0 433.7l1.68 -2.88h3.36l1.68 2.88l-1.68 2.88h-3.36zM436.0 116.9l1.68 -2.88h3.36l1.68 2.88l-1.68 2.88h-3.36zM116.0 485.6l1.68 -2.88h3.36l1.68 2.88l-1.68 2.88h-3.36zM256.0 381.9l1.68 -2.88h3.36l1.68 2.88l-1.68 2.88h-3.36zM111.0 223.5l1.68 -2.88h3.36l1.68 2.88l-1.68 2.88h-3.36zM311.0 304.1l1.68 -2.88h3.36l1.68 2.88l-1.68 2.88h-3.36zM366.0 358.9l1.68 -2.88h3.36l1.68 2.88l-1.68 2.88h-3.36zM261.0 223.5l1.68 -2.88h3.36l1.68 2.88l-1.68 2.88h-3.36zM256.0 249.4l1.68 -2.88h3.36l1.68 2.88l-1.68 2.88h-3.36zM486.0 266.7l1.68 -2.88h3.36l1.68 2.88l-1.68 2.88h-3.36zM181.0 206.2l1.68 -2.88h3.36l1.68 2.88l-1.68 2.88h-3.36zM356.0 174.5l1.68 -2.88h3.36l1.68 2.88l-1.68 2.88h-3.36zM386.0 422.2l1.68 -2.88h3.36l1.68 2.88l-1.68 2.88h-3.36zM146.0 191.8l1.68 -2.88h3.36l1.68 2.88l-1.68 2.88h-3.36zM241.0 263.8l1.68 -2.88h3.36l1.68 2.88l-1.68 2.88h-3.36zM306.0 376.1l1.68 -2.88h3.36l1.68 2.88l-1.68 2.88h-3.36zM401.0 448.1l1.68 -2.88h3.36l1.68 2.88l-1.68 2.88h-3.36zM251.0 528.8l1.68 -2.88h3.36l1.68 2.88l-1.68 2.88h-3.36zM211.0 505.7l1.68 -2.88h3.36l1.68 2.88l-1.68 2.88h-3.36zM406.0 456.8l1.68 -2.88h3.36l1.68 2.88l-1.68 2.88h-3.36zM126.0 203.3l1.68 -2.88h3.36l1.68 2.88l-1.68 2.88h-3.36zM196.0 474.1l1.68 -2.88h3.36l1.68 2.88l-1.68 2.88h-3.36zM156.0 451.0l1.68 -2.88h3.36l1.68 2.88l-1.68 2.88h-3.36zM161.0 246.5l1.68 -2.88h3.36l1.68 2.88l-1.68 2.88h-3.36zM121.0 223.5l1.68 -2.88h3.36l1.68 2.88l-1.68 2.88h-3.36zM256.0 324.3l1.68 -2.88h3.36l1.68 2.88l-1.68 2.88h-3.36zM336.0 214.9l1.68 -2.88h3.36l1.68 2.88l-1.68 2.88h-3.36zM226.0 566.2l1.68 -2.88h3.36l1.68 2.88l-1.68 2.88h-3.36zM121.0 430.9l1.68 -2.88h3.36l1.68 2.88l-1.68 2.88h-3.36zM81.0 407.8l1.68 -2.88h3.36l1.68 2.88l-1.68 2.88h-3.36zM191.0 546.1l1.68 -2.88h3.36l1.68 2.88l-1.68 2.88h-3.36zM306.0 451.0l1.68 -2.88h3.36l1.68 2.88l-1.68 2.88h-3.36zM171.0 586.4l1.68 -2.88h3.36l1.68 2.88l-1.68 2.88h-3.36zM186.0 618.1l1.68 -2.88h3.36l1.68 2.88l-1.68 2.88h-3.36zM286.0 491.3l1.68 -2.88h3.36l1.68 2.88l-1.68 2.88h-3.36zM291.0 286.9l1.68 -2.88h3.36l1.68 2.88l-1.68 2.88h-3.36zM386.0 364.6l1.68 -2.88h3.36l1.68 2.88l-1.68 2.88h-3.36zM346.0 341.6l1.68 -2.88h3.36l1.68 2.88l-1.68 2.88h-3.36zM201.0 183.2l1.68 -2.88h3.36l1.68 2.88l-1.68 2.88h-3.36zM196.0 209.1l1.68 -2.88h3.36l1.68 2.88l-1.68 2.88h-3.36zM211.0 448.1l1.68 -2.88h3.36l1.68 2.88l-1.68 2.88h-3.36zM151.0 592.1l1.68 -2.88h3.36l1.68 2.88l-1.68 2.88h-3.36zM176.0 220.6l1.68 -2.88h3.36l1.68 2.88l-1.68 2.88h-3.36zM171.0 453.9l1.68 -2.88h3.36l1.68 2.88l-1.68 2.88h-3.36zM226.0 508.6l1.68 -2.88h3.36l1.68 2.88l-1.68 2.88h-3.36zM181.0 223.5l1.68 -2.88h3.36l1.68 2.88l-1.68 2.88h-3.36zM381.0 430.9l1.68 -2.88h3.36l1.68 2.88l-1.68 2.88h-3.36zM141.0 200.5l1.68 -2.88h3.36l1.68 2.88l-1.68 2.88h-3.36zM306.0 393.4l1.68 -2.88h3.36l1.68 2.88l-1.68 2.88h-3.36zM466.0 116.9l1.68 -2.88h3.36l1.68 2.88l-1.68 2.88h-3.36zM151.0 459.7l1.68 -2.88h3.36l1.68 2.88l-1.68 2.88h-3.36zM116.0 237.9l1.68 -2.88h3.36l1.68 2.88l-1.68 2.88h-3.36zM331.0 223.5l1.68 -2.88h3.36l1.68 2.88l-1.68 2.88h-3.36zM121.0 240.8l1.68 -2.88h3.36l1.68 2.88l-1.68 2.88h-3.36zM321.0 448.1l1.68 -2.88h3.36l1.68 2.88l-1.68 2.88h-3.36zM281.0 425.1l1.68 -2.88h3.36l1.68 2.88l-1.68 2.88h-3.36zM381.0 298.4l1.68 -2.88h3.36l1.68 2.88l-1.68 2.88h-3.36zM341.0 275.3l1.68 -2.88h3.36l1.68 2.88l-1.68 2.88h-3.36zM326.0 456.8l1.68 -2.88h3.36l1.68 2.88l-1.68 2.88h-3.36zM286.0 433.7l1.68 -2.88h3.36l1.68 2.88l-1.68 2.88h-3.36zM291.0 229.3l1.68 -2.88h3.36l1.68 2.88l-1.68 2.88h-3.36zM386.0 307.0l1.68 -2.88h3.36l1.68 2.88l-1.68 2.88h-3.36zM341.0 482.7l1.68 -2.88h3.36l1.68 2.88l-1.68 2.88h-3.36zM346.0 284.0l1.68 -2.88h3.36l1.68 2.88l-1.68 2.88h-3.36zM306.0 260.9l1.68 -2.88h3.36l1.68 2.88l-1.68 2.88h-3.36zM311.0 263.8l1.68 -2.88h3.36l1.68 2.88l-1.68 2.88h-3.36zM271.0 240.8l1.68 -2.88h3.36l1.68 2.88l-1.68 2.88h-3.36zM221.0 442.4l1.68 -2.88h3.36l1.68 2.88l-1.68 2.88h-3.36zM361.0 338.7l1.68 -2.88h3.36l1.68 2.88l-1.68 2.88h-3.36zM166.0 600.8l1.68 -2.88h3.36l1.68 2.88l-1.68 2.88h-3.36zM266.0 474.1l1.68 -2.88h3.36l1.68 2.88l-1.68 2.88h-3.36zM226.0 451.0l1.68 -2.88h3.36l1.68 2.88l-1.68 2.88h-3.36zM281.0 500.0l1.68 -2.88h3.36l1.68 2.88l-1.68 2.88h-3.36zM326.0 324.3l1.68 -2.88h3.36l1.68 2.88l-1.68 2.88h-3.36zM191.0 430.9l1.68 -2.88h3.36l1.68 2.88l-1.68 2.88h-3.36zM151.0 194.7l1.68 -2.88h3.36l1.68 2.88l-1.68 2.88h-3.36zM201.0 482.7l1.68 -2.88h3.36l1.68 2.88l-1.68 2.88h-3.36zM366.0 186.1l1.68 -2.88h3.36l1.68 2.88l-1.68 2.88h-3.36zM196.0 226.4l1.68 -2.88h3.36l1.68 2.88l-1.68 2.88h-3.36zM481.0 119.8l1.68 -2.88h3.36l1.68 2.88l-1.68 2.88h-3.36zM126.0 445.3l1.68 -2.88h3.36l1.68 2.88l-1.68 2.88h-3.36zM186.0 502.9l1.68 -2.88h3.36l1.68 2.88l-1.68 2.88h-3.36zM236.0 577.7l1.68 -2.88h3.36l1.68 2.88l-1.68 2.88h-3.36zM131.0 442.4l1.68 -2.88h3.36l1.68 2.88l-1.68 2.88h-3.36zM356.0 491.3l1.68 -2.88h3.36l1.68 2.88l-1.68 2.88h-3.36zM316.0 468.3l1.68 -2.88h3.36l1.68 2.88l-1.68 2.88h-3.36zM416.0 341.6l1.68 -2.88h3.36l1.68 2.88l-1.68 2.88h-3.36zM241.0 580.6l1.68 -2.88h3.36l1.68 2.88l-1.68 2.88h-3.36zM321.0 258.1l1.68 -2.88h3.36l1.68 2.88l-1.68 2.88h-3.36zM281.0 235.0l1.68 -2.88h3.36l1.68 2.88l-1.68 2.88h-3.36zM226.0 393.4l1.68 -2.88h3.36l1.68 2.88l-1.68 2.88h-3.36zM161.0 563.3l1.68 -2.88h3.36l1.68 2.88l-1.68 2.88h-3.36zM281.0 442.4l1.68 -2.88h3.36l1.68 2.88l-1.68 2.88h-3.36zM326.0 266.7l1.68 -2.88h3.36l1.68 2.88l-1.68 2.88h-3.36zM276.0 468.3l1.68 -2.88h3.36l1.68 2.88l-1.68 2.88h-3.36zM296.0 508.6l1.68 -2.88h3.36l1.68 2.88l-1.68 2.88h-3.36zM356.0 358.9l1.68 -2.88h3.36l1.68 2.88l-1.68 2.88h-3.36zM361.0 148.6l1.68 -2.88h3.36l1.68 2.88l-1.68 2.88h-3.36zM436.0 243.7l1.68 -2.88h3.36l1.68 2.88l-1.68 2.88h-3.36zM171.0 206.2l1.68 -2.88h3.36l1.68 2.88l-1.68 2.88h-3.36zM261.0 482.7l1.68 -2.88h3.36l1.68 2.88l-1.68 2.88h-3.36zM281.0 309.9l1.68 -2.88h3.36l1.68 2.88l-1.68 2.88h-3.36zM351.0 425.1l1.68 -2.88h3.36l1.68 2.88l-1.68 2.88h-3.36zM396.0 456.8l1.68 -2.88h3.36l1.68 2.88l-1.68 2.88h-3.36zM151.0 212.0l1.68 -2.88h3.36l1.68 2.88l-1.68 2.88h-3.36zM376.0 260.9l1.68 -2.88h3.36l1.68 2.88l-1.68 2.88h-3.36zM201.0 500.0l1.68 -2.88h3.36l1.68 2.88l-1.68 2.88h-3.36zM301.0 373.3l1.68 -2.88h3.36l1.68 2.88l-1.68 2.88h-3.36zM331.0 465.4l1.68 -2.88h3.36l1.68 2.88l-1.68 2.88h-3.36zM226.0 335.8l1.68 -2.88h3.36l1.68 2.88l-1.68 2.88h-3.36zM391.0 315.7l1.68 -2.88h3.36l1.68 2.88l-1.68 2.88h-3.36zM296.0 451.0l1.68 -2.88h3.36l1.68 2.88l-1.68 2.88h-3.36zM356.0 301.3l1.68 -2.88h3.36l1.68 2.88l-1.68 2.88h-3.36zM201.0 367.5l1.68 -2.88h3.36l1.68 2.88l-1.68 2.88h-3.36zM301.0 240.8l1.68 -2.88h3.36l1.68 2.88l-1.68 2.88h-3.36zM371.0 356.0l1.68 -2.88h3.36l1.68 2.88l-1.68 2.88h-3.36zM196.0 600.8l1.68 -2.88h3.36l1.68 2.88l-1.68 2.88h-3.36zM256.0 451.0l1.68 -2.88h3.36l1.68 2.88l-1.68 2.88h-3.36zM381.0 125.6l1.68 -2.88h3.36l1.68 2.88l-1.68 2.88h-3.36z"/>
<path fill="rgb(238,197,144)" d="M236.0 462.5l1.68 -2.88h3.36l1.68 2.88l-1.68 2.88h-3.36zM251.0 523.0l1.68 -2.88h3.36l1.68 2.88l-1.68 2.88h-3.36zM261.0 292.6l1.68 -2.88h3.36l1.68 2.88l-1.68 2.88h-3.36zM361.0 165.9l1.68 -2.88h3.36l1.68 2.88l-1.68 2.88h-3.36zM241.0 332.9l1.68 -2.88h3.36l1.68 2.88l-1.68 2.88h-3.36zM371.0 298.4l1.68 -2.88h3.36l1.68 2.88l-1.68 2.88h-3.36zM351.0 309.9l1.68 -2.88h3.36l1.68 2.88l-1.68 2.88h-3.36zM291.0 488.5l1.68 -2.88h3.36l1.68 2.88l-1.68 2.88h-3.36zM311.0 315.7l1.68 -2.88h3.36l1.68 2.88l-1.68 2.88h-3.36zM271.0 292.6l1.68 -2.88h3.36l1.68 2.88l-1.68 2.88h-3.36zM371.0 165.9l1.68 -2.88h3.36l1.68 2.88l-1.68 2.88h-3.36zM256.0 260.9l1.68 -2.88h3.36l1.68 2.88l-1.68 2.88h-3.36zM181.0 217.7l1.68 -2.88h3.36l1.68 2.88l-1.68 2.88h-3.36zM356.0 186.1l1.68 -2.88h3.36l1.68 2.88l-1.68 2.88h-3.36zM251.0 332.9l1.68 -2.88h3.36l1.68 2.88l-1.68 2.88h-3.36zM306.0 387.7l1.68 -2.88h3.36l1.68 2.88l-1.68 2.88h-3.36zM466.0 111.2l1.68 -2.88h3.36l1.68 2.88l-1.68 2.88h-3.36zM451.0 125.6l1.68 -2.88h3.36l1.68 2.88l-1.68 2.88h-3.36zM386.0 301.3l1.68 -2.88h3.36l1.68 2.88l-1.68 2.88h-3.36zM141.0 269.6l1.68 -2.88h3.36l1.68 2.88l-1.68 2.88h-3.36zM341.0 476.9l1.68 -2.88h3.36l1.68 2.88l-1.68 2.88h-3.36zM366.0 312.8l1.68 -2.88h3.36l1.68 2.88l-1.68 2.88h-3.36zM281.0 494.2l1.68 -2.88h3.36l1.68 2.88l-1.68 2.88h-3.36zM231.0 448.1l1.68 -2.88h3.36l1.68 2.88l-1.68 2.88h-3.36zM251.0 275.3l1.68 -2.88h3.36l1.68 2.88l-1.68 2.88h-3.36zM271.0 309.9l1.68 -2.88h3.36l1.68 2.88l-1.68 2.88h-3.36zM261.0 534.5l1.68 -2.88h3.36l1.68 2.88l-1.68 2.88h-3.36zM136.0 237.9l1.68 -2.88h3.36l1.68 2.88l-1.68 2.88h-3.36zM151.0 263.8l1.68 -2.88h3.36l1.68 2.88l-1.68 2.88h-3.36zM211.0 327.2l1.68 -2.88h3.36l1.68 2.88l-1.68 2.88h-3.36zM226.0 595.0l1.68 -2.88h3.36l1.68 2.88l-1.68 2.88h-3.36zM386.0 318.5l1.68 -2.88h3.36l1.68 2.88l-1.68 2.88h-3.36zM346.0 295.5l1.68 -2.88h3.36l1.68 2.88l-1.68 2.88h-3.36zM271.0 252.3l1.68 -2.88h3.36l1.68 2.88l-1.68 2.88h-3.36zM176.0 174.5l1.68 -2.88h3.36l1.68 2.88l-1.68 2.88h-3.36zM441.0 240.8l1.68 -2.88h3.36l1.68 2.88l-1.68 2.88h-3.36zM226.0 462.5l1.68 -2.88h3.36l1.68 2.88l-1.68 2.88h-3.36zM286.0 312.8l1.68 -2.88h3.36l1.68 2.88l-1.68 2.88h-3.36zM381.0 384.8l1.68 -2.88h3.36l1.68 2.88l-1.68 2.88h-3.36zM401.0 212.0l1.68 -2.88h3.36l1.68 2.88l-1.68 2.88h-3.36zM301.0 367.5l1.68 -2.88h3.36l1.68 2.88l-1.68 2.88h-3.36zM156.0 214.9l1.68 -2.88h3.36l1.68 2.88l-1.68 2.88h-3.36zM266.0 353.1l1.68 -2.88h3.36l1.68 2.88l-1.68 2.88h-3.36zM226.0 330.1l1.68 -2.88h3.36l1.68 2.88l-1.68 2.88h-3.36zM241.0 384.8l1.68 -2.88h3.36l1.68 2.88l-1.68 2.88h-3.36zM356.0 502.9l1.68 -2.88h3.36l1.68 2.88l-1.68 2.88h-3.36zM316.0 479.8l1.68 -2.88h3.36l1.68 2.88l-1.68 2.88h-3.36zM221.0 396.3l1.68 -2.88h3.36l1.68 2.88l-1.68 2.88h-3.36zM226.0 404.9l1.68 -2.88h3.36l1.68 2.88l-1.68 2.88h-3.36zM386.0 128.5l1.68 -2.88h3.36l1.68 2.88l-1.68 2.88h-3.36zM276.0 479.8l1.68 -2.88h3.36l1.68 2.88l-1.68 2.88h-3.36zM316.0 347.3l1.68 -2.88h3.36l1.68 2.88l-1.68 2.88h-3.36zM181.0 609.4l1.68 -2.88h3.36l1.68 2.88l-1.68 2.88h-3.36zM301.0 309.9l1.68 -2.88h3.36l1.68 2.88l-1.68 2.88h-3.36zM266.0 295.5l1.68 -2.88h3.36l1.68 2.88l-1.68 2.88h-3.36zM281.0 321.4l1.68 -2.88h3.36l1.68 2.88l-1.68 2.88h-3.36zM261.0 361.7l1.68 -2.88h3.36l1.68 2.88l-1.68 2.88h-3.36zM396.0 128.5l1.68 -2.88h3.36l1.68 2.88l-1.68 2.88h-3.36zM351.0 304.1l1.68 -2.88h3.36l1.68 2.88l-1.68 2.88h-3.36zM316.0 289.7l1.68 -2.88h3.36l1.68 2.88l-1.68 2.88h-3.36zM376.0 140.0l1.68 -2.88h3.36l1.68 2.88l-1.68 2.88h-3.36zM156.0 589.3l1.68 -2.88h3.36l1.68 2.88l-1.68 2.88h-3.36zM341.0 114.1l1.68 -2.88h3.36l1.68 2.88l-1.68 2.88h-3.36zM276.0 289.7l1.68 -2.88h3.36l1.68 2.88l-1.68 2.88h-3.36zM161.0 592.1l1.68 -2.88h3.36l1.68 2.88l-1.68 2.88h-3.36zM351.0 379.0l1.68 -2.88h3.36l1.68 2.88l-1.68 2.88h-3.36zM176.0 623.8l1.68 -2.88h3.36l1.68 2.88l-1.68 2.88h-3.36zM406.0 462.5l1.68 -2.88h3.36l1.68 2.88l-1.68 2.88h-3.36zM126.0 209.1l1.68 -2.88h3.36l1.68 2.88l-1.68 2.88h-3.36zM331.0 419.3l1.68 -2.88h3.36l1.68 2.88l-1.68 2.88h-3.36zM216.0 514.4l1.68 -2.88h3.36l1.68 2.88l-1.68 2.88h-3.36zM411.0 96.8l1.68 -2.88h3.36l1.68 2.88l-1.68 2.88h-3.36zM296.0 404.9l1.68 -2.88h3.36l1.68 2.88l-1.68 2.88h-3.36zM191.0 551.8l1.68 -2.88h3.36l1.68 2.88l-1.68 2.88h-3.36zM146.0 272.5l1.68 -2.88h3.36l1.68 2.88l-1.68 2.88h-3.36zM136.0 497.1l1.68 -2.88h3.36l1.68 2.88l-1.68 2.88h-3.36zM171.0 592.1l1.68 -2.88h3.36l1.68 2.88l-1.68 2.88h-3.36zM286.0 497.1l1.68 -2.88h3.36l1.68 2.88l-1.68 2.88h-3.36zM211.0 453.9l1.68 -2.88h3.36l1.68 2.88l-1.68 2.88h-3.36zM161.0 402.1l1.68 -2.88h3.36l1.68 2.88l-1.68 2.88h-3.36zM351.0 188.9l1.68 -2.88h3.36l1.68 2.88l-1.68 2.88h-3.36zM276.0 307.0l1.68 -2.88h3.36l1.68 2.88l-1.68 2.88h-3.36zM141.0 206.2l1.68 -2.88h3.36l1.68 2.88l-1.68 2.88h-3.36zM386.0 445.3l1.68 -2.88h3.36l1.68 2.88l-1.68 2.88h-3.36zM136.0 439.5l1.68 -2.88h3.36l1.68 2.88l-1.68 2.88h-3.36zM96.0 416.5l1.68 -2.88h3.36l1.68 2.88l-1.68 2.88h-3.36zM466.0 122.7l1.68 -2.88h3.36l1.68 2.88l-1.68 2.88h-3.36zM121.0 246.5l1.68 -2.88h3.36l1.68 2.88l-1.68 2.88h-3.36zM386.0 312.8l1.68 -2.88h3.36l1.68 2.88l-1.68 2.88h-3.36zM306.0 266.7l1.68 -2.88h3.36l1.68 2.88l-1.68 2.88h-3.36zM151.0 540.3l1.68 -2.88h3.36l1.68 2.88l-1.68 2.88h-3.36zM216.0 191.8l1.68 -2.88h3.36l1.68 2.88l-1.68 2.88h-3.36zM226.0 456.8l1.68 -2.88h3.36l1.68 2.88l-1.68 2.88h-3.36zM351.0 131.3l1.68 -2.88h3.36l1.68 2.88l-1.68 2.88h-3.36zM181.0 171.7l1.68 -2.88h3.36l1.68 2.88l-1.68 2.88h-3.36zM171.0 609.4l1.68 -2.88h3.36l1.68 2.88l-1.68 2.88h-3.36zM461.0 269.6l1.68 -2.88h3.36l1.68 2.88l-1.68 2.88h-3.36zM291.0 309.9l1.68 -2.88h3.36l1.68 2.88l-1.68 2.88h-3.36zM251.0 286.9l1.68 -2.88h3.36l1.68 2.88l-1.68 2.88h-3.36zM306.0 341.6l1.68 -2.88h3.36l1.68 2.88l-1.68 2.88h-3.36zM156.0 209.1l1.68 -2.88h3.36l1.68 2.88l-1.68 2.88h-3.36zM426.0 116.9l1.68 -2.88h3.36l1.68 2.88l-1.68 2.88h-3.36zM206.0 572.0l1.68 -2.88h3.36l1.68 2.88l-1.68 2.88h-3.36zM326.0 272.5l1.68 -2.88h3.36l1.68 2.88l-1.68 2.88h-3.36zM286.0 249.4l1.68 -2.88h3.36l1.68 2.88l-1.68 2.88h-3.36zM246.0 226.4l1.68 -2.88h3.36l1.68 2.88l-1.68 2.88h-3.36zM231.0 402.1l1.68 -2.88h3.36l1.68 2.88l-1.68 2.88h-3.36zM251.0 229.3l1.68 -2.88h3.36l1.68 2.88l-1.68 2.88h-3.36zM181.0 603.7l1.68 -2.88h3.36l1.68 2.88l-1.68 2.88h-3.36zM196.0 174.5l1.68 -2.88h3.36l1.68 2.88l-1.68 2.88h-3.36zM221.0 465.4l1.68 -2.88h3.36l1.68 2.88l-1.68 2.88h-3.36zM321.0 338.7l1.68 -2.88h3.36l1.68 2.88l-1.68 2.88h-3.36zM326.0 347.3l1.68 -2.88h3.36l1.68 2.88l-1.68 2.88h-3.36zM286.0 324.3l1.68 -2.88h3.36l1.68 2.88l-1.68 2.88h-3.36zM246.0 301.3l1.68 -2.88h3.36l1.68 2.88l-1.68 2.88h-3.36zM136.0 191.8l1.68 -2.88h3.36l1.68 2.88l-1.68 2.88h-3.36zM301.0 379.0l1.68 -2.88h3.36l1.68 2.88l-1.68 2.88h-3.36zM326.0 214.9l1.68 -2.88h3.36l1.68 2.88l-1.68 2.88h-3.36zM356.0 307.0l1.68 -2.88h3.36l1.68 2.88l-1.68 2.88h-3.36zM306.0 226.4l1.68 -2.88h3.36l1.68 2.88l-1.68 2.88h-3.36zM266.0 232.1l1.68 -2.88h3.36l1.68 2.88l-1.68 2.88h-3.36zM361.0 304.1l1.68 -2.88h3.36l1.68 2.88l-1.68 2.88h-3.36zM176.0 618.1l1.68 -2.88h3.36l1.68 2.88l-1.68 2.88h-3.36zM346.0 116.9l1.68 -2.88h3.36l1.68 2.88l-1.68 2.88h-3.36zM301.0 321.4l1.68 -2.88h3.36l1.68 2.88l-1.68 2.88h-3.36zM261.0 298.4l1.68 -2.88h3.36l1.68 2.88l-1.68 2.88h-3.36zM361.0 171.7l1.68 -2.88h3.36l1.68 2.88l-1.68 2.88h-3.36zM266.0 307.0l1.68 -2.88h3.36l1.68 2.88l-1.68 2.88h-3.36zM341.0 183.2l1.68 -2.88h3.36l1.68 2.88l-1.68 2.88h-3.36zM131.0 200.5l1.68 -2.88h3.36l1.68 2.88l-1.68 2.88h-3.36zM411.0 298.4l1.68 -2.88h3.36l1.68 2.88l-1.68 2.88h-3.36zM456.0 122.7l1.68 -2.88h3.36l1.68 2.88l-1.68 2.88h-3.36zM376.0 284.0l1.68 -2.88h3.36l1.68 2.88l-1.68 2.88h-3.36zM391.0 338.7l1.68 -2.88h3.36l1.68 2.88l-1.68 2.88h-3.36zM396.0 140.0l1.68 -2.88h3.36l1.68 2.88l-1.68 2.88h-3.36zM76.0 226.4l1.68 -2.88h3.36l1.68 2.88l-1.68 2.88h-3.36zM276.0 433.7l1.68 -2.88h3.36l1.68 2.88l-1.68 2.88h-3.36zM316.0 301.3l1.68 -2.88h3.36l1.68 2.88l-1.68 2.88h-3.36zM301.0 263.8l1.68 -2.88h3.36l1.68 2.88l-1.68 2.88h-3.36zM221.0 217.7l1.68 -2.88h3.36l1.68 2.88l-1.68 2.88h-3.36zM331.0 356.0l1.68 -2.88h3.36l1.68 2.88l-1.68 2.88h-3.36zM426.0 433.7l1.68 -2.88h3.36l1.68 2.88l-1.68 2.88h-3.36zM156.0 600.8l1.68 -2.88h3.36l1.68 2.88l-1.68 2.88h-3.36zM236.0 485.6l1.68 -2.88h3.36l1.68 2.88l-1.68 2.88h-3.36zM311.0 396.3l1.68 -2.88h3.36l1.68 2.88l-1.68 2.88h-3.36zM366.0 318.5l1.68 -2.88h3.36l1.68 2.88l-1.68 2.88h-3.36zM391.0 148.6l1.68 -2.88h3.36l1.68 2.88l-1.68 2.88h-3.36zM296.0 284.0l1.68 -2.88h3.36l1.68 2.88l-1.68 2.88h-3.36zM461.0 263.8l1.68 -2.88h3.36l1.68 2.88l-1.68 2.88h-3.36zM186.0 635.3l1.68 -2.88h3.36l1.68 2.88l-1.68 2.88h-3.36zM401.0 407.8l1.68 -2.88h3.36l1.68 2.88l-1.68 2.88h-3.36zM191.0 638.2l1.68 -2.88h3.36l1.68 2.88l-1.68 2.88h-3.36zM311.0 338.7l1.68 -2.88h3.36l1.68 2.88l-1.68 2.88h-3.36zM161.0 206.2l1.68 -2.88h3.36l1.68 2.88l-1.68 2.88h-3.36zM256.0 284.0l1.68 -2.88h3.36l1.68 2.88l-1.68 2.88h-3.36zM386.0 456.8l1.68 -2.88h3.36l1.68 2.88l-1.68 2.88h-3.36zM121.0 258.1l1.68 -2.88h3.36l1.68 2.88l-1.68 2.88h-3.36zM251.0 223.5l1.68 -2.88h3.36l1.68 2.88l-1.68 2.88h-3.36zM346.0 301.3l1.68 -2.88h3.36l1.68 2.88l-1.68 2.88h-3.36zM291.0 453.9l1.68 -2.88h3.36l1.68 2.88l-1.68 2.88h-3.36zM306.0 485.6l1.68 -2.88h3.36l1.68 2.88l-1.68 2.88h-3.36zM256.0 226.4l1.68 -2.88h3.36l1.68 2.88l-1.68 2.88h-3.36zM286.0 318.5l1.68 -2.88h3.36l1.68 2.88l-1.68 2.88h-3.36zM246.0 295.5l1.68 -2.88h3.36l1.68 2.88l-1.68 2.88h-3.36zM341.0 367.5l1.68 -2.88h3.36l1.68 2.88l-1.68 2.88h-3.36zM231.0 471.2l1.68 -2.88h3.36l1.68 2.88l-1.68 2.88h-3.36zM161.0 223.5l1.68 -2.88h3.36l1.68 2.88l-1.68 2.88h-3.36zM121.0 200.5l1.68 -2.88h3.36l1.68 2.88l-1.68 2.88h-3.36zM341.0 442.4l1.68 -2.88h3.36l1.68 2.88l-1.68 2.88h-3.36zM316.0 485.6l1.68 -2.88h3.36l1.68 2.88l-1.68 2.88h-3.36zM311.0 223.5l1.68 -2.88h3.36l1.68 2.88l-1.68 2.88h-3.36zM321.0 275.3l1.68 -2.88h3.36l1.68 2.88l-1.68 2.88h-3.36zM321.0 482.7l1.68 -2.88h3.36l1.68 2.88l-1.68 2.88h-3.36zM286.0 260.9l1.68 -2.88h3.36l1.68 2.88l-1.68 2.88h-3.36zM326.0 284.0l1.68 -2.88h3.36l1.68 2.88l-1.68 2.88h-3.36zM386.0 134.2l1.68 -2.88h3.36l1.68 2.88l-1.68 2.88h-3.36zM211.0 217.7l1.68 -2.88h3.36l1.68 2.88l-1.68 2.88h-3.36zM196.0 186.1l1.68 -2.88h3.36l1.68 2.88l-1.68 2.88h-3.36zM206.0 451.0l1.68 -2.88h3.36l1.68 2.88l-1.68 2.88h-3.36zM281.0 327.2l1.68 -2.88h3.36l1.68 2.88l-1.68 2.88h-3.36zM341.0 177.4l1.68 -2.88h3.36l1.68 2.88l-1.68 2.88h-3.36zM131.0 194.7l1.68 -2.88h3.36l1.68 2.88l-1.68 2.88h-3.36zM316.0 428.0l1.68 -2.88h3.36l1.68 2.88l-1.68 2.88h-3.36zM131.0 269.6l1.68 -2.88h3.36l1.68 2.88l-1.68 2.88h-3.36zM336.0 491.3l1.68 -2.88h3.36l1.68 2.88l-1.68 2.88h-3.36zM96.0 255.2l1.68 -2.88h3.36l1.68 2.88l-1.68 2.88h-3.36zM261.0 235.0l1.68 -2.88h3.36l1.68 2.88l-1.68 2.88h-3.36zM316.0 502.9l1.68 -2.88h3.36l1.68 2.88l-1.68 2.88h-3.36zM321.0 292.6l1.68 -2.88h3.36l1.68 2.88l-1.68 2.88h-3.36zM341.0 119.8l1.68 -2.88h3.36l1.68 2.88l-1.68 2.88h-3.36zM296.0 335.8l1.68 -2.88h3.36l1.68 2.88l-1.68 2.88h-3.36zM161.0 597.9l1.68 -2.88h3.36l1.68 2.88l-1.68 2.88h-3.36zM246.0 255.2l1.68 -2.88h3.36l1.68 2.88l-1.68 2.88h-3.36zM241.0 275.3l1.68 -2.88h3.36l1.68 2.88l-1.68 2.88h-3.36zM181.0 632.5l1.68 -2.88h3.36l1.68 2.88l-1.68 2.88h-3.36zM411.0 442.4l1.68 -2.88h3.36l1.68 2.88l-1.68 2.88h-3.36zM376.0 220.6l1.68 -2.88h3.36l1.68 2.88l-1.68 2.88h-3.36zM241.0 482.7l1.68 -2.88h3.36l1.68 2.88l-1.68 2.88h-3.36zM301.0 332.9l1.68 -2.88h3.36l1.68 2.88l-1.68 2.88h-3.36zM261.0 309.9l1.68 -2.88h3.36l1.68 2.88l-1.68 2.88h-3.36zM126.0 422.2l1.68 -2.88h3.36l1.68 2.88l-1.68 2.88h-3.36zM336.0 433.7l1.68 -2.88h3.36l1.68 2.88l-1.68 2.88h-3.36zM296.0 410.7l1.68 -2.88h3.36l1.68 2.88l-1.68 2.88h-3.36zM356.0 260.9l1.68 -2.88h3.36l1.68 2.88l-1.68 2.88h-3.36zM471.0 160.1l1.68 -2.88h3.36l1.68 2.88l-1.68 2.88h-3.36zM376.0 295.5l1.68 -2.88h3.36l1.68 2.88l-1.68 2.88h-3.36zM331.0 500.0l1.68 -2.88h3.36l1.68 2.88l-1.68 2.88h-3.36zM336.0 301.3l1.68 -2.88h3.36l1.68 2.88l-1.68 2.88h-3.36zM66.0 468.3l1.68 -2.88h3.36l1.68 2.88l-1.68 2.88h-3.36zM351.0 327.2l1.68 -2.88h3.36l1.68 2.88l-1.68 2.88h-3.36zM201.0 194.7l1.68 -2.88h3.36l1.68 2.88l-1.68 2.88h-3.36zM251.0 482.7l1.68 -2.88h3.36l1.68 2.88l-1.68 2.88h-3.36zM216.0 462.5l1.68 -2.88h3.36l1.68 2.88l-1.68 2.88h-3.36zM276.0 312.8l1.68 -2.88h3.36l1.68 2.88l-1.68 2.88h-3.36zM146.0 220.6l1.68 -2.88h3.36l1.68 2.88l-1.68 2.88h-3.36zM106.0 197.6l1.68 -2.88h3.36l1.68 2.88l-1.68 2.88h-3.36zM471.0 102.5l1.68 -2.88h3.36l1.68 2.88l-1.68 2.88h-3.36zM156.0 479.8l1.68 -2.88h3.36l1.68 2.88l-1.68 2.88h-3.36zM306.0 479.8l1.68 -2.88h3.36l1.68 2.88l-1.68 2.88h-3.36zM311.0 482.7l1.68 -2.88h3.36l1.68 2.88l-1.68 2.88h-3.36zM101.0 500.0l1.68 -2.88h3.36l1.68 2.88l-1.68 2.88h-3.36zM331.0 309.9l1.68 -2.88h3.36l1.68 2.88l-1.68 2.88h-3.36zM156.0 554.7l1.68 -2.88h3.36l1.68 2.88l-1.68 2.88h-3.36zM276.0 255.2l1.68 -2.88h3.36l1.68 2.88l-1.68 2.88h-3.36zM231.0 465.4l1.68 -2.88h3.36l1.68 2.88l-1.68 2.88h-3.36zM356.0 145.7l1.68 -2.88h3.36l1.68 2.88l-1.68 2.88h-3.36zM201.0 212.0l1.68 -2.88h3.36l1.68 2.88l-1.68 2.88h-3.36zM251.0 500.0l1.68 -2.88h3.36l1.68 2.88l-1.68 2.88h-3.36zM211.0 476.9l1.68 -2.88h3.36l1.68 2.88l-1.68 2.88h-3.36zM406.0 428.0l1.68 -2.88h3.36l1.68 2.88l-1.68 2.88h-3.36zM256.0 295.5l1.68 -2.88h3.36l1.68 2.88l-1.68 2.88h-3.36zM486.0 105.4l1.68 -2.88h3.36l1.68 2.88l-1.68 2.88h-3.36zM386.0 468.3l1.68 -2.88h3.36l1.68 2.88l-1.68 2.88h-3.36zM116.0 474.1l1.68 -2.88h3.36l1.68 2.88l-1.68 2.88h-3.36zM381.0 327.2l1.68 -2.88h3.36l1.68 2.88l-1.68 2.88h-3.36zM111.0 494.2l1.68 -2.88h3.36l1.68 2.88l-1.68 2.88h-3.36zM326.0 485.6l1.68 -2.88h3.36l1.68 2.88l-1.68 2.88h-3.36zM251.0 235.0l1.68 -2.88h3.36l1.68 2.88l-1.68 2.88h-3.36zM306.0 289.7l1.68 -2.88h3.36l1.68 2.88l-1.68 2.88h-3.36zM131.0 528.8l1.68 -2.88h3.36l1.68 2.88l-1.68 2.88h-3.36zM366.0 140.0l1.68 -2.88h3.36l1.68 2.88l-1.68 2.88h-3.36zM421.0 430.9l1.68 -2.88h3.36l1.68 2.88l-1.68 2.88h-3.36zM226.0 479.8l1.68 -2.88h3.36l1.68 2.88l-1.68 2.88h-3.36zM286.0 330.1l1.68 -2.88h3.36l1.68 2.88l-1.68 2.88h-3.36zM246.0 307.0l1.68 -2.88h3.36l1.68 2.88l-1.68 2.88h-3.36zM346.0 180.3l1.68 -2.88h3.36l1.68 2.88l-1.68 2.88h-3.36zM401.0 229.3l1.68 -2.88h3.36l1.68 2.88l-1.68 2.88h-3.36zM231.0 482.7l1.68 -2.88h3.36l1.68 2.88l-1.68 2.88h-3.36zM151.0 223.5l1.68 -2.88h3.36l1.68 2.88l-1.68 2.88h-3.36zM306.0 364.6l1.68 -2.88h3.36l1.68 2.88l-1.68 2.88h-3.36zM441.0 125.6l1.68 -2.88h3.36l1.68 2.88l-1.68 2.88h-3.36zM246.0 381.9l1.68 -2.88h3.36l1.68 2.88l-1.68 2.88h-3.36zM146.0 537.4l1.68 -2.88h3.36l1.68 2.88l-1.68 2.88h-3.36zM386.0 145.7l1.68 -2.88h3.36l1.68 2.88l-1.68 2.88h-3.36zM341.0 321.4l1.68 -2.88h3.36l1.68 2.88l-1.68 2.88h-3.36zM411.0 436.6l1.68 -2.88h3.36l1.68 2.88l-1.68 2.88h-3.36zM196.0 197.6l1.68 -2.88h3.36l1.68 2.88l-1.68 2.88h-3.36zM261.0 511.5l1.68 -2.88h3.36l1.68 2.88l-1.68 2.88h-3.36zM221.0 488.5l1.68 -2.88h3.36l1.68 2.88l-1.68 2.88h-3.36zM321.0 361.7l1.68 -2.88h3.36l1.68 2.88l-1.68 2.88h-3.36zM281.0 338.7l1.68 -2.88h3.36l1.68 2.88l-1.68 2.88h-3.36zM131.0 206.2l1.68 -2.88h3.36l1.68 2.88l-1.68 2.88h-3.36zM136.0 214.9l1.68 -2.88h3.36l1.68 2.88l-1.68 2.88h-3.36zM151.0 240.8l1.68 -2.88h3.36l1.68 2.88l-1.68 2.88h-3.36zM326.0 237.9l1.68 -2.88h3.36l1.68 2.88l-1.68 2.88h-3.36zM391.0 344.5l1.68 -2.88h3.36l1.68 2.88l-1.68 2.88h-3.36zM341.0 263.8l1.68 -2.88h3.36l1.68 2.88l-1.68 2.88h-3.36zM316.0 307.0l1.68 -2.88h3.36l1.68 2.88l-1.68 2.88h-3.36zM301.0 269.6l1.68 -2.88h3.36l1.68 2.88l-1.68 2.88h-3.36zM171.0 177.4l1.68 -2.88h3.36l1.68 2.88l-1.68 2.88h-3.36zM341.0 131.3l1.68 -2.88h3.36l1.68 2.88l-1.68 2.88h-3.36zM336.0 370.4l1.68 -2.88h3.36l1.68 2.88l-1.68 2.88h-3.36zM141.0 413.6l1.68 -2.88h3.36l1.68 2.88l-1.68 2.88h-3.36zM476.0 105.4l1.68 -2.88h3.36l1.68 2.88l-1.68 2.88h-3.36zM201.0 471.2l1.68 -2.88h3.36l1.68 2.88l-1.68 2.88h-3.36zM166.0 249.4l1.68 -2.88h3.36l1.68 2.88l-1.68 2.88h-3.36zM261.0 321.4l1.68 -2.88h3.36l1.68 2.88l-1.68 2.88h-3.36zM361.0 194.7l1.68 -2.88h3.36l1.68 2.88l-1.68 2.88h-3.36zM91.0 200.5l1.68 -2.88h3.36l1.68 2.88l-1.68 2.88h-3.36zM281.0 223.5l1.68 -2.88h3.36l1.68 2.88l-1.68 2.88h-3.36zM336.0 312.8l1.68 -2.88h3.36l1.68 2.88l-1.68 2.88h-3.36zM351.0 338.7l1.68 -2.88h3.36l1.68 2.88l-1.68 2.88h-3.36zM316.0 324.3l1.68 -2.88h3.36l1.68 2.88l-1.68 2.88h-3.36zM311.0 344.5l1.68 -2.88h3.36l1.68 2.88l-1.68 2.88h-3.36zM406.0 422.2l1.68 -2.88h3.36l1.68 2.88l-1.68 2.88h-3.36zM166.0 191.8l1.68 -2.88h3.36l1.68 2.88l-1.68 2.88h-3.36zM261.0 263.8l1.68 -2.88h3.36l1.68 2.88l-1.68 2.88h-3.36zM156.0 416.5l1.68 -2.88h3.36l1.68 2.88l-1.68 2.88h-3.36zM321.0 114.1l1.68 -2.88h3.36l1.68 2.88l-1.68 2.88h-3.36zM331.0 379.0l1.68 -2.88h3.36l1.68 2.88l-1.68 2.88h-3.36zM216.0 474.1l1.68 -2.88h3.36l1.68 2.88l-1.68 2.88h-3.36zM276.0 324.3l1.68 -2.88h3.36l1.68 2.88l-1.68 2.88h-3.36zM141.0 223.5l1.68 -2.88h3.36l1.68 2.88l-1.68 2.88h-3.36zM286.0 456.8l1.68 -2.88h3.36l1.68 2.88l-1.68 2.88h-3.36zM271.0 263.8l1.68 -2.88h3.36l1.68 2.88l-1.68 2.88h-3.36zM136.0 531.7l1.68 -2.88h3.36l1.68 2.88l-1.68 2.88h-3.36zM181.0 188.9l1.68 -2.88h3.36l1.68 2.88l-1.68 2.88h-3.36zM291.0 327.2l1.68 -2.88h3.36l1.68 2.88l-1.68 2.88h-3.36zM311.0 361.7l1.68 -2.88h3.36l1.68 2.88l-1.68 2.88h-3.36zM156.0 433.7l1.68 -2.88h3.36l1.68 2.88l-1.68 2.88h-3.36zM256.0 307.0l1.68 -2.88h3.36l1.68 2.88l-1.68 2.88h-3.36zM231.0 551.8l1.68 -2.88h3.36l1.68 2.88l-1.68 2.88h-3.36zM326.0 289.7l1.68 -2.88h3.36l1.68 2.88l-1.68 2.88h-3.36zM281.0 465.4l1.68 -2.88h3.36l1.68 2.88l-1.68 2.88h-3.36zM341.0 315.7l1.68 -2.88h3.36l1.68 2.88l-1.68 2.88h-3.36zM186.0 600.8l1.68 -2.88h3.36l1.68 2.88l-1.68 2.88h-3.36zM131.0 540.3l1.68 -2.88h3.36l1.68 2.88l-1.68 2.88h-3.36zM366.0 151.5l1.68 -2.88h3.36l1.68 2.88l-1.68 2.88h-3.36zM416.0 439.5l1.68 -2.88h3.36l1.68 2.88l-1.68 2.88h-3.36zM371.0 154.4l1.68 -2.88h3.36l1.68 2.88l-1.68 2.88h-3.36zM261.0 505.7l1.68 -2.88h3.36l1.68 2.88l-1.68 2.88h-3.36zM221.0 482.7l1.68 -2.88h3.36l1.68 2.88l-1.68 2.88h-3.36zM186.0 468.3l1.68 -2.88h3.36l1.68 2.88l-1.68 2.88h-3.36zM246.0 318.5l1.68 -2.88h3.36l1.68 2.88l-1.68 2.88h-3.36zM136.0 209.1l1.68 -2.88h3.36l1.68 2.88l-1.68 2.88h-3.36zM116.0 220.6l1.68 -2.88h3.36l1.68 2.88l-1.68 2.88h-3.36zM226.0 358.9l1.68 -2.88h3.36l1.68 2.88l-1.68 2.88h-3.36zM211.0 165.9l1.68 -2.88h3.36l1.68 2.88l-1.68 2.88h-3.36zM316.0 508.6l1.68 -2.88h3.36l1.68 2.88l-1.68 2.88h-3.36zM191.0 206.2l1.68 -2.88h3.36l1.68 2.88l-1.68 2.88h-3.36zM246.0 260.9l1.68 -2.88h3.36l1.68 2.88l-1.68 2.88h-3.36zM241.0 488.5l1.68 -2.88h3.36l1.68 2.88l-1.68 2.88h-3.36zM301.0 338.7l1.68 -2.88h3.36l1.68 2.88l-1.68 2.88h-3.36zM206.0 474.1l1.68 -2.88h3.36l1.68 2.88l-1.68 2.88h-3.36zM221.0 500.0l1.68 -2.88h3.36l1.68 2.88l-1.68 2.88h-3.36zM321.0 373.3l1.68 -2.88h3.36l1.68 2.88l-1.68 2.88h-3.36zM131.0 217.7l1.68 -2.88h3.36l1.68 2.88l-1.68 2.88h-3.36zM461.0 114.1l1.68 -2.88h3.36l1.68 2.88l-1.68 2.88h-3.36zM356.0 266.7l1.68 -2.88h3.36l1.68 2.88l-1.68 2.88h-3.36zM376.0 301.3l1.68 -2.88h3.36l1.68 2.88l-1.68 2.88h-3.36zM336.0 307.0l1.68 -2.88h3.36l1.68 2.88l-1.68 2.88h-3.36zM391.0 356.0l1.68 -2.88h3.36l1.68 2.88l-1.68 2.88h-3.36zM191.0 148.6l1.68 -2.88h3.36l1.68 2.88l-1.68 2.88h-3.36zM121.0 523.0l1.68 -2.88h3.36l1.68 2.88l-1.68 2.88h-3.36zM286.0 226.4l1.68 -2.88h3.36l1.68 2.88l-1.68 2.88h-3.36zM296.0 491.3l1.68 -2.88h3.36l1.68 2.88l-1.68 2.88h-3.36zM166.0 186.1l1.68 -2.88h3.36l1.68 2.88l-1.68 2.88h-3.36zM261.0 258.1l1.68 -2.88h3.36l1.68 2.88l-1.68 2.88h-3.36zM171.0 188.9l1.68 -2.88h3.36l1.68 2.88l-1.68 2.88h-3.36zM331.0 373.3l1.68 -2.88h3.36l1.68 2.88l-1.68 2.88h-3.36zM256.0 491.3l1.68 -2.88h3.36l1.68 2.88l-1.68 2.88h-3.36zM141.0 425.1l1.68 -2.88h3.36l1.68 2.88l-1.68 2.88h-3.36zM316.0 393.4l1.68 -2.88h3.36l1.68 2.88l-1.68 2.88h-3.36zM476.0 116.9l1.68 -2.88h3.36l1.68 2.88l-1.68 2.88h-3.36zM256.0 358.9l1.68 -2.88h3.36l1.68 2.88l-1.68 2.88h-3.36zM111.0 200.5l1.68 -2.88h3.36l1.68 2.88l-1.68 2.88h-3.36zM331.0 448.1l1.68 -2.88h3.36l1.68 2.88l-1.68 2.88h-3.36zM301.0 223.5l1.68 -2.88h3.36l1.68 2.88l-1.68 2.88h-3.36zM311.0 488.5l1.68 -2.88h3.36l1.68 2.88l-1.68 2.88h-3.36zM101.0 505.7l1.68 -2.88h3.36l1.68 2.88l-1.68 2.88h-3.36zM376.0 186.1l1.68 -2.88h3.36l1.68 2.88l-1.68 2.88h-3.36zM336.0 191.8l1.68 -2.88h3.36l1.68 2.88l-1.68 2.88h-3.36zM491.0 114.1l1.68 -2.88h3.36l1.68 2.88l-1.68 2.88h-3.36zM351.0 292.6l1.68 -2.88h3.36l1.68 2.88l-1.68 2.88h-3.36zM131.0 534.5l1.68 -2.88h3.36l1.68 2.88l-1.68 2.88h-3.36zM371.0 148.6l1.68 -2.88h3.36l1.68 2.88l-1.68 2.88h-3.36zM231.0 488.5l1.68 -2.88h3.36l1.68 2.88l-1.68 2.88h-3.36zM346.0 393.4l1.68 -2.88h3.36l1.68 2.88l-1.68 2.88h-3.36zM401.0 442.4l1.68 -2.88h3.36l1.68 2.88l-1.68 2.88h-3.36zM291.0 413.6l1.68 -2.88h3.36l1.68 2.88l-1.68 2.88h-3.36zM366.0 295.5l1.68 -2.88h3.36l1.68 2.88l-1.68 2.88h-3.36zM321.0 500.0l1.68 -2.88h3.36l1.68 2.88l-1.68 2.88h-3.36zM326.0 301.3l1.68 -2.88h3.36l1.68 2.88l-1.68 2.88h-3.36zM386.0 151.5l1.68 -2.88h3.36l1.68 2.88l-1.68 2.88h-3.36zM346.0 128.5l1.68 -2.88h3.36l1.68 2.88l-1.68 2.88h-3.36zM286.0 485.6l1.68 -2.88h3.36l1.68 2.88l-1.68 2.88h-3.36zM251.0 258.1l1.68 -2.88h3.36l1.68 2.88l-1.68 2.88h-3.36zM246.0 462.5l1.68 -2.88h3.36l1.68 2.88l-1.68 2.88h-3.36zM156.0 180.3l1.68 -2.88h3.36l1.68 2.88l-1.68 2.88h-3.36zM416.0 451.0l1.68 -2.88h3.36l1.68 2.88l-1.68 2.88h-3.36zM266.0 318.5l1.68 -2.88h3.36l1.68 2.88l-1.68 2.88h-3.36zM161.0 183.2l1.68 -2.88h3.36l1.68 2.88l-1.68 2.88h-3.36zM281.0 344.5l1.68 -2.88h3.36l1.68 2.88l-1.68 2.88h-3.36zM246.0 330.1l1.68 -2.88h3.36l1.68 2.88l-1.68 2.88h-3.36zM91.0 396.3l1.68 -2.88h3.36l1.68 2.88l-1.68 2.88h-3.36zM356.0 468.3l1.68 -2.88h3.36l1.68 2.88l-1.68 2.88h-3.36zM156.0 255.2l1.68 -2.88h3.36l1.68 2.88l-1.68 2.88h-3.36zM116.0 232.1l1.68 -2.88h3.36l1.68 2.88l-1.68 2.88h-3.36zM131.0 286.9l1.68 -2.88h3.36l1.68 2.88l-1.68 2.88h-3.36zM296.0 485.6l1.68 -2.88h3.36l1.68 2.88l-1.68 2.88h-3.36zM461.0 183.2l1.68 -2.88h3.36l1.68 2.88l-1.68 2.88h-3.36zM291.0 223.5l1.68 -2.88h3.36l1.68 2.88l-1.68 2.88h-3.36zM171.0 183.2l1.68 -2.88h3.36l1.68 2.88l-1.68 2.88h-3.36zM361.0 332.9l1.68 -2.88h3.36l1.68 2.88l-1.68 2.88h-3.36zM321.0 309.9l1.68 -2.88h3.36l1.68 2.88l-1.68 2.88h-3.36zM226.0 445.3l1.68 -2.88h3.36l1.68 2.88l-1.68 2.88h-3.36zM191.0 217.7l1.68 -2.88h3.36l1.68 2.88l-1.68 2.88h-3.36zM286.0 295.5l1.68 -2.88h3.36l1.68 2.88l-1.68 2.88h-3.36zM236.0 497.1l1.68 -2.88h3.36l1.68 2.88l-1.68 2.88h-3.36zM476.0 111.2l1.68 -2.88h3.36l1.68 2.88l-1.68 2.88h-3.36zM201.0 476.9l1.68 -2.88h3.36l1.68 2.88l-1.68 2.88h-3.36zM421.0 263.8l1.68 -2.88h3.36l1.68 2.88l-1.68 2.88h-3.36zM206.0 485.6l1.68 -2.88h3.36l1.68 2.88l-1.68 2.88h-3.36zM301.0 217.7l1.68 -2.88h3.36l1.68 2.88l-1.68 2.88h-3.36zM316.0 462.5l1.68 -2.88h3.36l1.68 2.88l-1.68 2.88h-3.36zM391.0 367.5l1.68 -2.88h3.36l1.68 2.88l-1.68 2.88h-3.36zM81.0 511.5l1.68 -2.88h3.36l1.68 2.88l-1.68 2.88h-3.36zM261.0 269.6l1.68 -2.88h3.36l1.68 2.88l-1.68 2.88h-3.36zM296.0 370.4l1.68 -2.88h3.36l1.68 2.88l-1.68 2.88h-3.36zM181.0 459.7l1.68 -2.88h3.36l1.68 2.88l-1.68 2.88h-3.36zM141.0 436.6l1.68 -2.88h3.36l1.68 2.88l-1.68 2.88h-3.36zM471.0 119.8l1.68 -2.88h3.36l1.68 2.88l-1.68 2.88h-3.36zM331.0 459.7l1.68 -2.88h3.36l1.68 2.88l-1.68 2.88h-3.36zM296.0 237.9l1.68 -2.88h3.36l1.68 2.88l-1.68 2.88h-3.36zM121.0 476.9l1.68 -2.88h3.36l1.68 2.88l-1.68 2.88h-3.36zM351.0 286.9l1.68 -2.88h3.36l1.68 2.88l-1.68 2.88h-3.36zM356.0 295.5l1.68 -2.88h3.36l1.68 2.88l-1.68 2.88h-3.36zM206.0 163.0l1.68 -2.88h3.36l1.68 2.88l-1.68 2.88h-3.36zM336.0 128.5l1.68 -2.88h3.36l1.68 2.88l-1.68 2.88h-3.36zM351.0 154.4l1.68 -2.88h3.36l1.68 2.88l-1.68 2.88h-3.36zM296.0 312.8l1.68 -2.88h3.36l1.68 2.88l-1.68 2.88h-3.36zM351.0 361.7l1.68 -2.88h3.36l1.68 2.88l-1.68 2.88h-3.36zM401.0 436.6l1.68 -2.88h3.36l1.68 2.88l-1.68 2.88h-3.36zM311.0 367.5l1.68 -2.88h3.36l1.68 2.88l-1.68 2.88h-3.36zM271.0 344.5l1.68 -2.88h3.36l1.68 2.88l-1.68 2.88h-3.36zM116.0 416.5l1.68 -2.88h3.36l1.68 2.88l-1.68 2.88h-3.36zM121.0 419.3l1.68 -2.88h3.36l1.68 2.88l-1.68 2.88h-3.36zM141.0 246.5l1.68 -2.88h3.36l1.68 2.88l-1.68 2.88h-3.36zM316.0 214.9l1.68 -2.88h3.36l1.68 2.88l-1.68 2.88h-3.36zM211.0 361.7l1.68 -2.88h3.36l1.68 2.88l-1.68 2.88h-3.36zM371.0 292.6l1.68 -2.88h3.36l1.68 2.88l-1.68 2.88h-3.36zM326.0 502.9l1.68 -2.88h3.36l1.68 2.88l-1.68 2.88h-3.36zM286.0 479.8l1.68 -2.88h3.36l1.68 2.88l-1.68 2.88h-3.36zM346.0 330.1l1.68 -2.88h3.36l1.68 2.88l-1.68 2.88h-3.36zM311.0 309.9l1.68 -2.88h3.36l1.68 2.88l-1.68 2.88h-3.36zM286.0 347.3l1.68 -2.88h3.36l1.68 2.88l-1.68 2.88h-3.36zM341.0 396.3l1.68 -2.88h3.36l1.68 2.88l-1.68 2.88h-3.36zM401.0 453.9l1.68 -2.88h3.36l1.68 2.88l-1.68 2.88h-3.36zM96.0 399.2l1.68 -2.88h3.36l1.68 2.88l-1.68 2.88h-3.36zM331.0 212.0l1.68 -2.88h3.36l1.68 2.88l-1.68 2.88h-3.36zM121.0 229.3l1.68 -2.88h3.36l1.68 2.88l-1.68 2.88h-3.36zM281.0 413.6l1.68 -2.88h3.36l1.68 2.88l-1.68 2.88h-3.36zM286.0 422.2l1.68 -2.88h3.36l1.68 2.88l-1.68 2.88h-3.36zM271.0 229.3l1.68 -2.88h3.36l1.68 2.88l-1.68 2.88h-3.36zM226.0 439.5l1.68 -2.88h3.36l1.68 2.88l-1.68 2.88h-3.36zM326.0 312.8l1.68 -2.88h3.36l1.68 2.88l-1.68 2.88h-3.36zM281.0 488.5l1.68 -2.88h3.36l1.68 2.88l-1.68 2.88h-3.36zM291.0 292.6l1.68 -2.88h3.36l1.68 2.88l-1.68 2.88h-3.36zM251.0 269.6l1.68 -2.88h3.36l1.68 2.88l-1.68 2.88h-3.36zM411.0 453.9l1.68 -2.88h3.36l1.68 2.88l-1.68 2.88h-3.36zM241.0 494.2l1.68 -2.88h3.36l1.68 2.88l-1.68 2.88h-3.36zM366.0 174.5l1.68 -2.88h3.36l1.68 2.88l-1.68 2.88h-3.36zM481.0 108.3l1.68 -2.88h3.36l1.68 2.88l-1.68 2.88h-3.36zM126.0 433.7l1.68 -2.88h3.36l1.68 2.88l-1.68 2.88h-3.36zM221.0 505.7l1.68 -2.88h3.36l1.68 2.88l-1.68 2.88h-3.36zM286.0 364.6l1.68 -2.88h3.36l1.68 2.88l-1.68 2.88h-3.36zM151.0 258.1l1.68 -2.88h3.36l1.68 2.88l-1.68 2.88h-3.36zM421.0 125.6l1.68 -2.88h3.36l1.68 2.88l-1.68 2.88h-3.36zM361.0 269.6l1.68 -2.88h3.36l1.68 2.88l-1.68 2.88h-3.36zM296.0 497.1l1.68 -2.88h3.36l1.68 2.88l-1.68 2.88h-3.36zM361.0 137.1l1.68 -2.88h3.36l1.68 2.88l-1.68 2.88h-3.36zM171.0 194.7l1.68 -2.88h3.36l1.68 2.88l-1.68 2.88h-3.36zM266.0 272.5l1.68 -2.88h3.36l1.68 2.88l-1.68 2.88h-3.36zM321.0 321.4l1.68 -2.88h3.36l1.68 2.88l-1.68 2.88h-3.36zM391.0 436.6l1.68 -2.88h3.36l1.68 2.88l-1.68 2.88h-3.36zM246.0 284.0l1.68 -2.88h3.36l1.68 2.88l-1.68 2.88h-3.36zM181.0 453.9l1.68 -2.88h3.36l1.68 2.88l-1.68 2.88h-3.36zM396.0 445.3l1.68 -2.88h3.36l1.68 2.88l-1.68 2.88h-3.36zM151.0 200.5l1.68 -2.88h3.36l1.68 2.88l-1.68 2.88h-3.36zM126.0 451.0l1.68 -2.88h3.36l1.68 2.88l-1.68 2.88h-3.36zM221.0 183.2l1.68 -2.88h3.36l1.68 2.88l-1.68 2.88h-3.36zM311.0 494.2l1.68 -2.88h3.36l1.68 2.88l-1.68 2.88h-3.36zM296.0 307.0l1.68 -2.88h3.36l1.68 2.88l-1.68 2.88h-3.36zM316.0 341.6l1.68 -2.88h3.36l1.68 2.88l-1.68 2.88h-3.36zM241.0 453.9l1.68 -2.88h3.36l1.68 2.88l-1.68 2.88h-3.36zM406.0 439.5l1.68 -2.88h3.36l1.68 2.88l-1.68 2.88h-3.36zM166.0 209.1l1.68 -2.88h3.36l1.68 2.88l-1.68 2.88h-3.36zM361.0 154.4l1.68 -2.88h3.36l1.68 2.88l-1.68 2.88h-3.36zM276.0 341.6l1.68 -2.88h3.36l1.68 2.88l-1.68 2.88h-3.36zM311.0 436.6l1.68 -2.88h3.36l1.68 2.88l-1.68 2.88h-3.36zM101.0 453.9l1.68 -2.88h3.36l1.68 2.88l-1.68 2.88h-3.36zM391.0 321.4l1.68 -2.88h3.36l1.68 2.88l-1.68 2.88h-3.36zM236.0 393.4l1.68 -2.88h3.36l1.68 2.88l-1.68 2.88h-3.36zM201.0 165.9l1.68 -2.88h3.36l1.68 2.88l-1.68 2.88h-3.36zM291.0 476.9l1.68 -2.88h3.36l1.68 2.88l-1.68 2.88h-3.36zM316.0 284.0l1.68 -2.88h3.36l1.68 2.88l-1.68 2.88h-3.36zM306.0 508.6l1.68 -2.88h3.36l1.68 2.88l-1.68 2.88h-3.36zM151.0 574.9l1.68 -2.88h3.36l1.68 2.88l-1.68 2.88h-3.36zM331.0 338.7l1.68 -2.88h3.36l1.68 2.88l-1.68 2.88h-3.36zM391.0 188.9l1.68 -2.88h3.36l1.68 2.88l-1.68 2.88h-3.36zM216.0 433.7l1.68 -2.88h3.36l1.68 2.88l-1.68 2.88h-3.36zM276.0 284.0l1.68 -2.88h3.36l1.68 2.88l-1.68 2.88h-3.36zM426.0 284.0l1.68 -2.88h3.36l1.68 2.88l-1.68 2.88h-3.36zM116.0 428.0l1.68 -2.88h3.36l1.68 2.88l-1.68 2.88h-3.36zM86.0 209.1l1.68 -2.88h3.36l1.68 2.88l-1.68 2.88h-3.36zM141.0 258.1l1.68 -2.88h3.36l1.68 2.88l-1.68 2.88h-3.36zM291.0 419.3l1.68 -2.88h3.36l1.68 2.88l-1.68 2.88h-3.36zM366.0 301.3l1.68 -2.88h3.36l1.68 2.88l-1.68 2.88h-3.36zM101.0 471.2l1.68 -2.88h3.36l1.68 2.88l-1.68 2.88h-3.36zM391.0 131.3l1.68 -2.88h3.36l1.68 2.88l-1.68 2.88h-3.36zM381.0 356.0l1.68 -2.88h3.36l1.68 2.88l-1.68 2.88h-3.36zM251.0 263.8l1.68 -2.88h3.36l1.68 2.88l-1.68 2.88h-3.36zM416.0 456.8l1.68 -2.88h3.36l1.68 2.88l-1.68 2.88h-3.36zM231.0 304.1l1.68 -2.88h3.36l1.68 2.88l-1.68 2.88h-3.36zM326.0 381.9l1.68 -2.88h3.36l1.68 2.88l-1.68 2.88h-3.36zM351.0 183.2l1.68 -2.88h3.36l1.68 2.88l-1.68 2.88h-3.36zM246.0 335.8l1.68 -2.88h3.36l1.68 2.88l-1.68 2.88h-3.36zM131.0 425.1l1.68 -2.88h3.36l1.68 2.88l-1.68 2.88h-3.36zM251.0 338.7l1.68 -2.88h3.36l1.68 2.88l-1.68 2.88h-3.36zM101.0 206.2l1.68 -2.88h3.36l1.68 2.88l-1.68 2.88h-3.36zM201.0 615.2l1.68 -2.88h3.36l1.68 2.88l-1.68 2.88h-3.36zM301.0 488.5l1.68 -2.88h3.36l1.68 2.88l-1.68 2.88h-3.36zM321.0 315.7l1.68 -2.88h3.36l1.68 2.88l-1.68 2.88h-3.36zM216.0 186.1l1.68 -2.88h3.36l1.68 2.88l-1.68 2.88h-3.36zM191.0 223.5l1.68 -2.88h3.36l1.68 2.88l-1.68 2.88h-3.36zM246.0 278.2l1.68 -2.88h3.36l1.68 2.88l-1.68 2.88h-3.36zM291.0 304.1l1.68 -2.88h3.36l1.68 2.88l-1.68 2.88h-3.36zM301.0 356.0l1.68 -2.88h3.36l1.68 2.88l-1.68 2.88h-3.36zM376.0 451.0l1.68 -2.88h3.36l1.68 2.88l-1.68 2.88h-3.36zM206.0 491.3l1.68 -2.88h3.36l1.68 2.88l-1.68 2.88h-3.36zM166.0 468.3l1.68 -2.88h3.36l1.68 2.88l-1.68 2.88h-3.36zM221.0 517.3l1.68 -2.88h3.36l1.68 2.88l-1.68 2.88h-3.36zM226.0 318.5l1.68 -2.88h3.36l1.68 2.88l-1.68 2.88h-3.36zM131.0 235.0l1.68 -2.88h3.36l1.68 2.88l-1.68 2.88h-3.36zM231.0 321.4l1.68 -2.88h3.36l1.68 2.88l-1.68 2.88h-3.36zM351.0 482.7l1.68 -2.88h3.36l1.68 2.88l-1.68 2.88h-3.36zM346.0 226.4l1.68 -2.88h3.36l1.68 2.88l-1.68 2.88h-3.36zM221.0 384.8l1.68 -2.88h3.36l1.68 2.88l-1.68 2.88h-3.36zM286.0 243.7l1.68 -2.88h3.36l1.68 2.88l-1.68 2.88h-3.36zM381.0 315.7l1.68 -2.88h3.36l1.68 2.88l-1.68 2.88h-3.36zM266.0 284.0l1.68 -2.88h3.36l1.68 2.88l-1.68 2.88h-3.36zM391.0 448.1l1.68 -2.88h3.36l1.68 2.88l-1.68 2.88h-3.36zM241.0 315.7l1.68 -2.88h3.36l1.68 2.88l-1.68 2.88h-3.36zM126.0 255.2l1.68 -2.88h3.36l1.68 2.88l-1.68 2.88h-3.36zM131.0 252.3l1.68 -2.88h3.36l1.68 2.88l-1.68 2.88h-3.36zM316.0 278.2l1.68 -2.88h3.36l1.68 2.88l-1.68 2.88h-3.36zM186.0 180.3l1.68 -2.88h3.36l1.68 2.88l-1.68 2.88h-3.36z"/>
<path fill="rgb(238,203,157)" d="M316.0 353.1l1.68 -2.88h3.36l1.68 2.88l-1.68 2.88h-3.36zM406.0 451.0l1.68 -2.88h3.36l1.68 2.88l-1.68 2.88h-3.36zM336.0 209.1l1.68 -2.88h3.36l1.68 2.88l-1.68 2.88h-3.36zM216.0 502.9l1.68 -2.88h3.36l1.68 2.88l-1.68 2.88h-3.36zM346.0 468.3l1.68 -2.88h3.36l1.68 2.88l-1.68 2.88h-3.36zM106.0 237.9l1.68 -2.88h3.36l1.68 2.88l-1.68 2.88h-3.36zM391.0 125.6l1.68 -2.88h3.36l1.68 2.88l-1.68 2.88h-3.36zM376.0 145.7l1.68 -2.88h3.36l1.68 2.88l-1.68 2.88h-3.36zM276.0 295.5l1.68 -2.88h3.36l1.68 2.88l-1.68 2.88h-3.36zM146.0 203.3l1.68 -2.88h3.36l1.68 2.88l-1.68 2.88h-3.36zM286.0 428.0l1.68 -2.88h3.36l1.68 2.88l-1.68 2.88h-3.36zM306.0 462.5l1.68 -2.88h3.36l1.68 2.88l-1.68 2.88h-3.36zM196.0 220.6l1.68 -2.88h3.36l1.68 2.88l-1.68 2.88h-3.36zM371.0 183.2l1.68 -2.88h3.36l1.68 2.88l-1.68 2.88h-3.36zM321.0 384.8l1.68 -2.88h3.36l1.68 2.88l-1.68 2.88h-3.36zM461.0 125.6l1.68 -2.88h3.36l1.68 2.88l-1.68 2.88h-3.36zM286.0 237.9l1.68 -2.88h3.36l1.68 2.88l-1.68 2.88h-3.36zM401.0 344.5l1.68 -2.88h3.36l1.68 2.88l-1.68 2.88h-3.36zM376.0 387.7l1.68 -2.88h3.36l1.68 2.88l-1.68 2.88h-3.36zM266.0 278.2l1.68 -2.88h3.36l1.68 2.88l-1.68 2.88h-3.36zM221.0 453.9l1.68 -2.88h3.36l1.68 2.88l-1.68 2.88h-3.36zM246.0 289.7l1.68 -2.88h3.36l1.68 2.88l-1.68 2.88h-3.36zM151.0 206.2l1.68 -2.88h3.36l1.68 2.88l-1.68 2.88h-3.36zM146.0 445.3l1.68 -2.88h3.36l1.68 2.88l-1.68 2.88h-3.36zM201.0 494.2l1.68 -2.88h3.36l1.68 2.88l-1.68 2.88h-3.36zM231.0 332.9l1.68 -2.88h3.36l1.68 2.88l-1.68 2.88h-3.36zM376.0 330.1l1.68 -2.88h3.36l1.68 2.88l-1.68 2.88h-3.36zM361.0 292.6l1.68 -2.88h3.36l1.68 2.88l-1.68 2.88h-3.36zM326.0 278.2l1.68 -2.88h3.36l1.68 2.88l-1.68 2.88h-3.36zM181.0 476.9l1.68 -2.88h3.36l1.68 2.88l-1.68 2.88h-3.36zM376.0 272.5l1.68 -2.88h3.36l1.68 2.88l-1.68 2.88h-3.36zM321.0 212.0l1.68 -2.88h3.36l1.68 2.88l-1.68 2.88h-3.36zM336.0 485.6l1.68 -2.88h3.36l1.68 2.88l-1.68 2.88h-3.36zM201.0 379.0l1.68 -2.88h3.36l1.68 2.88l-1.68 2.88h-3.36zM296.0 330.1l1.68 -2.88h3.36l1.68 2.88l-1.68 2.88h-3.36zM241.0 269.6l1.68 -2.88h3.36l1.68 2.88l-1.68 2.88h-3.36zM121.0 436.6l1.68 -2.88h3.36l1.68 2.88l-1.68 2.88h-3.36zM391.0 137.1l1.68 -2.88h3.36l1.68 2.88l-1.68 2.88h-3.36zM526.0 111.2l1.68 -2.88h3.36l1.68 2.88l-1.68 2.88h-3.36zM311.0 327.2l1.68 -2.88h3.36l1.68 2.88l-1.68 2.88h-3.36zM161.0 194.7l1.68 -2.88h3.36l1.68 2.88l-1.68 2.88h-3.36zM256.0 272.5l1.68 -2.88h3.36l1.68 2.88l-1.68 2.88h-3.36zM191.0 494.2l1.68 -2.88h3.36l1.68 2.88l-1.68 2.88h-3.36zM116.0 451.0l1.68 -2.88h3.36l1.68 2.88l-1.68 2.88h-3.36zM441.0 235.0l1.68 -2.88h3.36l1.68 2.88l-1.68 2.88h-3.36zM76.0 474.1l1.68 -2.88h3.36l1.68 2.88l-1.68 2.88h-3.36zM366.0 134.2l1.68 -2.88h3.36l1.68 2.88l-1.68 2.88h-3.36zM226.0 474.1l1.68 -2.88h3.36l1.68 2.88l-1.68 2.88h-3.36zM396.0 462.5l1.68 -2.88h3.36l1.68 2.88l-1.68 2.88h-3.36zM226.0 341.6l1.68 -2.88h3.36l1.68 2.88l-1.68 2.88h-3.36zM236.0 468.3l1.68 -2.88h3.36l1.68 2.88l-1.68 2.88h-3.36zM316.0 358.9l1.68 -2.88h3.36l1.68 2.88l-1.68 2.88h-3.36zM376.0 209.1l1.68 -2.88h3.36l1.68 2.88l-1.68 2.88h-3.36zM516.0 105.4l1.68 -2.88h3.36l1.68 2.88l-1.68 2.88h-3.36zM281.0 332.9l1.68 -2.88h3.36l1.68 2.88l-1.68 2.88h-3.36zM181.0 430.9l1.68 -2.88h3.36l1.68 2.88l-1.68 2.88h-3.36zM241.0 281.1l1.68 -2.88h3.36l1.68 2.88l-1.68 2.88h-3.36zM391.0 281.1l1.68 -2.88h3.36l1.68 2.88l-1.68 2.88h-3.36zM141.0 275.3l1.68 -2.88h3.36l1.68 2.88l-1.68 2.88h-3.36zM196.0 358.9l1.68 -2.88h3.36l1.68 2.88l-1.68 2.88h-3.36zM406.0 416.5l1.68 -2.88h3.36l1.68 2.88l-1.68 2.88h-3.36zM321.0 465.4l1.68 -2.88h3.36l1.68 2.88l-1.68 2.88h-3.36zM326.0 209.1l1.68 -2.88h3.36l1.68 2.88l-1.68 2.88h-3.36zM36.0 462.5l1.68 -2.88h3.36l1.68 2.88l-1.68 2.88h-3.36zM366.0 145.7l1.68 -2.88h3.36l1.68 2.88l-1.68 2.88h-3.36zM416.0 433.7l1.68 -2.88h3.36l1.68 2.88l-1.68 2.88h-3.36zM336.0 416.5l1.68 -2.88h3.36l1.68 2.88l-1.68 2.88h-3.36zM136.0 203.3l1.68 -2.88h3.36l1.68 2.88l-1.68 2.88h-3.36zM226.0 353.1l1.68 -2.88h3.36l1.68 2.88l-1.68 2.88h-3.36zM361.0 315.7l1.68 -2.88h3.36l1.68 2.88l-1.68 2.88h-3.36zM336.0 358.9l1.68 -2.88h3.36l1.68 2.88l-1.68 2.88h-3.36zM191.0 200.5l1.68 -2.88h3.36l1.68 2.88l-1.68 2.88h-3.36zM126.0 214.9l1.68 -2.88h3.36l1.68 2.88l-1.68 2.88h-3.36zM341.0 194.7l1.68 -2.88h3.36l1.68 2.88l-1.68 2.88h-3.36zM131.0 212.0l1.68 -2.88h3.36l1.68 2.88l-1.68 2.88h-3.36zM86.0 428.0l1.68 -2.88h3.36l1.68 2.88l-1.68 2.88h-3.36zM106.0 462.5l1.68 -2.88h3.36l1.68 2.88l-1.68 2.88h-3.36zM371.0 315.7l1.68 -2.88h3.36l1.68 2.88l-1.68 2.88h-3.36zM316.0 312.8l1.68 -2.88h3.36l1.68 2.88l-1.68 2.88h-3.36zM181.0 235.0l1.68 -2.88h3.36l1.68 2.88l-1.68 2.88h-3.36zM331.0 235.0l1.68 -2.88h3.36l1.68 2.88l-1.68 2.88h-3.36zM116.0 456.8l1.68 -2.88h3.36l1.68 2.88l-1.68 2.88h-3.36zM236.0 364.6l1.68 -2.88h3.36l1.68 2.88l-1.68 2.88h-3.36zM306.0 347.3l1.68 -2.88h3.36l1.68 2.88l-1.68 2.88h-3.36zM401.0 419.3l1.68 -2.88h3.36l1.68 2.88l-1.68 2.88h-3.36zM271.0 327.2l1.68 -2.88h3.36l1.68 2.88l-1.68 2.88h-3.36zM336.0 186.1l1.68 -2.88h3.36l1.68 2.88l-1.68 2.88h-3.36zM346.0 445.3l1.68 -2.88h3.36l1.68 2.88l-1.68 2.88h-3.36zM426.0 122.7l1.68 -2.88h3.36l1.68 2.88l-1.68 2.88h-3.36zM166.0 554.7l1.68 -2.88h3.36l1.68 2.88l-1.68 2.88h-3.36zM121.0 269.6l1.68 -2.88h3.36l1.68 2.88l-1.68 2.88h-3.36zM286.0 462.5l1.68 -2.88h3.36l1.68 2.88l-1.68 2.88h-3.36zM401.0 361.7l1.68 -2.88h3.36l1.68 2.88l-1.68 2.88h-3.36zM416.0 428.0l1.68 -2.88h3.36l1.68 2.88l-1.68 2.88h-3.36zM131.0 471.2l1.68 -2.88h3.36l1.68 2.88l-1.68 2.88h-3.36zM381.0 137.1l1.68 -2.88h3.36l1.68 2.88l-1.68 2.88h-3.36zM166.0 572.0l1.68 -2.88h3.36l1.68 2.88l-1.68 2.88h-3.36zM366.0 157.3l1.68 -2.88h3.36l1.68 2.88l-1.68 2.88h-3.36zM206.0 462.5l1.68 -2.88h3.36l1.68 2.88l-1.68 2.88h-3.36zM276.0 439.5l1.68 -2.88h3.36l1.68 2.88l-1.68 2.88h-3.36zM371.0 384.8l1.68 -2.88h3.36l1.68 2.88l-1.68 2.88h-3.36zM266.0 255.2l1.68 -2.88h3.36l1.68 2.88l-1.68 2.88h-3.36zM161.0 609.4l1.68 -2.88h3.36l1.68 2.88l-1.68 2.88h-3.36zM301.0 344.5l1.68 -2.88h3.36l1.68 2.88l-1.68 2.88h-3.36zM141.0 488.5l1.68 -2.88h3.36l1.68 2.88l-1.68 2.88h-3.36zM311.0 476.9l1.68 -2.88h3.36l1.68 2.88l-1.68 2.88h-3.36zM186.0 151.5l1.68 -2.88h3.36l1.68 2.88l-1.68 2.88h-3.36zM176.0 583.5l1.68 -2.88h3.36l1.68 2.88l-1.68 2.88h-3.36zM256.0 289.7l1.68 -2.88h3.36l1.68 2.88l-1.68 2.88h-3.36zM356.0 214.9l1.68 -2.88h3.36l1.68 2.88l-1.68 2.88h-3.36zM366.0 474.1l1.68 -2.88h3.36l1.68 2.88l-1.68 2.88h-3.36zM296.0 232.1l1.68 -2.88h3.36l1.68 2.88l-1.68 2.88h-3.36zM191.0 586.4l1.68 -2.88h3.36l1.68 2.88l-1.68 2.88h-3.36zM401.0 430.9l1.68 -2.88h3.36l1.68 2.88l-1.68 2.88h-3.36zM251.0 511.5l1.68 -2.88h3.36l1.68 2.88l-1.68 2.88h-3.36zM121.0 206.2l1.68 -2.88h3.36l1.68 2.88l-1.68 2.88h-3.36zM151.0 500.0l1.68 -2.88h3.36l1.68 2.88l-1.68 2.88h-3.36zM376.0 416.5l1.68 -2.88h3.36l1.68 2.88l-1.68 2.88h-3.36zM346.0 191.8l1.68 -2.88h3.36l1.68 2.88l-1.68 2.88h-3.36zM156.0 243.7l1.68 -2.88h3.36l1.68 2.88l-1.68 2.88h-3.36zM301.0 471.2l1.68 -2.88h3.36l1.68 2.88l-1.68 2.88h-3.36zM221.0 425.1l1.68 -2.88h3.36l1.68 2.88l-1.68 2.88h-3.36zM281.0 482.7l1.68 -2.88h3.36l1.68 2.88l-1.68 2.88h-3.36zM346.0 134.2l1.68 -2.88h3.36l1.68 2.88l-1.68 2.88h-3.36zM376.0 168.8l1.68 -2.88h3.36l1.68 2.88l-1.68 2.88h-3.36zM361.0 131.3l1.68 -2.88h3.36l1.68 2.88l-1.68 2.88h-3.36zM356.0 209.1l1.68 -2.88h3.36l1.68 2.88l-1.68 2.88h-3.36zM296.0 301.3l1.68 -2.88h3.36l1.68 2.88l-1.68 2.88h-3.36zM356.0 151.5l1.68 -2.88h3.36l1.68 2.88l-1.68 2.88h-3.36zM251.0 505.7l1.68 -2.88h3.36l1.68 2.88l-1.68 2.88h-3.36zM311.0 356.0l1.68 -2.88h3.36l1.68 2.88l-1.68 2.88h-3.36zM406.0 433.7l1.68 -2.88h3.36l1.68 2.88l-1.68 2.88h-3.36zM196.0 451.0l1.68 -2.88h3.36l1.68 2.88l-1.68 2.88h-3.36zM106.0 220.6l1.68 -2.88h3.36l1.68 2.88l-1.68 2.88h-3.36zM96.0 445.3l1.68 -2.88h3.36l1.68 2.88l-1.68 2.88h-3.36zM331.0 258.1l1.68 -2.88h3.36l1.68 2.88l-1.68 2.88h-3.36zM446.0 163.0l1.68 -2.88h3.36l1.68 2.88l-1.68 2.88h-3.36zM326.0 491.3l1.68 -2.88h3.36l1.68 2.88l-1.68 2.88h-3.36zM291.0 338.7l1.68 -2.88h3.36l1.68 2.88l-1.68 2.88h-3.36zM251.0 315.7l1.68 -2.88h3.36l1.68 2.88l-1.68 2.88h-3.36zM306.0 370.4l1.68 -2.88h3.36l1.68 2.88l-1.68 2.88h-3.36zM366.0 220.6l1.68 -2.88h3.36l1.68 2.88l-1.68 2.88h-3.36zM211.0 500.0l1.68 -2.88h3.36l1.68 2.88l-1.68 2.88h-3.36zM346.0 335.8l1.68 -2.88h3.36l1.68 2.88l-1.68 2.88h-3.36zM461.0 108.3l1.68 -2.88h3.36l1.68 2.88l-1.68 2.88h-3.36zM381.0 425.1l1.68 -2.88h3.36l1.68 2.88l-1.68 2.88h-3.36zM346.0 203.3l1.68 -2.88h3.36l1.68 2.88l-1.68 2.88h-3.36zM401.0 252.3l1.68 -2.88h3.36l1.68 2.88l-1.68 2.88h-3.36zM141.0 551.8l1.68 -2.88h3.36l1.68 2.88l-1.68 2.88h-3.36zM221.0 436.6l1.68 -2.88h3.36l1.68 2.88l-1.68 2.88h-3.36zM391.0 425.1l1.68 -2.88h3.36l1.68 2.88l-1.68 2.88h-3.36zM356.0 410.7l1.68 -2.88h3.36l1.68 2.88l-1.68 2.88h-3.36zM86.0 445.3l1.68 -2.88h3.36l1.68 2.88l-1.68 2.88h-3.36zM476.0 186.1l1.68 -2.88h3.36l1.68 2.88l-1.68 2.88h-3.36zM356.0 353.1l1.68 -2.88h3.36l1.68 2.88l-1.68 2.88h-3.36zM316.0 330.1l1.68 -2.88h3.36l1.68 2.88l-1.68 2.88h-3.36zM491.0 108.3l1.68 -2.88h3.36l1.68 2.88l-1.68 2.88h-3.36zM141.0 511.5l1.68 -2.88h3.36l1.68 2.88l-1.68 2.88h-3.36zM376.0 122.7l1.68 -2.88h3.36l1.68 2.88l-1.68 2.88h-3.36zM186.0 174.5l1.68 -2.88h3.36l1.68 2.88l-1.68 2.88h-3.36zM336.0 203.3l1.68 -2.88h3.36l1.68 2.88l-1.68 2.88h-3.36zM116.0 491.3l1.68 -2.88h3.36l1.68 2.88l-1.68 2.88h-3.36zM201.0 171.7l1.68 -2.88h3.36l1.68 2.88l-1.68 2.88h-3.36zM291.0 482.7l1.68 -2.88h3.36l1.68 2.88l-1.68 2.88h-3.36zM256.0 255.2l1.68 -2.88h3.36l1.68 2.88l-1.68 2.88h-3.36zM466.0 105.4l1.68 -2.88h3.36l1.68 2.88l-1.68 2.88h-3.36zM361.0 459.7l1.68 -2.88h3.36l1.68 2.88l-1.68 2.88h-3.36zM81.0 206.2l1.68 -2.88h3.36l1.68 2.88l-1.68 2.88h-3.36zM186.0 548.9l1.68 -2.88h3.36l1.68 2.88l-1.68 2.88h-3.36zM251.0 402.1l1.68 -2.88h3.36l1.68 2.88l-1.68 2.88h-3.36zM311.0 252.3l1.68 -2.88h3.36l1.68 2.88l-1.68 2.88h-3.36zM246.0 266.7l1.68 -2.88h3.36l1.68 2.88l-1.68 2.88h-3.36zM111.0 528.8l1.68 -2.88h3.36l1.68 2.88l-1.68 2.88h-3.36zM386.0 163.0l1.68 -2.88h3.36l1.68 2.88l-1.68 2.88h-3.36zM341.0 206.2l1.68 -2.88h3.36l1.68 2.88l-1.68 2.88h-3.36zM416.0 330.1l1.68 -2.88h3.36l1.68 2.88l-1.68 2.88h-3.36zM111.0 471.2l1.68 -2.88h3.36l1.68 2.88l-1.68 2.88h-3.36zM341.0 281.1l1.68 -2.88h3.36l1.68 2.88l-1.68 2.88h-3.36zM301.0 286.9l1.68 -2.88h3.36l1.68 2.88l-1.68 2.88h-3.36zM196.0 157.3l1.68 -2.88h3.36l1.68 2.88l-1.68 2.88h-3.36zM361.0 212.0l1.68 -2.88h3.36l1.68 2.88l-1.68 2.88h-3.36zM371.0 476.9l1.68 -2.88h3.36l1.68 2.88l-1.68 2.88h-3.36zM91.0 217.7l1.68 -2.88h3.36l1.68 2.88l-1.68 2.88h-3.36zM356.0 157.3l1.68 -2.88h3.36l1.68 2.88l-1.68 2.88h-3.36zM336.0 197.6l1.68 -2.88h3.36l1.68 2.88l-1.68 2.88h-3.36zM276.0 416.5l1.68 -2.88h3.36l1.68 2.88l-1.68 2.88h-3.36zM86.0 474.1l1.68 -2.88h3.36l1.68 2.88l-1.68 2.88h-3.36zM271.0 488.5l1.68 -2.88h3.36l1.68 2.88l-1.68 2.88h-3.36zM296.0 324.3l1.68 -2.88h3.36l1.68 2.88l-1.68 2.88h-3.36zM306.0 318.5l1.68 -2.88h3.36l1.68 2.88l-1.68 2.88h-3.36zM161.0 188.9l1.68 -2.88h3.36l1.68 2.88l-1.68 2.88h-3.36zM291.0 361.7l1.68 -2.88h3.36l1.68 2.88l-1.68 2.88h-3.36zM156.0 260.9l1.68 -2.88h3.36l1.68 2.88l-1.68 2.88h-3.36zM81.0 217.7l1.68 -2.88h3.36l1.68 2.88l-1.68 2.88h-3.36zM111.0 465.4l1.68 -2.88h3.36l1.68 2.88l-1.68 2.88h-3.36zM186.0 428.0l1.68 -2.88h3.36l1.68 2.88l-1.68 2.88h-3.36zM286.0 301.3l1.68 -2.88h3.36l1.68 2.88l-1.68 2.88h-3.36zM306.0 335.8l1.68 -2.88h3.36l1.68 2.88l-1.68 2.88h-3.36zM156.0 203.3l1.68 -2.88h3.36l1.68 2.88l-1.68 2.88h-3.36zM321.0 390.5l1.68 -2.88h3.36l1.68 2.88l-1.68 2.88h-3.36zM336.0 456.8l1.68 -2.88h3.36l1.68 2.88l-1.68 2.88h-3.36zM376.0 318.5l1.68 -2.88h3.36l1.68 2.88l-1.68 2.88h-3.36zM241.0 448.1l1.68 -2.88h3.36l1.68 2.88l-1.68 2.88h-3.36zM221.0 459.7l1.68 -2.88h3.36l1.68 2.88l-1.68 2.88h-3.36zM381.0 183.2l1.68 -2.88h3.36l1.68 2.88l-1.68 2.88h-3.36zM396.0 324.3l1.68 -2.88h3.36l1.68 2.88l-1.68 2.88h-3.36zM86.0 468.3l1.68 -2.88h3.36l1.68 2.88l-1.68 2.88h-3.36z"/>
<path fill="rgb(238,209,169)" d="M391.0 390.5l1.68 -2.88h3.36l1.68 2.88l-1.68 2.88h-3.36zM276.0 485.6l1.68 -2.88h3.36l1.68 2.88l-1.68 2.88h-3.36zM146.0 186.1l1.68 -2.88h3.36l1.68 2.88l-1.68 2.88h-3.36zM316.0 220.6l1.68 -2.88h3.36l1.68 2.88l-1.68 2.88h-3.36zM456.0 116.9l1.68 -2.88h3.36l1.68 2.88l-1.68 2.88h-3.36zM446.0 180.3l1.68 -2.88h3.36l1.68 2.88l-1.68 2.88h-3.36zM336.0 284.0l1.68 -2.88h3.36l1.68 2.88l-1.68 2.88h-3.36zM191.0 615.2l1.68 -2.88h3.36l1.68 2.88l-1.68 2.88h-3.36zM136.0 428.0l1.68 -2.88h3.36l1.68 2.88l-1.68 2.88h-3.36zM211.0 517.3l1.68 -2.88h3.36l1.68 2.88l-1.68 2.88h-3.36zM346.0 278.2l1.68 -2.88h3.36l1.68 2.88l-1.68 2.88h-3.36zM96.0 479.8l1.68 -2.88h3.36l1.68 2.88l-1.68 2.88h-3.36zM216.0 180.3l1.68 -2.88h3.36l1.68 2.88l-1.68 2.88h-3.36zM211.0 459.7l1.68 -2.88h3.36l1.68 2.88l-1.68 2.88h-3.36zM136.0 445.3l1.68 -2.88h3.36l1.68 2.88l-1.68 2.88h-3.36zM281.0 304.1l1.68 -2.88h3.36l1.68 2.88l-1.68 2.88h-3.36zM191.0 177.4l1.68 -2.88h3.36l1.68 2.88l-1.68 2.88h-3.36zM436.0 122.7l1.68 -2.88h3.36l1.68 2.88l-1.68 2.88h-3.36zM391.0 327.2l1.68 -2.88h3.36l1.68 2.88l-1.68 2.88h-3.36zM241.0 402.1l1.68 -2.88h3.36l1.68 2.88l-1.68 2.88h-3.36zM186.0 191.8l1.68 -2.88h3.36l1.68 2.88l-1.68 2.88h-3.36zM176.0 416.5l1.68 -2.88h3.36l1.68 2.88l-1.68 2.88h-3.36zM156.0 456.8l1.68 -2.88h3.36l1.68 2.88l-1.68 2.88h-3.36zM356.0 255.2l1.68 -2.88h3.36l1.68 2.88l-1.68 2.88h-3.36zM356.0 122.7l1.68 -2.88h3.36l1.68 2.88l-1.68 2.88h-3.36zM291.0 500.0l1.68 -2.88h3.36l1.68 2.88l-1.68 2.88h-3.36zM346.0 289.7l1.68 -2.88h3.36l1.68 2.88l-1.68 2.88h-3.36zM226.0 531.7l1.68 -2.88h3.36l1.68 2.88l-1.68 2.88h-3.36zM356.0 439.5l1.68 -2.88h3.36l1.68 2.88l-1.68 2.88h-3.36zM321.0 413.6l1.68 -2.88h3.36l1.68 2.88l-1.68 2.88h-3.36zM356.0 116.9l1.68 -2.88h3.36l1.68 2.88l-1.68 2.88h-3.36zM431.0 229.3l1.68 -2.88h3.36l1.68 2.88l-1.68 2.88h-3.36zM336.0 364.6l1.68 -2.88h3.36l1.68 2.88l-1.68 2.88h-3.36zM311.0 281.1l1.68 -2.88h3.36l1.68 2.88l-1.68 2.88h-3.36zM226.0 410.7l1.68 -2.88h3.36l1.68 2.88l-1.68 2.88h-3.36zM301.0 315.7l1.68 -2.88h3.36l1.68 2.88l-1.68 2.88h-3.36zM286.0 335.8l1.68 -2.88h3.36l1.68 2.88l-1.68 2.88h-3.36zM181.0 557.6l1.68 -2.88h3.36l1.68 2.88l-1.68 2.88h-3.36zM431.0 298.4l1.68 -2.88h3.36l1.68 2.88l-1.68 2.88h-3.36zM211.0 592.1l1.68 -2.88h3.36l1.68 2.88l-1.68 2.88h-3.36zM321.0 235.0l1.68 -2.88h3.36l1.68 2.88l-1.68 2.88h-3.36zM121.0 517.3l1.68 -2.88h3.36l1.68 2.88l-1.68 2.88h-3.36zM196.0 428.0l1.68 -2.88h3.36l1.68 2.88l-1.68 2.88h-3.36zM231.0 523.0l1.68 -2.88h3.36l1.68 2.88l-1.68 2.88h-3.36zM356.0 203.3l1.68 -2.88h3.36l1.68 2.88l-1.68 2.88h-3.36zM311.0 407.8l1.68 -2.88h3.36l1.68 2.88l-1.68 2.88h-3.36zM296.0 220.6l1.68 -2.88h3.36l1.68 2.88l-1.68 2.88h-3.36zM171.0 615.2l1.68 -2.88h3.36l1.68 2.88l-1.68 2.88h-3.36zM266.0 502.9l1.68 -2.88h3.36l1.68 2.88l-1.68 2.88h-3.36zM251.0 309.9l1.68 -2.88h3.36l1.68 2.88l-1.68 2.88h-3.36zM121.0 212.0l1.68 -2.88h3.36l1.68 2.88l-1.68 2.88h-3.36zM361.0 177.4l1.68 -2.88h3.36l1.68 2.88l-1.68 2.88h-3.36zM166.0 439.5l1.68 -2.88h3.36l1.68 2.88l-1.68 2.88h-3.36zM361.0 252.3l1.68 -2.88h3.36l1.68 2.88l-1.68 2.88h-3.36zM326.0 105.4l1.68 -2.88h3.36l1.68 2.88l-1.68 2.88h-3.36zM371.0 459.7l1.68 -2.88h3.36l1.68 2.88l-1.68 2.88h-3.36zM211.0 488.5l1.68 -2.88h3.36l1.68 2.88l-1.68 2.88h-3.36zM371.0 212.0l1.68 -2.88h3.36l1.68 2.88l-1.68 2.88h-3.36zM226.0 416.5l1.68 -2.88h3.36l1.68 2.88l-1.68 2.88h-3.36zM291.0 269.6l1.68 -2.88h3.36l1.68 2.88l-1.68 2.88h-3.36zM246.0 451.0l1.68 -2.88h3.36l1.68 2.88l-1.68 2.88h-3.36zM346.0 324.3l1.68 -2.88h3.36l1.68 2.88l-1.68 2.88h-3.36zM321.0 356.0l1.68 -2.88h3.36l1.68 2.88l-1.68 2.88h-3.36zM421.0 442.4l1.68 -2.88h3.36l1.68 2.88l-1.68 2.88h-3.36zM356.0 456.8l1.68 -2.88h3.36l1.68 2.88l-1.68 2.88h-3.36zM71.0 425.1l1.68 -2.88h3.36l1.68 2.88l-1.68 2.88h-3.36zM96.0 260.9l1.68 -2.88h3.36l1.68 2.88l-1.68 2.88h-3.36zM381.0 223.5l1.68 -2.88h3.36l1.68 2.88l-1.68 2.88h-3.36zM396.0 289.7l1.68 -2.88h3.36l1.68 2.88l-1.68 2.88h-3.36zM441.0 154.4l1.68 -2.88h3.36l1.68 2.88l-1.68 2.88h-3.36zM351.0 332.9l1.68 -2.88h3.36l1.68 2.88l-1.68 2.88h-3.36zM266.0 266.7l1.68 -2.88h3.36l1.68 2.88l-1.68 2.88h-3.36zM216.0 485.6l1.68 -2.88h3.36l1.68 2.88l-1.68 2.88h-3.36zM356.0 226.4l1.68 -2.88h3.36l1.68 2.88l-1.68 2.88h-3.36zM291.0 471.2l1.68 -2.88h3.36l1.68 2.88l-1.68 2.88h-3.36zM256.0 318.5l1.68 -2.88h3.36l1.68 2.88l-1.68 2.88h-3.36zM86.0 203.3l1.68 -2.88h3.36l1.68 2.88l-1.68 2.88h-3.36zM266.0 451.0l1.68 -2.88h3.36l1.68 2.88l-1.68 2.88h-3.36zM381.0 217.7l1.68 -2.88h3.36l1.68 2.88l-1.68 2.88h-3.36zM201.0 534.5l1.68 -2.88h3.36l1.68 2.88l-1.68 2.88h-3.36zM226.0 370.4l1.68 -2.88h3.36l1.68 2.88l-1.68 2.88h-3.36zM301.0 482.7l1.68 -2.88h3.36l1.68 2.88l-1.68 2.88h-3.36zM281.0 286.9l1.68 -2.88h3.36l1.68 2.88l-1.68 2.88h-3.36zM341.0 212.0l1.68 -2.88h3.36l1.68 2.88l-1.68 2.88h-3.36zM416.0 128.5l1.68 -2.88h3.36l1.68 2.88l-1.68 2.88h-3.36zM276.0 330.1l1.68 -2.88h3.36l1.68 2.88l-1.68 2.88h-3.36zM81.0 453.9l1.68 -2.88h3.36l1.68 2.88l-1.68 2.88h-3.36zM221.0 188.9l1.68 -2.88h3.36l1.68 2.88l-1.68 2.88h-3.36zM396.0 186.1l1.68 -2.88h3.36l1.68 2.88l-1.68 2.88h-3.36zM306.0 307.0l1.68 -2.88h3.36l1.68 2.88l-1.68 2.88h-3.36zM191.0 476.9l1.68 -2.88h3.36l1.68 2.88l-1.68 2.88h-3.36zM161.0 252.3l1.68 -2.88h3.36l1.68 2.88l-1.68 2.88h-3.36zM246.0 399.2l1.68 -2.88h3.36l1.68 2.88l-1.68 2.88h-3.36zM541.0 62.2l1.68 -2.88h3.36l1.68 2.88l-1.68 2.88h-3.36zM341.0 338.7l1.68 -2.88h3.36l1.68 2.88l-1.68 2.88h-3.36zM206.0 479.8l1.68 -2.88h3.36l1.68 2.88l-1.68 2.88h-3.36zM436.0 289.7l1.68 -2.88h3.36l1.68 2.88l-1.68 2.88h-3.36zM631.0 235.0l1.68 -2.88h3.36l1.68 2.88l-1.68 2.88h-3.36zM191.0 361.7l1.68 -2.88h3.36l1.68 2.88l-1.68 2.88h-3.36zM451.0 286.9l1.68 -2.88h3.36l1.68 2.88l-1.68 2.88h-3.36zM301.0 229.3l1.68 -2.88h3.36l1.68 2.88l-1.68 2.88h-3.36zM351.0 298.4l1.68 -2.88h3.36l1.68 2.88l-1.68 2.88h-3.36zM196.0 606.5l1.68 -2.88h3.36l1.68 2.88l-1.68 2.88h-3.36zM331.0 206.2l1.68 -2.88h3.36l1.68 2.88l-1.68 2.88h-3.36zM206.0 606.5l1.68 -2.88h3.36l1.68 2.88l-1.68 2.88h-3.36zM371.0 304.1l1.68 -2.88h3.36l1.68 2.88l-1.68 2.88h-3.36zM311.0 321.4l1.68 -2.88h3.36l1.68 2.88l-1.68 2.88h-3.36zM271.0 298.4l1.68 -2.88h3.36l1.68 2.88l-1.68 2.88h-3.36zM136.0 433.7l1.68 -2.88h3.36l1.68 2.88l-1.68 2.88h-3.36zM151.0 402.1l1.68 -2.88h3.36l1.68 2.88l-1.68 2.88h-3.36zM301.0 298.4l1.68 -2.88h3.36l1.68 2.88l-1.68 2.88h-3.36zM256.0 508.6l1.68 -2.88h3.36l1.68 2.88l-1.68 2.88h-3.36zM296.0 376.1l1.68 -2.88h3.36l1.68 2.88l-1.68 2.88h-3.36zM316.0 410.7l1.68 -2.88h3.36l1.68 2.88l-1.68 2.88h-3.36zM261.0 350.2l1.68 -2.88h3.36l1.68 2.88l-1.68 2.88h-3.36z"/>
<path fill="rgb(237,213,179)" d="M296.0 318.5l1.68 -2.88h3.36l1.68 2.88l-1.68 2.88h-3.36zM196.0 468.3l1.68 -2.88h3.36l1.68 2.88l-1.68 2.88h-3.36zM121.0 425.1l1.68 -2.88h3.36l1.68 2.88l-1.68 2.88h-3.36zM311.0 448.1l1.68 -2.88h3.36l1.68 2.88l-1.68 2.88h-3.36zM286.0 502.9l1.68 -2.88h3.36l1.68 2.88l-1.68 2.88h-3.36zM291.0 298.4l1.68 -2.88h3.36l1.68 2.88l-1.68 2.88h-3.36zM286.0 370.4l1.68 -2.88h3.36l1.68 2.88l-1.68 2.88h-3.36zM231.0 390.5l1.68 -2.88h3.36l1.68 2.88l-1.68 2.88h-3.36zM236.0 589.3l1.68 -2.88h3.36l1.68 2.88l-1.68 2.88h-3.36zM246.0 232.1l1.68 -2.88h3.36l1.68 2.88l-1.68 2.88h-3.36zM261.0 286.9l1.68 -2.88h3.36l1.68 2.88l-1.68 2.88h-3.36zM141.0 263.8l1.68 -2.88h3.36l1.68 2.88l-1.68 2.88h-3.36zM196.0 497.1l1.68 -2.88h3.36l1.68 2.88l-1.68 2.88h-3.36zM136.0 514.4l1.68 -2.88h3.36l1.68 2.88l-1.68 2.88h-3.36zM191.0 436.6l1.68 -2.88h3.36l1.68 2.88l-1.68 2.88h-3.36zM381.0 453.9l1.68 -2.88h3.36l1.68 2.88l-1.68 2.88h-3.36zM361.0 286.9l1.68 -2.88h3.36l1.68 2.88l-1.68 2.88h-3.36zM346.0 307.0l1.68 -2.88h3.36l1.68 2.88l-1.68 2.88h-3.36zM281.0 315.7l1.68 -2.88h3.36l1.68 2.88l-1.68 2.88h-3.36zM391.0 453.9l1.68 -2.88h3.36l1.68 2.88l-1.68 2.88h-3.36zM136.0 266.7l1.68 -2.88h3.36l1.68 2.88l-1.68 2.88h-3.36zM341.0 108.3l1.68 -2.88h3.36l1.68 2.88l-1.68 2.88h-3.36zM356.0 381.9l1.68 -2.88h3.36l1.68 2.88l-1.68 2.88h-3.36zM386.0 381.9l1.68 -2.88h3.36l1.68 2.88l-1.68 2.88h-3.36zM286.0 451.0l1.68 -2.88h3.36l1.68 2.88l-1.68 2.88h-3.36zM341.0 500.0l1.68 -2.88h3.36l1.68 2.88l-1.68 2.88h-3.36zM461.0 281.1l1.68 -2.88h3.36l1.68 2.88l-1.68 2.88h-3.36zM206.0 508.6l1.68 -2.88h3.36l1.68 2.88l-1.68 2.88h-3.36zM341.0 309.9l1.68 -2.88h3.36l1.68 2.88l-1.68 2.88h-3.36zM266.0 301.3l1.68 -2.88h3.36l1.68 2.88l-1.68 2.88h-3.36zM221.0 344.5l1.68 -2.88h3.36l1.68 2.88l-1.68 2.88h-3.36zM146.0 543.2l1.68 -2.88h3.36l1.68 2.88l-1.68 2.88h-3.36zM326.0 468.3l1.68 -2.88h3.36l1.68 2.88l-1.68 2.88h-3.36zM366.0 330.1l1.68 -2.88h3.36l1.68 2.88l-1.68 2.88h-3.36zM336.0 111.2l1.68 -2.88h3.36l1.68 2.88l-1.68 2.88h-3.36zM381.0 459.7l1.68 -2.88h3.36l1.68 2.88l-1.68 2.88h-3.36zM141.0 229.3l1.68 -2.88h3.36l1.68 2.88l-1.68 2.88h-3.36zM311.0 292.6l1.68 -2.88h3.36l1.68 2.88l-1.68 2.88h-3.36zM266.0 312.8l1.68 -2.88h3.36l1.68 2.88l-1.68 2.88h-3.36zM336.0 502.9l1.68 -2.88h3.36l1.68 2.88l-1.68 2.88h-3.36zM356.0 197.6l1.68 -2.88h3.36l1.68 2.88l-1.68 2.88h-3.36zM211.0 471.2l1.68 -2.88h3.36l1.68 2.88l-1.68 2.88h-3.36zM241.0 304.1l1.68 -2.88h3.36l1.68 2.88l-1.68 2.88h-3.36zM291.0 459.7l1.68 -2.88h3.36l1.68 2.88l-1.68 2.88h-3.36zM256.0 232.1l1.68 -2.88h3.36l1.68 2.88l-1.68 2.88h-3.36zM506.0 76.6l1.68 -2.88h3.36l1.68 2.88l-1.68 2.88h-3.36zM141.0 240.8l1.68 -2.88h3.36l1.68 2.88l-1.68 2.88h-3.36zM361.0 379.0l1.68 -2.88h3.36l1.68 2.88l-1.68 2.88h-3.36zM286.0 416.5l1.68 -2.88h3.36l1.68 2.88l-1.68 2.88h-3.36zM156.0 186.1l1.68 -2.88h3.36l1.68 2.88l-1.68 2.88h-3.36zM316.0 260.9l1.68 -2.88h3.36l1.68 2.88l-1.68 2.88h-3.36zM346.0 318.5l1.68 -2.88h3.36l1.68 2.88l-1.68 2.88h-3.36zM306.0 502.9l1.68 -2.88h3.36l1.68 2.88l-1.68 2.88h-3.36zM116.0 422.2l1.68 -2.88h3.36l1.68 2.88l-1.68 2.88h-3.36zM211.0 367.5l1.68 -2.88h3.36l1.68 2.88l-1.68 2.88h-3.36zM321.0 367.5l1.68 -2.88h3.36l1.68 2.88l-1.68 2.88h-3.36zM421.0 453.9l1.68 -2.88h3.36l1.68 2.88l-1.68 2.88h-3.36zM231.0 298.4l1.68 -2.88h3.36l1.68 2.88l-1.68 2.88h-3.36zM306.0 255.2l1.68 -2.88h3.36l1.68 2.88l-1.68 2.88h-3.36zM341.0 137.1l1.68 -2.88h3.36l1.68 2.88l-1.68 2.88h-3.36zM321.0 252.3l1.68 -2.88h3.36l1.68 2.88l-1.68 2.88h-3.36zM256.0 312.8l1.68 -2.88h3.36l1.68 2.88l-1.68 2.88h-3.36zM251.0 327.2l1.68 -2.88h3.36l1.68 2.88l-1.68 2.88h-3.36zM346.0 347.3l1.68 -2.88h3.36l1.68 2.88l-1.68 2.88h-3.36zM306.0 324.3l1.68 -2.88h3.36l1.68 2.88l-1.68 2.88h-3.36zM156.0 191.8l1.68 -2.88h3.36l1.68 2.88l-1.68 2.88h-3.36zM226.0 514.4l1.68 -2.88h3.36l1.68 2.88l-1.68 2.88h-3.36zM281.0 430.9l1.68 -2.88h3.36l1.68 2.88l-1.68 2.88h-3.36zM236.0 451.0l1.68 -2.88h3.36l1.68 2.88l-1.68 2.88h-3.36zM256.0 514.4l1.68 -2.88h3.36l1.68 2.88l-1.68 2.88h-3.36zM351.0 223.5l1.68 -2.88h3.36l1.68 2.88l-1.68 2.88h-3.36zM86.0 399.2l1.68 -2.88h3.36l1.68 2.88l-1.68 2.88h-3.36zM446.0 168.8l1.68 -2.88h3.36l1.68 2.88l-1.68 2.88h-3.36zM331.0 471.2l1.68 -2.88h3.36l1.68 2.88l-1.68 2.88h-3.36zM236.0 335.8l1.68 -2.88h3.36l1.68 2.88l-1.68 2.88h-3.36zM251.0 396.3l1.68 -2.88h3.36l1.68 2.88l-1.68 2.88h-3.36zM276.0 226.4l1.68 -2.88h3.36l1.68 2.88l-1.68 2.88h-3.36zM346.0 209.1l1.68 -2.88h3.36l1.68 2.88l-1.68 2.88h-3.36zM341.0 350.2l1.68 -2.88h3.36l1.68 2.88l-1.68 2.88h-3.36zM341.0 85.3l1.68 -2.88h3.36l1.68 2.88l-1.68 2.88h-3.36zM316.0 335.8l1.68 -2.88h3.36l1.68 2.88l-1.68 2.88h-3.36zM471.0 125.6l1.68 -2.88h3.36l1.68 2.88l-1.68 2.88h-3.36zM121.0 482.7l1.68 -2.88h3.36l1.68 2.88l-1.68 2.88h-3.36zM221.0 194.7l1.68 -2.88h3.36l1.68 2.88l-1.68 2.88h-3.36zM311.0 505.7l1.68 -2.88h3.36l1.68 2.88l-1.68 2.88h-3.36zM281.0 252.3l1.68 -2.88h3.36l1.68 2.88l-1.68 2.88h-3.36z"/>
<path fill="rgb(236,215,186)" d="M506.0 105.4l1.68 -2.88h3.36l1.68 2.88l-1.68 2.88h-3.36zM271.0 235.0l1.68 -2.88h3.36l1.68 2.88l-1.68 2.88h-3.36zM391.0 142.9l1.68 -2.88h3.36l1.68 2.88l-1.68 2.88h-3.36zM381.0 436.6l1.68 -2.88h3.36l1.68 2.88l-1.68 2.88h-3.36zM386.0 387.7l1.68 -2.88h3.36l1.68 2.88l-1.68 2.88h-3.36zM131.0 523.0l1.68 -2.88h3.36l1.68 2.88l-1.68 2.88h-3.36zM201.0 580.6l1.68 -2.88h3.36l1.68 2.88l-1.68 2.88h-3.36zM191.0 188.9l1.68 -2.88h3.36l1.68 2.88l-1.68 2.88h-3.36zM146.0 266.7l1.68 -2.88h3.36l1.68 2.88l-1.68 2.88h-3.36zM306.0 278.2l1.68 -2.88h3.36l1.68 2.88l-1.68 2.88h-3.36zM251.0 298.4l1.68 -2.88h3.36l1.68 2.88l-1.68 2.88h-3.36zM191.0 183.2l1.68 -2.88h3.36l1.68 2.88l-1.68 2.88h-3.36zM411.0 425.1l1.68 -2.88h3.36l1.68 2.88l-1.68 2.88h-3.36zM156.0 232.1l1.68 -2.88h3.36l1.68 2.88l-1.68 2.88h-3.36zM146.0 422.2l1.68 -2.88h3.36l1.68 2.88l-1.68 2.88h-3.36zM311.0 419.3l1.68 -2.88h3.36l1.68 2.88l-1.68 2.88h-3.36zM271.0 281.1l1.68 -2.88h3.36l1.68 2.88l-1.68 2.88h-3.36zM241.0 298.4l1.68 -2.88h3.36l1.68 2.88l-1.68 2.88h-3.36zM266.0 260.9l1.68 -2.88h3.36l1.68 2.88l-1.68 2.88h-3.36zM316.0 387.7l1.68 -2.88h3.36l1.68 2.88l-1.68 2.88h-3.36zM376.0 312.8l1.68 -2.88h3.36l1.68 2.88l-1.68 2.88h-3.36zM371.0 350.2l1.68 -2.88h3.36l1.68 2.88l-1.68 2.88h-3.36zM171.0 459.7l1.68 -2.88h3.36l1.68 2.88l-1.68 2.88h-3.36zM231.0 309.9l1.68 -2.88h3.36l1.68 2.88l-1.68 2.88h-3.36zM476.0 122.7l1.68 -2.88h3.36l1.68 2.88l-1.68 2.88h-3.36zM271.0 223.5l1.68 -2.88h3.36l1.68 2.88l-1.68 2.88h-3.36zM366.0 168.8l1.68 -2.88h3.36l1.68 2.88l-1.68 2.88h-3.36zM141.0 517.3l1.68 -2.88h3.36l1.68 2.88l-1.68 2.88h-3.36zM206.0 168.8l1.68 -2.88h3.36l1.68 2.88l-1.68 2.88h-3.36z"/>
<path fill="rgb(235,219,195)" d="M291.0 315.7l1.68 -2.88h3.36l1.68 2.88l-1.68 2.88h-3.36zM261.0 315.7l1.68 -2.88h3.36l1.68 2.88l-1.68 2.88h-3.36zM251.0 281.1l1.68 -2.88h3.36l1.68 2.88l-1.68 2.88h-3.36z"/>
<path fill="rgb(232,231,231)" d="M441.0 137.1l1.68 -2.88h3.36l1.68 2.88l-1.68 2.88h-3.36z"/>
<path fill="rgb(224,225,229)" d="M431.0 292.6l1.68 -2.88h3.36l1.68 2.88l-1.68 2.88h-3.36zM446.0 134.2l1.68 -2.88h3.36l1.68 2.88l-1.68 2.88h-3.36zM376.0 174.5l1.68 -2.88h3.36l1.68 2.88l-1.68 2.88h-3.36zM326.0 232.1l1.68 -2.88h3.36l1.68 2.88l-1.68 2.88h-3.36z"/>
<path fill="rgb(220,221,227)" d="M366.0 226.4l1.68 -2.88h3.36l1.68 2.88l-1.68 2.88h-3.36z"/>
<path fill="rgb(215,216,225)" d="M306.0 272.5l1.68 -2.88h3.36l1.68 2.88l-1.68 2.88h-3.36zM116.0 260.9l1.68 -2.88h3.36l1.68 2.88l-1.68 2.88h-3.36zM386.0 272.5l1.68 -2.88h3.36l1.68 2.88l-1.68 2.88h-3.36zM371.0 223.5l1.68 -2.88h3.36l1.68 2.88l-1.68 2.88h-3.36zM186.0 226.4l1.68 -2.88h3.36l1.68 2.88l-1.68 2.88h-3.36z"/>
<path fill="rgb(212,213,224)" d="M346.0 186.1l1.68 -2.88h3.36l1.68 2.88l-1.68 2.88h-3.36z"/>
<path fill="rgb(203,205,221)" d="M341.0 200.5l1.68 -2.88h3.36l1.68 2.88l-1.68 2.88h-3.36zM111.0 258.1l1.68 -2.88h3.36l1.68 2.88l-1.68 2.88h-3.36zM386.0 168.8l1.68 -2.88h3.36l1.68 2.88l-1.68 2.88h-3.36z"/>
<path fill="rgb(197,198,217)" d="M311.0 258.1l1.68 -2.88h3.36l1.68 2.88l-1.68 2.88h-3.36zM341.0 246.5l1.68 -2.88h3.36l1.68 2.88l-1.68 2.88h-3.36z"/>
<path fill="rgb(193,193,214)" d="M336.0 243.7l1.68 -2.88h3.36l1.68 2.88l-1.68 2.88h-3.36z"/>
<path fill="rgb(182,179,207)" d="M331.0 275.3l1.68 -2.88h3.36l1.68 2.88l-1.68 2.88h-3.36zM241.0 286.9l1.68 -2.88h3.36l1.68 2.88l-1.68 2.88h-3.36z"/>
<path fill="rgb(177,172,203)" d="M381.0 177.4l1.68 -2.88h3.36l1.68 2.88l-1.68 2.88h-3.36zM346.0 197.6l1.68 -2.88h3.36l1.68 2.88l-1.68 2.88h-3.36z"/>
<path fill="rgb(172,167,201)" d="M436.0 295.5l1.68 -2.88h3.36l1.68 2.88l-1.68 2.88h-3.36z"/>
<path fill="rgb(159,152,191)" d="M356.0 249.4l1.68 -2.88h3.36l1.68 2.88l-1.68 2.88h-3.36zM356.0 191.8l1.68 -2.88h3.36l1.68 2.88l-1.68 2.88h-3.36zM236.0 289.7l1.68 -2.88h3.36l1.68 2.88l-1.68 2.88h-3.36z"/>
<path fill="rgb(50,9,81)" d="M351.0 194.7l1.68 -2.88h3.36l1.68 2.88l-1.68 2.88h-3.36z"/>
</g>
<rect x="7" y="660.5" width="550.5" height="16" fill="#4b4e4e"/>
<rect x="560.5" y="660.5" width="107" height="16" fill="#4b4e4e"/>
<text x="9.3" y="672.3" font-size="13.6" fill="#e8e8e8" textLength="538" lengthAdjust="spacingAndGlyphs">Boston College Campus GIS, Esri, TomTom, Garmin, SafeGraph, METI/NASA, USG...</text>
<text x="562.3" y="672.3" font-size="13.6" fill="#e8e8e8" textLength="102.5" lengthAdjust="spacingAndGlyphs">Powered by Esri</text>
</g>
<rect x="7.5" y="31.0" width="660.0" height="645.0" fill="none" stroke="#000" stroke-width="1.1"/>
<text x="252.3" y="22" font-size="17.2" fill="#1a1a1a" textLength="168.3" lengthAdjust="spacingAndGlyphs">Change 2022-2023</text>
<rect x="708.5" y="25.5" width="34.0" height="655.0" fill="url(#cb)" stroke="#000" stroke-width="1.1"/>
<path d="M743.0 53.0h3.6" stroke="#000" stroke-width="1"/>
<text x="751.6" y="58.2" font-size="14.2" fill="#1a1a1a" textLength="26.5" lengthAdjust="spacingAndGlyphs">500</text>
<path d="M743.0 132.4h3.6" stroke="#000" stroke-width="1"/>
<text x="751.6" y="137.6" font-size="14.2" fill="#1a1a1a" textLength="26.5" lengthAdjust="spacingAndGlyphs">400</text>
<path d="M743.0 211.9h3.6" stroke="#000" stroke-width="1"/>
<text x="751.6" y="217.1" font-size="14.2" fill="#1a1a1a" textLength="26.5" lengthAdjust="spacingAndGlyphs">300</text>
<path d="M743.0 291.3h3.6" stroke="#000" stroke-width="1"/>
<text x="751.6" y="296.5" font-size="14.2" fill="#1a1a1a" textLength="26.5" lengthAdjust="spacingAndGlyphs">200</text>
<path d="M743.0 370.7h3.6" stroke="#000" stroke-width="1"/>
<text x="751.6" y="375.9" font-size="14.2" fill="#1a1a1a" textLength="26.5" lengthAdjust="spacingAndGlyphs">100</text>
<path d="M743.0 450.2h3.6" stroke="#000" stroke-width="1"/>
<text x="751.6" y="455.4" font-size="14.2" fill="#1a1a1a" textLength="8.8" lengthAdjust="spacingAndGlyphs">0</text>
<path d="M743.0 529.6h3.6" stroke="#000" stroke-width="1"/>
<text x="751.6" y="534.8" font-size="14.2" fill="#1a1a1a" textLength="38.2" lengthAdjust="spacingAndGlyphs">−100</text>
<path d="M743.0 609.0h3.6" stroke="#000" stroke-width="1"/>
<text x="751.6" y="614.2" font-size="14.2" fill="#1a1a1a" textLength="38.2" lengthAdjust="spacingAndGlyphs">−200</text>
</svg></body></html>
